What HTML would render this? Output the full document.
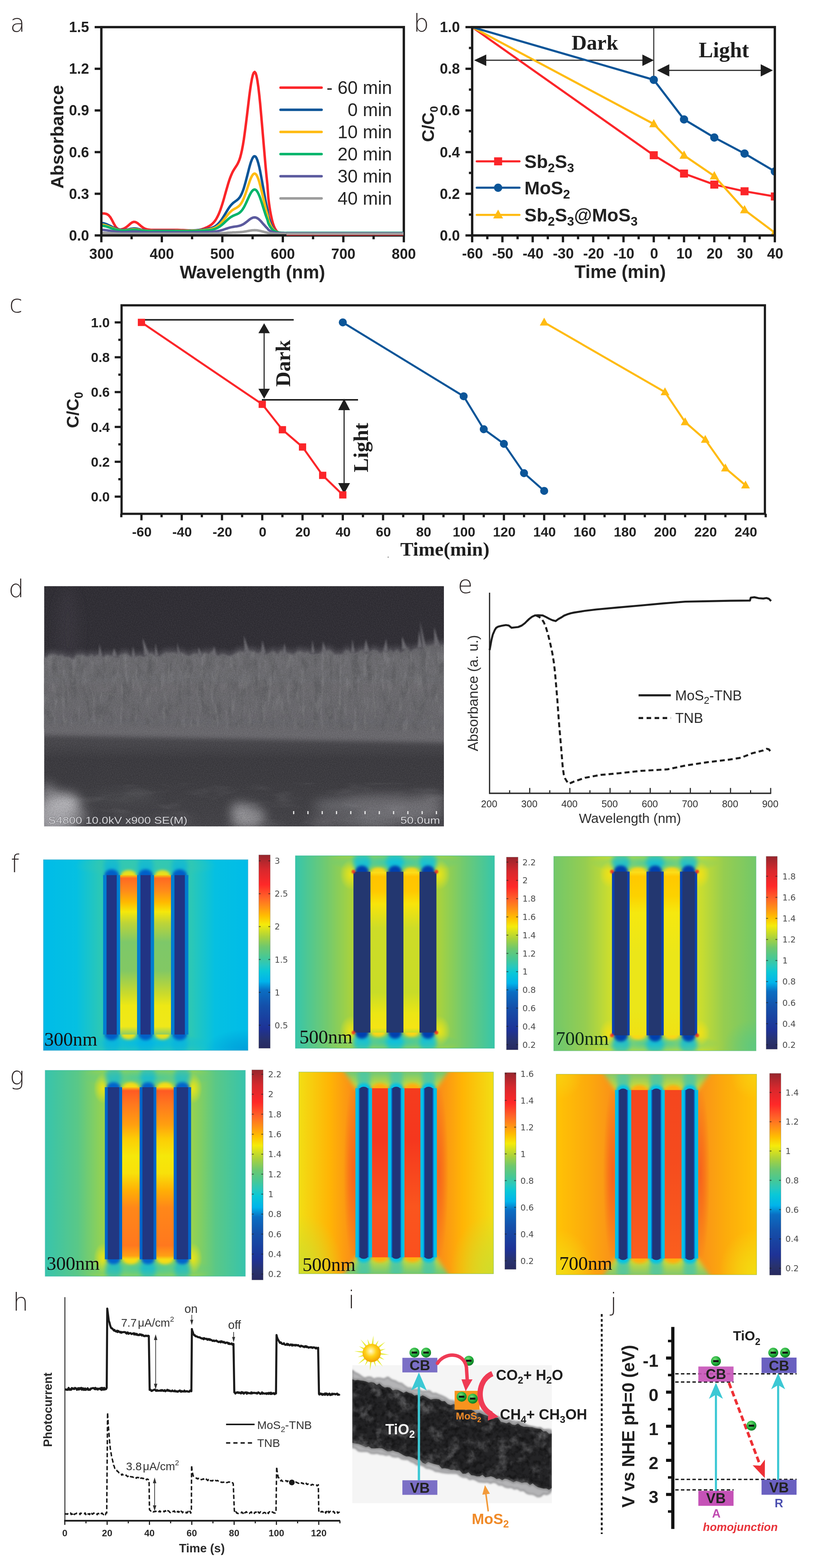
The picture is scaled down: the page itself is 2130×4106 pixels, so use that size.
<!DOCTYPE html><html><head><meta charset="utf-8"><title>Figure</title><style>html,body{margin:0;padding:0;background:#fff;}svg{display:block;}</style></head><body>
<svg width="2130" height="4106" viewBox="0 0 2130 4106">
<defs><clipPath id="clipA"><rect x="266.5" y="71" width="790.5" height="549.5"/></clipPath><clipPath id="clipB"><rect x="1225" y="59" width="805" height="557.5"/></clipPath><clipPath id="semclip"><rect x="115.6" y="1535" width="1047.4" height="629"/></clipPath><linearGradient id="semg" x1="0" y1="0" x2="0" y2="1">
<stop offset="0" stop-color="#302e35"/><stop offset="0.27" stop-color="#312f36"/>
<stop offset="0.62" stop-color="#4c4b50"/><stop offset="0.66" stop-color="#48474c"/>
<stop offset="0.72" stop-color="#3c3b40"/><stop offset="0.80" stop-color="#3d3c41"/>
<stop offset="0.88" stop-color="#403f44"/><stop offset="1" stop-color="#454449"/></linearGradient><linearGradient id="fibg" x1="0" y1="0" x2="0" y2="1">
<stop offset="0" stop-color="#646368"/><stop offset="0.08" stop-color="#727176"/><stop offset="0.4" stop-color="#6c6b70"/><stop offset="0.7" stop-color="#616065"/><stop offset="1" stop-color="#646368"/></linearGradient><filter id="semnoise" x="0" y="0" width="100%" height="100%">
<feTurbulence type="fractalNoise" baseFrequency="0.45" numOctaves="2" seed="4" result="t"/>
<feColorMatrix in="t" type="matrix" values="0 0 0 0 0  0 0 0 0 0  0 0 0 0 0  0 0 0 -1.6 1.05"/></filter><filter id="semnoise2" x="0" y="0" width="100%" height="100%">
<feTurbulence type="fractalNoise" baseFrequency="0.45" numOctaves="2" seed="9" result="t"/>
<feColorMatrix in="t" type="matrix" values="0 0 0 0 1  0 0 0 0 1  0 0 0 0 1  0 0 0 -1.6 1.0"/></filter><filter id="streak" x="0" y="0" width="100%" height="100%">
<feTurbulence type="fractalNoise" baseFrequency="0.05 0.018" numOctaves="3" seed="2" result="t"/>
<feColorMatrix in="t" type="matrix" values="0 0 0 0 0.12  0 0 0 0 0.12  0 0 0 0 0.13  0 0 0 -4.0 2.1"/></filter><filter id="streakw" x="0" y="0" width="100%" height="100%">
<feTurbulence type="fractalNoise" baseFrequency="0.08 0.016" numOctaves="3" seed="17" result="t"/>
<feColorMatrix in="t" type="matrix" values="0 0 0 0 0.75  0 0 0 0 0.75  0 0 0 0 0.76  0 0 0 4.0 -2.1"/></filter><filter id="pits" x="0" y="0" width="100%" height="100%">
<feTurbulence type="fractalNoise" baseFrequency="0.085" numOctaves="3" seed="13" result="t"/>
<feColorMatrix in="t" type="matrix" values="0 0 0 0 0.15  0 0 0 0 0.15  0 0 0 0 0.16  0 0 0 -5 2.65"/></filter><filter id="blotch" x="0" y="0" width="100%" height="100%">
<feTurbulence type="fractalNoise" baseFrequency="0.01 0.035" numOctaves="3" seed="11" result="t"/>
<feColorMatrix in="t" type="matrix" values="0 0 0 0 0.85  0 0 0 0 0.85  0 0 0 0 0.87  0 0 0 2.0 -1.05"/></filter><filter id="blur6" x="-20%" y="-20%" width="140%" height="140%"><feGaussianBlur stdDeviation="6"/></filter><filter id="blur3" x="-20%" y="-20%" width="140%" height="140%"><feGaussianBlur stdDeviation="2.5"/></filter><filter id="blur14" x="-50%" y="-50%" width="200%" height="200%"><feGaussianBlur stdDeviation="14"/></filter><filter id="blur2"><feGaussianBlur stdDeviation="2"/></filter><clipPath id="fibclip"><path d="M110.6 2164 L110.6 1717.6 L116.7 1722.1 L122.2 1720.4 L129.7 1713.6 L138.3 1713.1 L146.3 1713.5 L151.9 1718.3 L162.7 1713.9 L169.3 1720.9 L180.9 1720 L188.7 1725.4 L194 1723.7 L201.1 1713.6 L206.9 1715.7 L217.6 1713.8 L226.7 1720 L234.3 1718.6 L239.7 1711.7 L246.2 1720.3 L254.1 1715 L263.2 1716.8 L270.3 1721.5 L280.2 1713.6 L289.3 1717.4 L300.4 1720 L307.4 1723.4 L313.2 1715.5 L323.5 1711.6 L332 1709.8 L341.6 1719.8 L350.6 1721.2 L357.8 1718.6 L367 1716.8 L375.2 1720.3 L386.8 1715 L396.5 1709 L406.4 1717.1 L418.3 1719.3 L425.3 1713.1 L435 1707.8 L443.2 1709.7 L449 1708.1 L459.4 1708.9 L466.1 1712.4 L477.2 1707.9 L485.4 1714.3 L496.6 1717.9 L507.6 1710.2 L515.5 1711.1 L526.7 1719.3 L532.8 1708.3 L539.4 1709 L547.8 1713.8 L554.6 1705.5 L562.6 1710.5 L571.5 1718.5 L581.4 1712.2 L590.7 1714.3 L596.1 1717.3 L606.5 1716.8 L617.1 1709.9 L624.9 1705.7 L634.3 1705 L639.8 1706.9 L646 1708.6 L651.3 1703.8 L657.4 1705.1 L664.9 1703.9 L676 1712 L682.1 1706.8 L689.5 1708.2 L695.4 1714.9 L707.3 1709.4 L715.7 1703.9 L721.4 1707.4 L728.3 1714.1 L734.4 1702.7 L746.1 1709.6 L752.1 1709.7 L757.3 1709.4 L769.1 1713.9 L779 1705.3 L786.6 1703.8 L797 1708.7 L807.4 1705.7 L814 1712.4 L825.9 1712.7 L836.5 1712.1 L846.7 1703.6 L855.3 1705.3 L860.5 1700.6 L867.5 1703.7 L877.3 1713.3 L885.5 1712.9 L897.4 1712.9 L904.9 1702.5 L911.5 1702.1 L918 1707.9 L929.3 1710.8 L937.6 1708 L948.2 1699.9 L957.8 1711.3 L968.3 1708.8 L976.7 1700.7 L987.2 1702.7 L997.8 1711.4 L1005.6 1703.3 L1017.2 1707.7 L1023.4 1699.2 L1029.4 1710 L1040.1 1699.2 L1050.9 1710.5 L1060.5 1700.3 L1069.3 1696 L1074.4 1707 L1084 1699.4 L1095.5 1696.4 L1106.6 1700.3 L1113.1 1691.4 L1120.1 1690.2 L1129.2 1689.1 L1137.2 1686.2 L1148.5 1687.7 L1156.7 1689.7 L1168.1 1685.8 L1173 1927 L110.6 1907 Z" transform="translate(0 4)"/></clipPath><filter id="mblur5" x="-50%" y="-50%" width="200%" height="200%"><feGaussianBlur stdDeviation="6"/></filter><filter id="mblur3" x="-50%" y="-50%" width="200%" height="200%"><feGaussianBlur stdDeviation="3.5"/></filter><filter id="mblur1" x="-50%" y="-50%" width="200%" height="200%"><feGaussianBlur stdDeviation="1.5"/></filter><clipPath id="mc1"><rect x="113.8" y="2251.2" width="535.8" height="499.4"/></clipPath><linearGradient id="lg2" x1="0" y1="0" x2="1" y2="0"><stop offset="0.0000" stop-color="#00bce8"/><stop offset="0.1605" stop-color="#05c0e2"/><stop offset="0.2831" stop-color="#2dc8b4"/><stop offset="0.7174" stop-color="#2dc8b4"/><stop offset="0.8398" stop-color="#05c0e2"/><stop offset="1.0000" stop-color="#00bce8"/></linearGradient><radialGradient id="rg3"><stop offset="0" stop-color="#37c8af" stop-opacity="0.9"/><stop offset="0.45" stop-color="#37c8af" stop-opacity="0.54"/><stop offset="1" stop-color="#37c8af" stop-opacity="0"/></radialGradient><radialGradient id="rg4"><stop offset="0" stop-color="#00b9e8" stop-opacity="0.9"/><stop offset="0.45" stop-color="#00b9e8" stop-opacity="0.54"/><stop offset="1" stop-color="#00b9e8" stop-opacity="0"/></radialGradient><radialGradient id="rg5"><stop offset="0" stop-color="#008cd2" stop-opacity="0.6"/><stop offset="0.45" stop-color="#008cd2" stop-opacity="0.36"/><stop offset="1" stop-color="#008cd2" stop-opacity="0"/></radialGradient><radialGradient id="rg6"><stop offset="0" stop-color="#008cd2" stop-opacity="0.6"/><stop offset="0.45" stop-color="#008cd2" stop-opacity="0.36"/><stop offset="1" stop-color="#008cd2" stop-opacity="0"/></radialGradient><linearGradient id="lg7" x1="0" y1="2251.2" x2="0" y2="2291.5" gradientUnits="userSpaceOnUse"><stop offset="0.0000" stop-color="#00afe6" stop-opacity="0.44999999999999996"/><stop offset="1.0000" stop-color="#00afe6" stop-opacity="0.75"/></linearGradient><linearGradient id="lg8" x1="0" y1="2709" x2="0" y2="2750.6" gradientUnits="userSpaceOnUse"><stop offset="0.0000" stop-color="#00afe6" stop-opacity="0.75"/><stop offset="1.0000" stop-color="#00afe6" stop-opacity="0.44999999999999996"/></linearGradient><linearGradient id="lg9" x1="0" y1="2251.2" x2="0" y2="2291.5" gradientUnits="userSpaceOnUse"><stop offset="0.0000" stop-color="#00afe6" stop-opacity="0.44999999999999996"/><stop offset="1.0000" stop-color="#00afe6" stop-opacity="0.75"/></linearGradient><linearGradient id="lg10" x1="0" y1="2709" x2="0" y2="2750.6" gradientUnits="userSpaceOnUse"><stop offset="0.0000" stop-color="#00afe6" stop-opacity="0.75"/><stop offset="1.0000" stop-color="#00afe6" stop-opacity="0.44999999999999996"/></linearGradient><linearGradient id="lg11" x1="0" y1="2251.2" x2="0" y2="2291.5" gradientUnits="userSpaceOnUse"><stop offset="0.0000" stop-color="#00afe6" stop-opacity="0.44999999999999996"/><stop offset="1.0000" stop-color="#00afe6" stop-opacity="0.75"/></linearGradient><linearGradient id="lg12" x1="0" y1="2709" x2="0" y2="2750.6" gradientUnits="userSpaceOnUse"><stop offset="0.0000" stop-color="#00afe6" stop-opacity="0.75"/><stop offset="1.0000" stop-color="#00afe6" stop-opacity="0.44999999999999996"/></linearGradient><linearGradient id="lg13" x1="0" y1="0" x2="0" y2="1"><stop offset="0.0000" stop-color="#f5c80a"/><stop offset="0.0200" stop-color="#ff6923"/><stop offset="0.1000" stop-color="#ff8c19"/><stop offset="0.1700" stop-color="#ffb900"/><stop offset="0.2300" stop-color="#f5e80a"/><stop offset="0.3000" stop-color="#bed437"/><stop offset="0.4200" stop-color="#7dc869"/><stop offset="0.6000" stop-color="#82c864"/><stop offset="0.7400" stop-color="#c8da2d"/><stop offset="0.8200" stop-color="#eee814"/><stop offset="0.9500" stop-color="#f0e819"/><stop offset="1.0000" stop-color="#8ccd64"/></linearGradient><linearGradient id="lg14" x1="0" y1="0" x2="0" y2="1"><stop offset="0.0000" stop-color="#f5c80a"/><stop offset="0.0200" stop-color="#ff6923"/><stop offset="0.1000" stop-color="#ff8c19"/><stop offset="0.1700" stop-color="#ffb900"/><stop offset="0.2300" stop-color="#f5e80a"/><stop offset="0.3000" stop-color="#bed437"/><stop offset="0.4200" stop-color="#7dc869"/><stop offset="0.6000" stop-color="#82c864"/><stop offset="0.7400" stop-color="#c8da2d"/><stop offset="0.8200" stop-color="#eee814"/><stop offset="0.9500" stop-color="#f0e819"/><stop offset="1.0000" stop-color="#8ccd64"/></linearGradient><linearGradient id="lg15" x1="0" y1="0" x2="0" y2="1"><stop offset="0.0000" stop-color="#96262d"/><stop offset="0.0740" stop-color="#d7282d"/><stop offset="0.1540" stop-color="#ff2828"/><stop offset="0.2200" stop-color="#ff6428"/><stop offset="0.2750" stop-color="#ff9614"/><stop offset="0.3150" stop-color="#ffbe00"/><stop offset="0.3600" stop-color="#f5eb0a"/><stop offset="0.4230" stop-color="#aad23c"/><stop offset="0.4750" stop-color="#6ec86e"/><stop offset="0.5300" stop-color="#46c896"/><stop offset="0.5700" stop-color="#28c8be"/><stop offset="0.6000" stop-color="#0ac8d7"/><stop offset="0.6550" stop-color="#00b4eb"/><stop offset="0.7000" stop-color="#0a6ec3"/><stop offset="0.7800" stop-color="#1450aa"/><stop offset="0.9000" stop-color="#1e3296"/><stop offset="0.9550" stop-color="#28326e"/><stop offset="1.0000" stop-color="#282a5f"/></linearGradient><clipPath id="mc16"><rect x="774" y="2240.9" width="521.4" height="504.1"/></clipPath><linearGradient id="lg17" x1="0" y1="0" x2="1" y2="0"><stop offset="0.0000" stop-color="#37c6aa"/><stop offset="0.1603" stop-color="#73ca6e"/><stop offset="0.2828" stop-color="#aad23c"/><stop offset="0.7172" stop-color="#aad23c"/><stop offset="0.8397" stop-color="#73ca6e"/><stop offset="1.0000" stop-color="#37c6aa"/></linearGradient><radialGradient id="rg18"><stop offset="0" stop-color="#32c8b4" stop-opacity="0.95"/><stop offset="0.45" stop-color="#32c8b4" stop-opacity="0.57"/><stop offset="1" stop-color="#32c8b4" stop-opacity="0"/></radialGradient><radialGradient id="rg19"><stop offset="0" stop-color="#32c8b4" stop-opacity="0.95"/><stop offset="0.45" stop-color="#32c8b4" stop-opacity="0.57"/><stop offset="1" stop-color="#32c8b4" stop-opacity="0"/></radialGradient><radialGradient id="rg20"><stop offset="0" stop-color="#f0e614" stop-opacity="0.9"/><stop offset="0.45" stop-color="#f0e614" stop-opacity="0.54"/><stop offset="1" stop-color="#f0e614" stop-opacity="0"/></radialGradient><radialGradient id="rg21"><stop offset="0" stop-color="#f0e614" stop-opacity="0.9"/><stop offset="0.45" stop-color="#f0e614" stop-opacity="0.54"/><stop offset="1" stop-color="#f0e614" stop-opacity="0"/></radialGradient><radialGradient id="rg22"><stop offset="0" stop-color="#f0e614" stop-opacity="0.9"/><stop offset="0.45" stop-color="#f0e614" stop-opacity="0.54"/><stop offset="1" stop-color="#f0e614" stop-opacity="0"/></radialGradient><radialGradient id="rg23"><stop offset="0" stop-color="#f0e614" stop-opacity="0.9"/><stop offset="0.45" stop-color="#f0e614" stop-opacity="0.54"/><stop offset="1" stop-color="#f0e614" stop-opacity="0"/></radialGradient><linearGradient id="lg24" x1="0" y1="2240.9" x2="0" y2="2282.8" gradientUnits="userSpaceOnUse"><stop offset="0.0000" stop-color="#00beeb" stop-opacity="0.57"/><stop offset="1.0000" stop-color="#00beeb" stop-opacity="0.95"/></linearGradient><linearGradient id="lg25" x1="0" y1="2704" x2="0" y2="2745" gradientUnits="userSpaceOnUse"><stop offset="0.0000" stop-color="#00beeb" stop-opacity="0.95"/><stop offset="1.0000" stop-color="#00beeb" stop-opacity="0.57"/></linearGradient><linearGradient id="lg26" x1="0" y1="2240.9" x2="0" y2="2282.8" gradientUnits="userSpaceOnUse"><stop offset="0.0000" stop-color="#00beeb" stop-opacity="0.57"/><stop offset="1.0000" stop-color="#00beeb" stop-opacity="0.95"/></linearGradient><linearGradient id="lg27" x1="0" y1="2704" x2="0" y2="2745" gradientUnits="userSpaceOnUse"><stop offset="0.0000" stop-color="#00beeb" stop-opacity="0.95"/><stop offset="1.0000" stop-color="#00beeb" stop-opacity="0.57"/></linearGradient><linearGradient id="lg28" x1="0" y1="2240.9" x2="0" y2="2282.8" gradientUnits="userSpaceOnUse"><stop offset="0.0000" stop-color="#00beeb" stop-opacity="0.57"/><stop offset="1.0000" stop-color="#00beeb" stop-opacity="0.95"/></linearGradient><linearGradient id="lg29" x1="0" y1="2704" x2="0" y2="2745" gradientUnits="userSpaceOnUse"><stop offset="0.0000" stop-color="#00beeb" stop-opacity="0.95"/><stop offset="1.0000" stop-color="#00beeb" stop-opacity="0.57"/></linearGradient><linearGradient id="lg30" x1="0" y1="0" x2="0" y2="1"><stop offset="0.0000" stop-color="#fae11e"/><stop offset="0.0300" stop-color="#ffc300"/><stop offset="0.1200" stop-color="#ffc800"/><stop offset="0.2000" stop-color="#f8e40a"/><stop offset="0.3500" stop-color="#cddc28"/><stop offset="0.7500" stop-color="#c8dc28"/><stop offset="0.8800" stop-color="#ebe614"/><stop offset="0.9700" stop-color="#f5e414"/><stop offset="1.0000" stop-color="#c8dc28"/></linearGradient><linearGradient id="lg31" x1="0" y1="0" x2="0" y2="1"><stop offset="0.0000" stop-color="#fae11e"/><stop offset="0.0300" stop-color="#ffc300"/><stop offset="0.1200" stop-color="#ffc800"/><stop offset="0.2000" stop-color="#f8e40a"/><stop offset="0.3500" stop-color="#cddc28"/><stop offset="0.7500" stop-color="#c8dc28"/><stop offset="0.8800" stop-color="#ebe614"/><stop offset="0.9700" stop-color="#f5e414"/><stop offset="1.0000" stop-color="#c8dc28"/></linearGradient><linearGradient id="lg32" x1="0" y1="0" x2="0" y2="1"><stop offset="0.0000" stop-color="#96262d"/><stop offset="0.0740" stop-color="#d7282d"/><stop offset="0.1540" stop-color="#ff2828"/><stop offset="0.2200" stop-color="#ff6428"/><stop offset="0.2750" stop-color="#ff9614"/><stop offset="0.3150" stop-color="#ffbe00"/><stop offset="0.3600" stop-color="#f5eb0a"/><stop offset="0.4230" stop-color="#aad23c"/><stop offset="0.4750" stop-color="#6ec86e"/><stop offset="0.5300" stop-color="#46c896"/><stop offset="0.5700" stop-color="#28c8be"/><stop offset="0.6000" stop-color="#0ac8d7"/><stop offset="0.6550" stop-color="#00b4eb"/><stop offset="0.7000" stop-color="#0a6ec3"/><stop offset="0.7800" stop-color="#1450aa"/><stop offset="0.9000" stop-color="#1e3296"/><stop offset="0.9550" stop-color="#28326e"/><stop offset="1.0000" stop-color="#282a5f"/></linearGradient><clipPath id="mc33"><rect x="1450.8" y="2242.5" width="529.9" height="509.1"/></clipPath><linearGradient id="lg34" x1="0" y1="0" x2="1" y2="0"><stop offset="0.0000" stop-color="#73c869"/><stop offset="0.1583" stop-color="#96cd50"/><stop offset="0.2792" stop-color="#cdde2d"/><stop offset="0.7177" stop-color="#cdde2d"/><stop offset="0.8400" stop-color="#96cd50"/><stop offset="1.0000" stop-color="#73c869"/></linearGradient><radialGradient id="rg35"><stop offset="0" stop-color="#46c8a0" stop-opacity="0.95"/><stop offset="0.45" stop-color="#46c8a0" stop-opacity="0.57"/><stop offset="1" stop-color="#46c8a0" stop-opacity="0"/></radialGradient><radialGradient id="rg36"><stop offset="0" stop-color="#46c8a0" stop-opacity="0.95"/><stop offset="0.45" stop-color="#46c8a0" stop-opacity="0.57"/><stop offset="1" stop-color="#46c8a0" stop-opacity="0"/></radialGradient><radialGradient id="rg37"><stop offset="0" stop-color="#50c88c" stop-opacity="0.6"/><stop offset="0.45" stop-color="#50c88c" stop-opacity="0.36"/><stop offset="1" stop-color="#50c88c" stop-opacity="0"/></radialGradient><radialGradient id="rg38"><stop offset="0" stop-color="#64c878" stop-opacity="0.5"/><stop offset="0.45" stop-color="#64c878" stop-opacity="0.3"/><stop offset="1" stop-color="#64c878" stop-opacity="0"/></radialGradient><radialGradient id="rg39"><stop offset="0" stop-color="#f5e114" stop-opacity="0.9"/><stop offset="0.45" stop-color="#f5e114" stop-opacity="0.54"/><stop offset="1" stop-color="#f5e114" stop-opacity="0"/></radialGradient><radialGradient id="rg40"><stop offset="0" stop-color="#f5e114" stop-opacity="0.9"/><stop offset="0.45" stop-color="#f5e114" stop-opacity="0.54"/><stop offset="1" stop-color="#f5e114" stop-opacity="0"/></radialGradient><radialGradient id="rg41"><stop offset="0" stop-color="#f5e114" stop-opacity="0.9"/><stop offset="0.45" stop-color="#f5e114" stop-opacity="0.54"/><stop offset="1" stop-color="#f5e114" stop-opacity="0"/></radialGradient><radialGradient id="rg42"><stop offset="0" stop-color="#f5e114" stop-opacity="0.9"/><stop offset="0.45" stop-color="#f5e114" stop-opacity="0.54"/><stop offset="1" stop-color="#f5e114" stop-opacity="0"/></radialGradient><linearGradient id="lg43" x1="0" y1="2242.5" x2="0" y2="2282.4" gradientUnits="userSpaceOnUse"><stop offset="0.0000" stop-color="#00b9e8" stop-opacity="0.54"/><stop offset="1.0000" stop-color="#00b9e8" stop-opacity="0.9"/></linearGradient><linearGradient id="lg44" x1="0" y1="2711.2" x2="0" y2="2751.6" gradientUnits="userSpaceOnUse"><stop offset="0.0000" stop-color="#00b9e8" stop-opacity="0.9"/><stop offset="1.0000" stop-color="#00b9e8" stop-opacity="0.54"/></linearGradient><linearGradient id="lg45" x1="0" y1="2242.5" x2="0" y2="2282.4" gradientUnits="userSpaceOnUse"><stop offset="0.0000" stop-color="#00b9e8" stop-opacity="0.54"/><stop offset="1.0000" stop-color="#00b9e8" stop-opacity="0.9"/></linearGradient><linearGradient id="lg46" x1="0" y1="2711.2" x2="0" y2="2751.6" gradientUnits="userSpaceOnUse"><stop offset="0.0000" stop-color="#00b9e8" stop-opacity="0.9"/><stop offset="1.0000" stop-color="#00b9e8" stop-opacity="0.54"/></linearGradient><linearGradient id="lg47" x1="0" y1="2242.5" x2="0" y2="2282.4" gradientUnits="userSpaceOnUse"><stop offset="0.0000" stop-color="#00b9e8" stop-opacity="0.54"/><stop offset="1.0000" stop-color="#00b9e8" stop-opacity="0.9"/></linearGradient><linearGradient id="lg48" x1="0" y1="2711.2" x2="0" y2="2751.6" gradientUnits="userSpaceOnUse"><stop offset="0.0000" stop-color="#00b9e8" stop-opacity="0.9"/><stop offset="1.0000" stop-color="#00b9e8" stop-opacity="0.54"/></linearGradient><linearGradient id="lg49" x1="0" y1="0" x2="0" y2="1"><stop offset="0.0000" stop-color="#fae11e"/><stop offset="0.0300" stop-color="#ffc800"/><stop offset="0.1500" stop-color="#fcd200"/><stop offset="0.2500" stop-color="#f5e80f"/><stop offset="0.5000" stop-color="#ebe619"/><stop offset="0.8500" stop-color="#ebe619"/><stop offset="1.0000" stop-color="#f0e114"/></linearGradient><linearGradient id="lg50" x1="0" y1="0" x2="0" y2="1"><stop offset="0.0000" stop-color="#fae11e"/><stop offset="0.0300" stop-color="#ffc800"/><stop offset="0.1500" stop-color="#fcd200"/><stop offset="0.2500" stop-color="#f5e80f"/><stop offset="0.5000" stop-color="#ebe619"/><stop offset="0.8500" stop-color="#ebe619"/><stop offset="1.0000" stop-color="#f0e114"/></linearGradient><linearGradient id="lg51" x1="0" y1="0" x2="0" y2="1"><stop offset="0.0000" stop-color="#96262d"/><stop offset="0.0740" stop-color="#d7282d"/><stop offset="0.1540" stop-color="#ff2828"/><stop offset="0.2200" stop-color="#ff6428"/><stop offset="0.2750" stop-color="#ff9614"/><stop offset="0.3150" stop-color="#ffbe00"/><stop offset="0.3600" stop-color="#f5eb0a"/><stop offset="0.4230" stop-color="#aad23c"/><stop offset="0.4750" stop-color="#6ec86e"/><stop offset="0.5300" stop-color="#46c896"/><stop offset="0.5700" stop-color="#28c8be"/><stop offset="0.6000" stop-color="#0ac8d7"/><stop offset="0.6550" stop-color="#00b4eb"/><stop offset="0.7000" stop-color="#0a6ec3"/><stop offset="0.7800" stop-color="#1450aa"/><stop offset="0.9000" stop-color="#1e3296"/><stop offset="0.9550" stop-color="#28326e"/><stop offset="1.0000" stop-color="#282a5f"/></linearGradient><clipPath id="mc52"><rect x="118.3" y="2802.8" width="524.5" height="539.2"/></clipPath><linearGradient id="lg53" x1="0" y1="0" x2="1" y2="0"><stop offset="0.0000" stop-color="#37c4ac"/><stop offset="0.1640" stop-color="#5ac887"/><stop offset="0.2892" stop-color="#96d250"/><stop offset="0.7370" stop-color="#96d250"/><stop offset="0.8509" stop-color="#5ac887"/><stop offset="1.0000" stop-color="#37c4ac"/></linearGradient><radialGradient id="rg54"><stop offset="0" stop-color="#3cc8aa" stop-opacity="0.85"/><stop offset="0.45" stop-color="#3cc8aa" stop-opacity="0.51"/><stop offset="1" stop-color="#3cc8aa" stop-opacity="0"/></radialGradient><radialGradient id="rg55"><stop offset="0" stop-color="#3cc8aa" stop-opacity="0.85"/><stop offset="0.45" stop-color="#3cc8aa" stop-opacity="0.51"/><stop offset="1" stop-color="#3cc8aa" stop-opacity="0"/></radialGradient><radialGradient id="rg56"><stop offset="0" stop-color="#f0e614" stop-opacity="0.9"/><stop offset="0.45" stop-color="#f0e614" stop-opacity="0.54"/><stop offset="1" stop-color="#f0e614" stop-opacity="0"/></radialGradient><radialGradient id="rg57"><stop offset="0" stop-color="#f0e614" stop-opacity="0.9"/><stop offset="0.45" stop-color="#f0e614" stop-opacity="0.54"/><stop offset="1" stop-color="#f0e614" stop-opacity="0"/></radialGradient><radialGradient id="rg58"><stop offset="0" stop-color="#f0e614" stop-opacity="0.9"/><stop offset="0.45" stop-color="#f0e614" stop-opacity="0.54"/><stop offset="1" stop-color="#f0e614" stop-opacity="0"/></radialGradient><radialGradient id="rg59"><stop offset="0" stop-color="#f0e614" stop-opacity="0.9"/><stop offset="0.45" stop-color="#f0e614" stop-opacity="0.54"/><stop offset="1" stop-color="#f0e614" stop-opacity="0"/></radialGradient><linearGradient id="lg60" x1="0" y1="2802.8" x2="0" y2="2847" gradientUnits="userSpaceOnUse"><stop offset="0.0000" stop-color="#00b4e6" stop-opacity="0.44999999999999996"/><stop offset="1.0000" stop-color="#00b4e6" stop-opacity="0.75"/></linearGradient><linearGradient id="lg61" x1="0" y1="3297.6" x2="0" y2="3342" gradientUnits="userSpaceOnUse"><stop offset="0.0000" stop-color="#00b4e6" stop-opacity="0.75"/><stop offset="1.0000" stop-color="#00b4e6" stop-opacity="0.44999999999999996"/></linearGradient><linearGradient id="lg62" x1="0" y1="2802.8" x2="0" y2="2847" gradientUnits="userSpaceOnUse"><stop offset="0.0000" stop-color="#00b4e6" stop-opacity="0.44999999999999996"/><stop offset="1.0000" stop-color="#00b4e6" stop-opacity="0.75"/></linearGradient><linearGradient id="lg63" x1="0" y1="3297.6" x2="0" y2="3342" gradientUnits="userSpaceOnUse"><stop offset="0.0000" stop-color="#00b4e6" stop-opacity="0.75"/><stop offset="1.0000" stop-color="#00b4e6" stop-opacity="0.44999999999999996"/></linearGradient><linearGradient id="lg64" x1="0" y1="2802.8" x2="0" y2="2847" gradientUnits="userSpaceOnUse"><stop offset="0.0000" stop-color="#00b4e6" stop-opacity="0.44999999999999996"/><stop offset="1.0000" stop-color="#00b4e6" stop-opacity="0.75"/></linearGradient><linearGradient id="lg65" x1="0" y1="3297.6" x2="0" y2="3342" gradientUnits="userSpaceOnUse"><stop offset="0.0000" stop-color="#00b4e6" stop-opacity="0.75"/><stop offset="1.0000" stop-color="#00b4e6" stop-opacity="0.44999999999999996"/></linearGradient><linearGradient id="lg66" x1="0" y1="0" x2="0" y2="1"><stop offset="0.0000" stop-color="#fac814"/><stop offset="0.0200" stop-color="#ff5a23"/><stop offset="0.1000" stop-color="#ff781e"/><stop offset="0.2200" stop-color="#ffa00f"/><stop offset="0.3000" stop-color="#fccd05"/><stop offset="0.4000" stop-color="#f5e80a"/><stop offset="0.5000" stop-color="#f8e10a"/><stop offset="0.6000" stop-color="#ffaf05"/><stop offset="0.7000" stop-color="#ff8719"/><stop offset="0.9200" stop-color="#ff781e"/><stop offset="0.9800" stop-color="#ffa014"/><stop offset="1.0000" stop-color="#f5dc14"/></linearGradient><linearGradient id="lg67" x1="0" y1="0" x2="0" y2="1"><stop offset="0.0000" stop-color="#fac814"/><stop offset="0.0200" stop-color="#ff5a23"/><stop offset="0.1000" stop-color="#ff781e"/><stop offset="0.2200" stop-color="#ffa00f"/><stop offset="0.3000" stop-color="#fccd05"/><stop offset="0.4000" stop-color="#f5e80a"/><stop offset="0.5000" stop-color="#f8e10a"/><stop offset="0.6000" stop-color="#ffaf05"/><stop offset="0.7000" stop-color="#ff8719"/><stop offset="0.9200" stop-color="#ff781e"/><stop offset="0.9800" stop-color="#ffa014"/><stop offset="1.0000" stop-color="#f5dc14"/></linearGradient><linearGradient id="lg68" x1="0" y1="0" x2="0" y2="1"><stop offset="0.0000" stop-color="#96262d"/><stop offset="0.0740" stop-color="#d7282d"/><stop offset="0.1540" stop-color="#ff2828"/><stop offset="0.2200" stop-color="#ff6428"/><stop offset="0.2750" stop-color="#ff9614"/><stop offset="0.3150" stop-color="#ffbe00"/><stop offset="0.3600" stop-color="#f5eb0a"/><stop offset="0.4230" stop-color="#aad23c"/><stop offset="0.4750" stop-color="#6ec86e"/><stop offset="0.5300" stop-color="#46c896"/><stop offset="0.5700" stop-color="#28c8be"/><stop offset="0.6000" stop-color="#0ac8d7"/><stop offset="0.6550" stop-color="#00b4eb"/><stop offset="0.7000" stop-color="#0a6ec3"/><stop offset="0.7800" stop-color="#1450aa"/><stop offset="0.9000" stop-color="#1e3296"/><stop offset="0.9550" stop-color="#28326e"/><stop offset="1.0000" stop-color="#282a5f"/></linearGradient><clipPath id="mc69"><rect x="783" y="2807.2" width="509.8" height="528.2"/></clipPath><linearGradient id="lg70" x1="0" y1="0" x2="1" y2="0"><stop offset="0.0000" stop-color="#f2de14"/><stop offset="0.1599" stop-color="#ffb405"/><stop offset="0.2820" stop-color="#fa8c19"/><stop offset="0.7178" stop-color="#fa8c19"/><stop offset="0.8400" stop-color="#ffb405"/><stop offset="1.0000" stop-color="#f2de14"/></linearGradient><radialGradient id="rg71"><stop offset="0" stop-color="#cddc2d" stop-opacity="0.9"/><stop offset="0.45" stop-color="#cddc2d" stop-opacity="0.54"/><stop offset="1" stop-color="#cddc2d" stop-opacity="0"/></radialGradient><radialGradient id="rg72"><stop offset="0" stop-color="#cddc2d" stop-opacity="0.9"/><stop offset="0.45" stop-color="#cddc2d" stop-opacity="0.54"/><stop offset="1" stop-color="#cddc2d" stop-opacity="0"/></radialGradient><radialGradient id="rg73"><stop offset="0" stop-color="#f53c1e" stop-opacity="0.5"/><stop offset="0.45" stop-color="#f53c1e" stop-opacity="0.3"/><stop offset="1" stop-color="#f53c1e" stop-opacity="0"/></radialGradient><radialGradient id="rg74"><stop offset="0" stop-color="#f53c1e" stop-opacity="0.5"/><stop offset="0.45" stop-color="#f53c1e" stop-opacity="0.3"/><stop offset="1" stop-color="#f53c1e" stop-opacity="0"/></radialGradient><linearGradient id="lg75" x1="0" y1="2807.2" x2="0" y2="2849.7" gradientUnits="userSpaceOnUse"><stop offset="0.0000" stop-color="#6ec878"/><stop offset="1.0000" stop-color="#d7de2d"/></linearGradient><linearGradient id="lg76" x1="0" y1="3335.4" x2="0" y2="3292.4" gradientUnits="userSpaceOnUse"><stop offset="0.0000" stop-color="#6ec878"/><stop offset="1.0000" stop-color="#d7de2d"/></linearGradient><linearGradient id="lg77" x1="0" y1="2807.2" x2="0" y2="2849.7" gradientUnits="userSpaceOnUse"><stop offset="0.0000" stop-color="#28c3c8" stop-opacity="0.48"/><stop offset="1.0000" stop-color="#28c3c8" stop-opacity="0.8"/></linearGradient><linearGradient id="lg78" x1="0" y1="3292.4" x2="0" y2="3335.4" gradientUnits="userSpaceOnUse"><stop offset="0.0000" stop-color="#28c3c8" stop-opacity="0.8"/><stop offset="1.0000" stop-color="#28c3c8" stop-opacity="0.48"/></linearGradient><linearGradient id="lg79" x1="0" y1="2807.2" x2="0" y2="2849.7" gradientUnits="userSpaceOnUse"><stop offset="0.0000" stop-color="#28c3c8" stop-opacity="0.48"/><stop offset="1.0000" stop-color="#28c3c8" stop-opacity="0.8"/></linearGradient><linearGradient id="lg80" x1="0" y1="3292.4" x2="0" y2="3335.4" gradientUnits="userSpaceOnUse"><stop offset="0.0000" stop-color="#28c3c8" stop-opacity="0.8"/><stop offset="1.0000" stop-color="#28c3c8" stop-opacity="0.48"/></linearGradient><linearGradient id="lg81" x1="0" y1="2807.2" x2="0" y2="2849.7" gradientUnits="userSpaceOnUse"><stop offset="0.0000" stop-color="#28c3c8" stop-opacity="0.48"/><stop offset="1.0000" stop-color="#28c3c8" stop-opacity="0.8"/></linearGradient><linearGradient id="lg82" x1="0" y1="3292.4" x2="0" y2="3335.4" gradientUnits="userSpaceOnUse"><stop offset="0.0000" stop-color="#28c3c8" stop-opacity="0.8"/><stop offset="1.0000" stop-color="#28c3c8" stop-opacity="0.48"/></linearGradient><linearGradient id="lg83" x1="0" y1="0" x2="0" y2="1"><stop offset="0.0000" stop-color="#f53c1e"/><stop offset="0.3000" stop-color="#f5371e"/><stop offset="0.7000" stop-color="#fa551e"/><stop offset="1.0000" stop-color="#fa501e"/></linearGradient><linearGradient id="lg84" x1="0" y1="0" x2="0" y2="1"><stop offset="0.0000" stop-color="#f53c1e"/><stop offset="0.3000" stop-color="#f5371e"/><stop offset="0.7000" stop-color="#fa551e"/><stop offset="1.0000" stop-color="#fa501e"/></linearGradient><linearGradient id="lg85" x1="0" y1="0" x2="0" y2="1"><stop offset="0.0000" stop-color="#96262d"/><stop offset="0.0740" stop-color="#d7282d"/><stop offset="0.1540" stop-color="#ff2828"/><stop offset="0.2200" stop-color="#ff6428"/><stop offset="0.2750" stop-color="#ff9614"/><stop offset="0.3150" stop-color="#ffbe00"/><stop offset="0.3600" stop-color="#f5eb0a"/><stop offset="0.4230" stop-color="#aad23c"/><stop offset="0.4750" stop-color="#6ec86e"/><stop offset="0.5300" stop-color="#46c896"/><stop offset="0.5700" stop-color="#28c8be"/><stop offset="0.6000" stop-color="#0ac8d7"/><stop offset="0.6550" stop-color="#00b4eb"/><stop offset="0.7000" stop-color="#0a6ec3"/><stop offset="0.7800" stop-color="#1450aa"/><stop offset="0.9000" stop-color="#1e3296"/><stop offset="0.9550" stop-color="#28326e"/><stop offset="1.0000" stop-color="#282a5f"/></linearGradient><clipPath id="mc86"><rect x="1457.2" y="2813" width="525.1" height="525"/></clipPath><linearGradient id="lg87" x1="0" y1="0" x2="1" y2="0"><stop offset="0.0000" stop-color="#ffc305"/><stop offset="0.1614" stop-color="#fcaa0c"/><stop offset="0.2847" stop-color="#fa9119"/><stop offset="0.7172" stop-color="#fa9119"/><stop offset="0.8396" stop-color="#fcaa0c"/><stop offset="1.0000" stop-color="#ffc305"/></linearGradient><radialGradient id="rg88"><stop offset="0" stop-color="#f0e114" stop-opacity="0.8"/><stop offset="0.45" stop-color="#f0e114" stop-opacity="0.48"/><stop offset="1" stop-color="#f0e114" stop-opacity="0"/></radialGradient><radialGradient id="rg89"><stop offset="0" stop-color="#f0e114" stop-opacity="0.8"/><stop offset="0.45" stop-color="#f0e114" stop-opacity="0.48"/><stop offset="1" stop-color="#f0e114" stop-opacity="0"/></radialGradient><radialGradient id="rg90"><stop offset="0" stop-color="#f5d714" stop-opacity="0.6"/><stop offset="0.45" stop-color="#f5d714" stop-opacity="0.36"/><stop offset="1" stop-color="#f5d714" stop-opacity="0"/></radialGradient><radialGradient id="rg91"><stop offset="0" stop-color="#f5d714" stop-opacity="0.6"/><stop offset="0.45" stop-color="#f5d714" stop-opacity="0.36"/><stop offset="1" stop-color="#f5d714" stop-opacity="0"/></radialGradient><radialGradient id="rg92"><stop offset="0" stop-color="#f53c1e" stop-opacity="0.55"/><stop offset="0.45" stop-color="#f53c1e" stop-opacity="0.33"/><stop offset="1" stop-color="#f53c1e" stop-opacity="0"/></radialGradient><radialGradient id="rg93"><stop offset="0" stop-color="#f53c1e" stop-opacity="0.55"/><stop offset="0.45" stop-color="#f53c1e" stop-opacity="0.33"/><stop offset="1" stop-color="#f53c1e" stop-opacity="0"/></radialGradient><linearGradient id="lg94" x1="0" y1="2813" x2="0" y2="2854.4" gradientUnits="userSpaceOnUse"><stop offset="0.0000" stop-color="#82c86e"/><stop offset="1.0000" stop-color="#dcde28"/></linearGradient><linearGradient id="lg95" x1="0" y1="3338" x2="0" y2="3295.5" gradientUnits="userSpaceOnUse"><stop offset="0.0000" stop-color="#82c86e"/><stop offset="1.0000" stop-color="#dcde28"/></linearGradient><linearGradient id="lg96" x1="0" y1="2813" x2="0" y2="2854.4" gradientUnits="userSpaceOnUse"><stop offset="0.0000" stop-color="#28c3c8" stop-opacity="0.48"/><stop offset="1.0000" stop-color="#28c3c8" stop-opacity="0.8"/></linearGradient><linearGradient id="lg97" x1="0" y1="3295.5" x2="0" y2="3338" gradientUnits="userSpaceOnUse"><stop offset="0.0000" stop-color="#28c3c8" stop-opacity="0.8"/><stop offset="1.0000" stop-color="#28c3c8" stop-opacity="0.48"/></linearGradient><linearGradient id="lg98" x1="0" y1="2813" x2="0" y2="2854.4" gradientUnits="userSpaceOnUse"><stop offset="0.0000" stop-color="#28c3c8" stop-opacity="0.48"/><stop offset="1.0000" stop-color="#28c3c8" stop-opacity="0.8"/></linearGradient><linearGradient id="lg99" x1="0" y1="3295.5" x2="0" y2="3338" gradientUnits="userSpaceOnUse"><stop offset="0.0000" stop-color="#28c3c8" stop-opacity="0.8"/><stop offset="1.0000" stop-color="#28c3c8" stop-opacity="0.48"/></linearGradient><linearGradient id="lg100" x1="0" y1="2813" x2="0" y2="2854.4" gradientUnits="userSpaceOnUse"><stop offset="0.0000" stop-color="#28c3c8" stop-opacity="0.48"/><stop offset="1.0000" stop-color="#28c3c8" stop-opacity="0.8"/></linearGradient><linearGradient id="lg101" x1="0" y1="3295.5" x2="0" y2="3338" gradientUnits="userSpaceOnUse"><stop offset="0.0000" stop-color="#28c3c8" stop-opacity="0.8"/><stop offset="1.0000" stop-color="#28c3c8" stop-opacity="0.48"/></linearGradient><linearGradient id="lg102" x1="0" y1="0" x2="0" y2="1"><stop offset="0.0000" stop-color="#f5461e"/><stop offset="0.4000" stop-color="#f54b1e"/><stop offset="1.0000" stop-color="#fa5f1e"/></linearGradient><linearGradient id="lg103" x1="0" y1="0" x2="0" y2="1"><stop offset="0.0000" stop-color="#f5461e"/><stop offset="0.4000" stop-color="#f54b1e"/><stop offset="1.0000" stop-color="#fa5f1e"/></linearGradient><linearGradient id="lg104" x1="0" y1="0" x2="0" y2="1"><stop offset="0.0000" stop-color="#96262d"/><stop offset="0.0740" stop-color="#d7282d"/><stop offset="0.1540" stop-color="#ff2828"/><stop offset="0.2200" stop-color="#ff6428"/><stop offset="0.2750" stop-color="#ff9614"/><stop offset="0.3150" stop-color="#ffbe00"/><stop offset="0.3600" stop-color="#f5eb0a"/><stop offset="0.4230" stop-color="#aad23c"/><stop offset="0.4750" stop-color="#6ec86e"/><stop offset="0.5300" stop-color="#46c896"/><stop offset="0.5700" stop-color="#28c8be"/><stop offset="0.6000" stop-color="#0ac8d7"/><stop offset="0.6550" stop-color="#00b4eb"/><stop offset="0.7000" stop-color="#0a6ec3"/><stop offset="0.7800" stop-color="#1450aa"/><stop offset="0.9000" stop-color="#1e3296"/><stop offset="0.9550" stop-color="#28326e"/><stop offset="1.0000" stop-color="#282a5f"/></linearGradient><radialGradient id="egrad" cx="0.4" cy="0.35" r="0.7"><stop offset="0" stop-color="#7be07b"/><stop offset="0.6" stop-color="#1fae3a"/><stop offset="1" stop-color="#0b6e1e"/></radialGradient><radialGradient id="sung" cx="0.45" cy="0.4" r="0.6"><stop offset="0" stop-color="#fffbd0"/><stop offset="0.5" stop-color="#ffd21a"/><stop offset="1" stop-color="#f0a000"/></radialGradient><filter id="temtex" x="0" y="0" width="100%" height="100%">
<feTurbulence type="fractalNoise" baseFrequency="0.03" numOctaves="4" seed="21" result="t"/>
<feColorMatrix in="t" type="matrix" values="0 0 0 0 0.35  0 0 0 0 0.35  0 0 0 0 0.36  0 0 0 2.6 -1.25"/></filter><filter id="temtex2" x="0" y="0" width="100%" height="100%">
<feTurbulence type="fractalNoise" baseFrequency="0.08" numOctaves="3" seed="5" result="t"/>
<feColorMatrix in="t" type="matrix" values="0 0 0 0 0  0 0 0 0 0  0 0 0 0 0  0 0 0 2.2 -0.9"/></filter><filter id="rimblur"><feGaussianBlur stdDeviation="2.5"/></filter><clipPath id="temclip"><rect x="922.9" y="3575" width="522.7" height="361.3"/></clipPath><clipPath id="wireclip"><path d="M923 3612.2 L930.1 3614.4 L937.2 3613.4 L944.4 3615 L951.5 3615.8 L958.6 3617.4 L965.8 3620.4 L972.9 3619.2 L980 3621 L987 3626.6 L994 3623 L1001 3629.7 L1008 3633.4 L1015 3632.4 L1022 3634 L1029 3641.1 L1036 3638.9 L1043.1 3640.1 L1050.2 3643.6 L1057.3 3647.3 L1064.4 3644 L1071.6 3647.4 L1078.7 3649 L1085.8 3654.6 L1092.9 3653 L1100 3657.8 L1107.2 3654.1 L1114.4 3657.2 L1121.6 3661.5 L1128.8 3665.1 L1135.9 3663.4 L1143.1 3663.3 L1150.3 3664.2 L1157.5 3669.2 L1165.3 3669.2 L1173.1 3676.7 L1180.9 3679.6 L1188.8 3677 L1196.6 3680.4 L1204.4 3687.2 L1212.2 3688.5 L1220 3692.5 L1227.1 3691 L1234.1 3691.6 L1241.2 3695.1 L1248.3 3701.4 L1255.4 3699.5 L1262.4 3702.4 L1269.5 3705.2 L1276.6 3707.5 L1283.6 3709.7 L1290.7 3716 L1297.8 3712.2 L1304.9 3713.2 L1311.9 3723 L1319 3724.7 L1326.6 3727.3 L1334.2 3724.5 L1341.9 3730.3 L1349.5 3731.8 L1357.1 3727.8 L1364.8 3733.6 L1372.4 3736 L1380 3736.3 L1387.3 3737.3 L1394.6 3737.5 L1401.9 3740.1 L1409.2 3741.3 L1416.4 3742.1 L1423.7 3748.4 L1431 3748.1 L1438.3 3754.4 L1445.6 3754 L1445.6 3895.9 L1438.5 3901.1 L1431.3 3897.8 L1424.2 3898 L1417.1 3896.2 L1409.9 3894.6 L1402.8 3890.4 L1395.7 3884.2 L1388.5 3888.5 L1381.4 3882.2 L1374.3 3881.6 L1367.1 3882.9 L1360 3880.2 L1352.6 3878.1 L1345.2 3881.1 L1337.9 3877.4 L1330.5 3874 L1323.1 3872.1 L1315.7 3875.8 L1308.3 3871.5 L1300.9 3872.8 L1293.6 3868.2 L1286.2 3865.8 L1278.8 3867.3 L1271.5 3868.4 L1264.1 3862.1 L1256.8 3866 L1249.4 3865.9 L1242 3863.8 L1234.7 3862.8 L1227.3 3855.2 L1220 3859 L1212.2 3859 L1204.4 3850.6 L1196.6 3850.5 L1188.8 3848.6 L1180.9 3848.8 L1173.1 3846.1 L1165.3 3844.7 L1157.5 3845.2 L1150.3 3836.8 L1143.1 3834.9 L1135.9 3833.3 L1128.8 3831 L1121.6 3828.3 L1114.4 3833.3 L1107.2 3830.1 L1100 3821.7 L1092.9 3822.5 L1085.8 3818.5 L1078.7 3816 L1071.6 3813.8 L1064.4 3813.7 L1057.3 3810.7 L1050.2 3806.4 L1043.1 3802.5 L1036 3801.1 L1029 3798.2 L1022 3800.3 L1015 3800.3 L1008 3796.3 L1001 3792.6 L994 3792.1 L987 3792.3 L980 3792.8 L972.9 3792.5 L965.8 3787.5 L958.6 3789.2 L951.5 3786 L944.4 3782.7 L937.2 3780.5 L930.1 3779.7 L923 3778 Z"/></clipPath></defs>
<rect width="2130" height="4106" fill="#fff"/>
<text x="26.8" y="83" font-family="'DejaVu Sans', sans-serif" font-size="63.5" font-weight="200" fill="#2d2626">a</text>
<g clip-path="url(#clipA)">
<path d="M265.5 559 L270.3 559.1 L275 559.3 L279.8 560.5 L284.5 563.5 L289.3 569.2 L294 577.4 L298.8 586.7 L303.5 594.6 L308.3 599.2 L313.1 600.9 L317.8 600.7 L322.6 599.4 L327.3 597.2 L332.1 593.9 L336.8 589.9 L341.6 585.7 L346.3 582.4 L351.1 580.9 L355.8 581.7 L360.6 584.5 L365.4 588.4 L370.1 592.6 L374.9 596.2 L379.6 598.8 L384.4 600.4 L389.1 601.3 L393.9 601.7 L398.6 601.9 L403.4 601.9 L408.1 601.9 L412.9 602 L417.7 602 L422.4 602 L427.2 602 L431.9 602 L436.7 602 L441.4 602 L446.2 602 L450.9 602 L455.7 602 L460.5 602 L465.2 602.1 L470 602.2 L474.7 602.4 L479.5 602.5 L484.2 602.8 L489 603.1 L493.7 603.3 L498.5 603.6 L503.2 603.7 L508 603.7 L512.8 603.5 L517.5 602.9 L522.3 602 L524.6 601.5 L527 600.8 L529.4 600.1 L531.8 599.4 L534.2 598.5 L536.5 597.6 L538.9 596.6 L541.3 595.6 L543.7 594.4 L546 593.2 L548.4 591.8 L550.8 590.3 L553.2 588.6 L555.6 586.7 L557.9 584.5 L560.3 581.9 L562.7 579 L565.1 575.7 L567.4 571.8 L569.8 567.4 L572.2 562.5 L574.6 556.9 L577 550.7 L579.3 544 L581.7 536.7 L584.1 529 L586.5 520.8 L588.8 512.5 L591.2 504 L593.6 495.6 L596 487.3 L598.3 479.4 L600.7 472 L603.1 465.2 L605.5 459.1 L607.9 453.7 L610.2 448.9 L612.6 444.8 L615 441 L617.4 437.4 L619.7 433.8 L622.1 429.8 L624.5 425.1 L626.9 419.3 L629.3 412.1 L631.6 403.3 L634 392.7 L636.4 380 L638.8 365.5 L641.1 349 L643.5 331 L645.9 311.8 L648.3 292 L650.7 272 L653 252.7 L655.4 234.7 L657.8 218.8 L660.2 205.7 L662.5 196 L664.9 190.1 L667.3 188.5 L669.7 191.3 L672.1 199 L674.4 211.2 L676.8 227.7 L679.2 248 L681.6 271.4 L683.9 297.1 L686.3 324.5 L688.7 352.8 L691.1 381.1 L693.5 409 L695.8 435.7 L698.2 460.8 L700.6 484.1 L703 518.2 L705.3 536.1 L707.7 551.5 L710.1 564.5 L712.5 575.3 L714.8 584.1 L717.2 591.2 L719.6 596.8 L722 601.2 L724.4 604.6 L726.7 607.1 L729.1 609 L731.5 610.4 L733.9 611.4 L736.2 612.1 L738.6 612.6 L741 612.9 L743.4 613.2 L745.8 613.3 L748.1 613.4 L750.5 613.5 L752.9 613.5 L755.3 613.6 L757.6 613.6 L762.4 613.6 L767.2 613.6 L771.9 613.6 L776.7 613.6 L781.4 613.6 L786.2 613.6 L790.9 613.6 L795.7 613.6 L800.4 613.6 L805.2 613.6 L809.9 613.6 L814.7 613.6 L819.5 613.6 L824.2 613.6 L829 613.6 L833.7 613.6 L838.5 613.6 L843.2 613.6 L848 613.6 L852.7 613.6 L857.5 613.6 L862.3 613.6 L867 613.6 L871.8 613.6 L876.5 613.6 L881.3 613.6 L886 613.6 L890.8 613.6 L895.5 613.6 L900.3 613.6 L905 613.6 L909.8 613.6 L914.6 613.6 L919.3 613.6 L924.1 613.6 L928.8 613.6 L933.6 613.6 L938.3 613.6 L943.1 613.6 L947.8 613.6 L952.6 613.6 L957.4 613.6 L962.1 613.6 L966.9 613.6 L971.6 613.6 L976.4 613.6 L981.1 613.6 L985.9 613.6 L990.6 613.6 L995.4 613.6 L1000.1 613.6 L1004.9 613.6 L1009.7 613.6 L1014.4 613.6 L1019.2 613.6 L1023.9 613.6 L1028.7 613.6 L1033.4 613.6 L1038.2 613.6 L1042.9 613.6 L1047.7 613.6 L1052.5 613.6 L1057.2 613.6" fill="none" stroke="#fb2529" stroke-width="6.5" stroke-linejoin="round"/>
<path d="M265.5 584.1 L270.3 584.5 L275 585.7 L279.8 587.4 L284.5 589.6 L289.3 592 L294 594.4 L298.8 596.6 L303.5 598.6 L308.3 600.1 L313.1 601.3 L317.8 602 L322.6 602.3 L327.3 602.1 L332.1 601.5 L336.8 600.6 L341.6 599.5 L346.3 598.7 L351.1 598.3 L355.8 598.5 L360.6 599.3 L365.4 600.4 L370.1 601.6 L374.9 602.5 L379.6 603.3 L384.4 603.7 L389.1 603.9 L393.9 604.1 L398.6 604.1 L403.4 604.1 L408.1 604.1 L412.9 604.1 L417.7 604.1 L422.4 604.1 L427.2 604.1 L431.9 604.1 L436.7 604.1 L441.4 604.1 L446.2 604.1 L450.9 604.1 L455.7 604.1 L460.5 604.1 L465.2 604.1 L470 604.1 L474.7 604 L479.5 604 L484.2 603.9 L489 603.8 L493.7 603.7 L498.5 603.6 L503.2 603.4 L508 603.2 L512.8 602.9 L517.5 602.6 L522.3 602.2 L524.6 602 L527 601.7 L529.4 601.5 L531.8 601.2 L534.2 601 L536.5 600.7 L538.9 600.3 L541.3 600 L543.7 599.6 L546 599.1 L548.4 598.6 L550.8 598 L553.2 597.3 L555.6 596.5 L557.9 595.6 L560.3 594.5 L562.7 593.2 L565.1 591.7 L567.4 589.9 L569.8 587.9 L572.2 585.6 L574.6 583 L577 580.1 L579.3 576.9 L581.7 573.5 L584.1 569.8 L586.5 566 L588.8 562.1 L591.2 558.1 L593.6 554.1 L596 550.2 L598.3 546.5 L600.7 543 L603.1 539.8 L605.5 536.9 L607.9 534.3 L610.2 532.1 L612.6 530.1 L615 528.4 L617.4 526.7 L619.7 525 L622.1 523.1 L624.5 520.9 L626.9 518.1 L629.3 514.8 L631.6 510.6 L634 505.6 L636.4 499.6 L638.8 492.7 L641.1 484.9 L643.5 476.4 L645.9 467.3 L648.3 457.9 L650.7 448.5 L653 439.3 L655.4 430.8 L657.8 423.3 L660.2 417.1 L662.5 412.5 L664.9 409.7 L667.3 409 L669.7 410.3 L672.1 414 L674.4 419.8 L676.8 427.6 L679.2 437.2 L681.6 448.3 L683.9 460.5 L686.3 473.5 L688.7 486.9 L691.1 500.4 L693.5 513.6 L695.8 526.3 L698.2 538.2 L700.6 549.2 L703 565.4 L705.3 573.9 L707.7 581.2 L710.1 587.4 L712.5 592.5 L714.8 596.7 L717.2 600.1 L719.6 602.7 L722 604.8 L724.4 606.4 L726.7 607.6 L729.1 608.5 L731.5 609.2 L733.9 609.6 L736.2 610 L738.6 610.2 L741 610.4 L743.4 610.5 L745.8 610.6 L748.1 610.6 L750.5 610.6 L752.9 610.6 L755.3 610.7 L757.6 610.7 L762.4 610.7 L767.2 610.7 L771.9 610.7 L776.7 610.7 L781.4 610.7 L786.2 610.7 L790.9 610.7 L795.7 610.7 L800.4 610.7 L805.2 610.7 L809.9 610.7 L814.7 610.7 L819.5 610.7 L824.2 610.7 L829 610.7 L833.7 610.7 L838.5 610.7 L843.2 610.7 L848 610.7 L852.7 610.7 L857.5 610.7 L862.3 610.7 L867 610.7 L871.8 610.7 L876.5 610.7 L881.3 610.7 L886 610.7 L890.8 610.7 L895.5 610.7 L900.3 610.7 L905 610.7 L909.8 610.7 L914.6 610.7 L919.3 610.7 L924.1 610.7 L928.8 610.7 L933.6 610.7 L938.3 610.7 L943.1 610.7 L947.8 610.7 L952.6 610.7 L957.4 610.7 L962.1 610.7 L966.9 610.7 L971.6 610.7 L976.4 610.7 L981.1 610.7 L985.9 610.7 L990.6 610.7 L995.4 610.7 L1000.1 610.7 L1004.9 610.7 L1009.7 610.7 L1014.4 610.7 L1019.2 610.7 L1023.9 610.7 L1028.7 610.7 L1033.4 610.7 L1038.2 610.7 L1042.9 610.7 L1047.7 610.7 L1052.5 610.7 L1057.2 610.7" fill="none" stroke="#0b5598" stroke-width="6.5" stroke-linejoin="round"/>
<path d="M265.5 588.5 L270.3 588.8 L275 589.8 L279.8 591.2 L284.5 593 L289.3 594.9 L294 596.9 L298.8 598.7 L303.5 600.3 L308.3 601.6 L313.1 602.5 L317.8 603.2 L322.6 603.4 L327.3 603.3 L332.1 602.9 L336.8 602.2 L341.6 601.4 L346.3 600.8 L351.1 600.5 L355.8 600.7 L360.6 601.2 L365.4 602.1 L370.1 602.9 L374.9 603.7 L379.6 604.2 L384.4 604.5 L389.1 604.7 L393.9 604.8 L398.6 604.8 L403.4 604.9 L408.1 604.9 L412.9 604.9 L417.7 604.9 L422.4 604.9 L427.2 604.9 L431.9 604.9 L436.7 604.9 L441.4 604.9 L446.2 604.9 L450.9 604.9 L455.7 604.9 L460.5 604.8 L465.2 604.8 L470 604.8 L474.7 604.8 L479.5 604.8 L484.2 604.7 L489 604.6 L493.7 604.5 L498.5 604.4 L503.2 604.3 L508 604.1 L512.8 603.9 L517.5 603.7 L522.3 603.4 L524.6 603.2 L527 603 L529.4 602.9 L531.8 602.7 L534.2 602.4 L536.5 602.2 L538.9 602 L541.3 601.7 L543.7 601.4 L546 601 L548.4 600.7 L550.8 600.2 L553.2 599.7 L555.6 599.1 L557.9 598.3 L560.3 597.5 L562.7 596.5 L565.1 595.3 L567.4 594 L569.8 592.4 L572.2 590.6 L574.6 588.6 L577 586.4 L579.3 584 L581.7 581.3 L584.1 578.5 L586.5 575.6 L588.8 572.5 L591.2 569.4 L593.6 566.4 L596 563.4 L598.3 560.5 L600.7 557.8 L603.1 555.3 L605.5 553.1 L607.9 551.1 L610.2 549.4 L612.6 547.9 L615 546.6 L617.4 545.3 L619.7 544 L622.1 542.5 L624.5 540.8 L626.9 538.7 L629.3 536.1 L631.6 532.9 L634 529 L636.4 524.4 L638.8 519.1 L641.1 513.1 L643.5 506.5 L645.9 499.5 L648.3 492.2 L650.7 485 L653 477.9 L655.4 471.3 L657.8 465.5 L660.2 460.7 L662.5 457.2 L664.9 455.1 L667.3 454.5 L669.7 455.5 L672.1 458.4 L674.4 462.9 L676.8 468.9 L679.2 476.3 L681.6 484.9 L683.9 494.3 L686.3 504.4 L688.7 514.7 L691.1 525.1 L693.5 535.3 L695.8 545.1 L698.2 554.3 L700.6 562.8 L703 575.3 L705.3 581.9 L707.7 587.5 L710.1 592.3 L712.5 596.3 L714.8 599.5 L717.2 602.1 L719.6 604.2 L722 605.8 L724.4 607 L726.7 607.9 L729.1 608.6 L731.5 609.1 L733.9 609.5 L736.2 609.8 L738.6 610 L741 610.1 L743.4 610.2 L745.8 610.2 L748.1 610.3 L750.5 610.3 L752.9 610.3 L755.3 610.3 L757.6 610.3 L762.4 610.3 L767.2 610.3 L771.9 610.3 L776.7 610.3 L781.4 610.3 L786.2 610.3 L790.9 610.3 L795.7 610.3 L800.4 610.3 L805.2 610.3 L809.9 610.3 L814.7 610.3 L819.5 610.3 L824.2 610.3 L829 610.3 L833.7 610.3 L838.5 610.3 L843.2 610.3 L848 610.3 L852.7 610.3 L857.5 610.3 L862.3 610.3 L867 610.3 L871.8 610.3 L876.5 610.3 L881.3 610.3 L886 610.3 L890.8 610.3 L895.5 610.3 L900.3 610.3 L905 610.3 L909.8 610.3 L914.6 610.3 L919.3 610.3 L924.1 610.3 L928.8 610.3 L933.6 610.3 L938.3 610.3 L943.1 610.3 L947.8 610.3 L952.6 610.3 L957.4 610.3 L962.1 610.3 L966.9 610.3 L971.6 610.3 L976.4 610.3 L981.1 610.3 L985.9 610.3 L990.6 610.3 L995.4 610.3 L1000.1 610.3 L1004.9 610.3 L1009.7 610.3 L1014.4 610.3 L1019.2 610.3 L1023.9 610.3 L1028.7 610.3 L1033.4 610.3 L1038.2 610.3 L1042.9 610.3 L1047.7 610.3 L1052.5 610.3 L1057.2 610.3" fill="none" stroke="#ffbb12" stroke-width="6.5" stroke-linejoin="round"/>
<path d="M265.5 591 L270.3 591.3 L275 592.2 L279.8 593.4 L284.5 595 L289.3 596.8 L294 598.5 L298.8 600.1 L303.5 601.5 L308.3 602.7 L313.1 603.5 L317.8 604.1 L322.6 604.3 L327.3 604.3 L332.1 603.9 L336.8 603.3 L341.6 602.7 L346.3 602.2 L351.1 601.9 L355.8 602.1 L360.6 602.6 L365.4 603.3 L370.1 604 L374.9 604.6 L379.6 605 L384.4 605.3 L389.1 605.5 L393.9 605.5 L398.6 605.6 L403.4 605.6 L408.1 605.6 L412.9 605.6 L417.7 605.6 L422.4 605.6 L427.2 605.6 L431.9 605.6 L436.7 605.6 L441.4 605.6 L446.2 605.6 L450.9 605.6 L455.7 605.6 L460.5 605.6 L465.2 605.6 L470 605.6 L474.7 605.5 L479.5 605.5 L484.2 605.5 L489 605.4 L493.7 605.4 L498.5 605.3 L503.2 605.2 L508 605.1 L512.8 604.9 L517.5 604.7 L522.3 604.5 L524.6 604.4 L527 604.3 L529.4 604.2 L531.8 604 L534.2 603.9 L536.5 603.7 L538.9 603.5 L541.3 603.3 L543.7 603.1 L546 602.9 L548.4 602.6 L550.8 602.3 L553.2 601.9 L555.6 601.4 L557.9 600.9 L560.3 600.3 L562.7 599.6 L565.1 598.7 L567.4 597.7 L569.8 596.6 L572.2 595.3 L574.6 593.9 L577 592.2 L579.3 590.5 L581.7 588.5 L584.1 586.5 L586.5 584.3 L588.8 582.1 L591.2 579.9 L593.6 577.7 L596 575.5 L598.3 573.4 L600.7 571.4 L603.1 569.6 L605.5 568 L607.9 566.6 L610.2 565.3 L612.6 564.2 L615 563.2 L617.4 562.3 L619.7 561.4 L622.1 560.3 L624.5 559.1 L626.9 557.5 L629.3 555.6 L631.6 553.3 L634 550.5 L636.4 547.1 L638.8 543.3 L641.1 538.9 L643.5 534.1 L645.9 529 L648.3 523.7 L650.7 518.4 L653 513.3 L655.4 508.5 L657.8 504.2 L660.2 500.7 L662.5 498.2 L664.9 496.6 L667.3 496.2 L669.7 497 L672.1 499 L674.4 502.3 L676.8 506.7 L679.2 512.2 L681.6 518.4 L683.9 525.3 L686.3 532.6 L688.7 540.2 L691.1 547.8 L693.5 555.2 L695.8 562.4 L698.2 569.1 L700.6 575.3 L703 584.4 L705.3 589.2 L707.7 593.3 L710.1 596.8 L712.5 599.7 L714.8 602 L717.2 604 L719.6 605.5 L722 606.6 L724.4 607.5 L726.7 608.2 L729.1 608.7 L731.5 609.1 L733.9 609.4 L736.2 609.6 L738.6 609.7 L741 609.8 L743.4 609.8 L745.8 609.9 L748.1 609.9 L750.5 609.9 L752.9 609.9 L755.3 609.9 L757.6 609.9 L762.4 610 L767.2 610 L771.9 610 L776.7 610 L781.4 610 L786.2 610 L790.9 610 L795.7 610 L800.4 610 L805.2 610 L809.9 610 L814.7 610 L819.5 610 L824.2 610 L829 610 L833.7 610 L838.5 610 L843.2 610 L848 610 L852.7 610 L857.5 610 L862.3 610 L867 610 L871.8 610 L876.5 610 L881.3 610 L886 610 L890.8 610 L895.5 610 L900.3 610 L905 610 L909.8 610 L914.6 610 L919.3 610 L924.1 610 L928.8 610 L933.6 610 L938.3 610 L943.1 610 L947.8 610 L952.6 610 L957.4 610 L962.1 610 L966.9 610 L971.6 610 L976.4 610 L981.1 610 L985.9 610 L990.6 610 L995.4 610 L1000.1 610 L1004.9 610 L1009.7 610 L1014.4 610 L1019.2 610 L1023.9 610 L1028.7 610 L1033.4 610 L1038.2 610 L1042.9 610 L1047.7 610 L1052.5 610 L1057.2 610" fill="none" stroke="#00b46a" stroke-width="6.5" stroke-linejoin="round"/>
<path d="M265.5 602 L270.3 602.1 L275 602.5 L279.8 603 L284.5 603.7 L289.3 604.5 L294 605.3 L298.8 606 L303.5 606.7 L308.3 607.2 L313.1 607.6 L317.8 607.8 L322.6 607.9 L327.3 607.9 L332.1 607.7 L336.8 607.4 L341.6 607.1 L346.3 606.8 L351.1 606.7 L355.8 606.7 L360.6 607 L365.4 607.3 L370.1 607.7 L374.9 608 L379.6 608.2 L384.4 608.4 L389.1 608.4 L393.9 608.5 L398.6 608.5 L403.4 608.5 L408.1 608.5 L412.9 608.5 L417.7 608.5 L422.4 608.5 L427.2 608.5 L431.9 608.5 L436.7 608.5 L441.4 608.5 L446.2 608.5 L450.9 608.5 L455.7 608.5 L460.5 608.5 L465.2 608.5 L470 608.5 L474.7 608.5 L479.5 608.5 L484.2 608.5 L489 608.4 L493.7 608.4 L498.5 608.4 L503.2 608.4 L508 608.3 L512.8 608.3 L517.5 608.2 L522.3 608.1 L524.6 608.1 L527 608.1 L529.4 608 L531.8 608 L534.2 607.9 L536.5 607.9 L538.9 607.8 L541.3 607.7 L543.7 607.7 L546 607.6 L548.4 607.5 L550.8 607.4 L553.2 607.3 L555.6 607.1 L557.9 606.9 L560.3 606.7 L562.7 606.4 L565.1 606.1 L567.4 605.8 L569.8 605.4 L572.2 604.9 L574.6 604.4 L577 603.8 L579.3 603.2 L581.7 602.5 L584.1 601.8 L586.5 601 L588.8 600.2 L591.2 599.4 L593.6 598.6 L596 597.8 L598.3 597 L600.7 596.3 L603.1 595.7 L605.5 595.1 L607.9 594.6 L610.2 594.2 L612.6 593.8 L615 593.4 L617.4 593.1 L619.7 592.8 L622.1 592.4 L624.5 591.9 L626.9 591.4 L629.3 590.7 L631.6 589.9 L634 588.8 L636.4 587.6 L638.8 586.2 L641.1 584.7 L643.5 582.9 L645.9 581.1 L648.3 579.2 L650.7 577.2 L653 575.4 L655.4 573.7 L657.8 572.1 L660.2 570.9 L662.5 569.9 L664.9 569.4 L667.3 569.2 L669.7 569.5 L672.1 570.3 L674.4 571.5 L676.8 573.1 L679.2 575.1 L681.6 577.3 L683.9 579.8 L686.3 582.5 L688.7 585.3 L691.1 588 L693.5 590.7 L695.8 593.3 L698.2 595.8 L700.6 598 L703 601.4 L705.3 603.1 L707.7 604.6 L710.1 605.9 L712.5 606.9 L714.8 607.8 L717.2 608.5 L719.6 609 L722 609.5 L724.4 609.8 L726.7 610 L729.1 610.2 L731.5 610.4 L733.9 610.5 L736.2 610.5 L738.6 610.6 L741 610.6 L743.4 610.6 L745.8 610.7 L748.1 610.7 L750.5 610.7 L752.9 610.7 L755.3 610.7 L757.6 610.7 L762.4 610.7 L767.2 610.7 L771.9 610.7 L776.7 610.7 L781.4 610.7 L786.2 610.7 L790.9 610.7 L795.7 610.7 L800.4 610.7 L805.2 610.7 L809.9 610.7 L814.7 610.7 L819.5 610.7 L824.2 610.7 L829 610.7 L833.7 610.7 L838.5 610.7 L843.2 610.7 L848 610.7 L852.7 610.7 L857.5 610.7 L862.3 610.7 L867 610.7 L871.8 610.7 L876.5 610.7 L881.3 610.7 L886 610.7 L890.8 610.7 L895.5 610.7 L900.3 610.7 L905 610.7 L909.8 610.7 L914.6 610.7 L919.3 610.7 L924.1 610.7 L928.8 610.7 L933.6 610.7 L938.3 610.7 L943.1 610.7 L947.8 610.7 L952.6 610.7 L957.4 610.7 L962.1 610.7 L966.9 610.7 L971.6 610.7 L976.4 610.7 L981.1 610.7 L985.9 610.7 L990.6 610.7 L995.4 610.7 L1000.1 610.7 L1004.9 610.7 L1009.7 610.7 L1014.4 610.7 L1019.2 610.7 L1023.9 610.7 L1028.7 610.7 L1033.4 610.7 L1038.2 610.7 L1042.9 610.7 L1047.7 610.7 L1052.5 610.7 L1057.2 610.7" fill="none" stroke="#5b5a9e" stroke-width="6.5" stroke-linejoin="round"/>
<path d="M265.5 610 L270.3 610 L275 610.1 L279.8 610.3 L284.5 610.6 L289.3 610.8 L294 611.1 L298.8 611.3 L303.5 611.5 L308.3 611.7 L313.1 611.8 L317.8 611.9 L322.6 612 L327.3 612.1 L332.1 612.1 L336.8 612.1 L341.6 612.1 L346.3 612.1 L351.1 612.1 L355.8 612.1 L360.6 612.1 L365.4 612.1 L370.1 612.1 L374.9 612.1 L379.6 612.1 L384.4 612.1 L389.1 612.1 L393.9 612.1 L398.6 612.1 L403.4 612.1 L408.1 612.1 L412.9 612.1 L417.7 612.1 L422.4 612.1 L427.2 612.1 L431.9 612.1 L436.7 612.1 L441.4 612.1 L446.2 612.1 L450.9 612.1 L455.7 612.1 L460.5 612.1 L465.2 612.1 L470 612.1 L474.7 612.1 L479.5 612.1 L484.2 612.1 L489 612.1 L493.7 612.1 L498.5 612.1 L503.2 612.1 L508 612.1 L512.8 612.1 L517.5 612.1 L522.3 612 L524.6 612 L527 612 L529.4 612 L531.8 612 L534.2 612 L536.5 611.9 L538.9 611.9 L541.3 611.9 L543.7 611.9 L546 611.9 L548.4 611.8 L550.8 611.8 L553.2 611.8 L555.6 611.7 L557.9 611.7 L560.3 611.6 L562.7 611.6 L565.1 611.5 L567.4 611.4 L569.8 611.3 L572.2 611.2 L574.6 611.1 L577 610.9 L579.3 610.8 L581.7 610.6 L584.1 610.4 L586.5 610.3 L588.8 610.1 L591.2 609.9 L593.6 609.7 L596 609.5 L598.3 609.3 L600.7 609.2 L603.1 609 L605.5 608.9 L607.9 608.8 L610.2 608.6 L612.6 608.6 L615 608.5 L617.4 608.4 L619.7 608.3 L622.1 608.2 L624.5 608.1 L626.9 608 L629.3 607.8 L631.6 607.6 L634 607.4 L636.4 607.1 L638.8 606.8 L641.1 606.4 L643.5 606 L645.9 605.6 L648.3 605.1 L650.7 604.7 L653 604.3 L655.4 603.9 L657.8 603.5 L660.2 603.2 L662.5 603 L664.9 602.9 L667.3 602.8 L669.7 602.9 L672.1 603.1 L674.4 603.3 L676.8 603.7 L679.2 604.1 L681.6 604.6 L683.9 605.2 L686.3 605.8 L688.7 606.4 L691.1 607 L693.5 607.7 L695.8 608.2 L698.2 608.8 L700.6 609.3 L703 610.1 L705.3 610.4 L707.7 610.8 L710.1 611.1 L712.5 611.3 L714.8 611.5 L717.2 611.7 L719.6 611.8 L722 611.9 L724.4 611.9 L726.7 612 L729.1 612 L731.5 612.1 L733.9 612.1 L736.2 612.1 L738.6 612.1 L741 612.1 L743.4 612.1 L745.8 612.1 L748.1 612.1 L750.5 612.1 L752.9 612.1 L755.3 612.1 L757.6 612.1 L762.4 612.1 L767.2 612.1 L771.9 612.1 L776.7 612.1 L781.4 612.1 L786.2 612.1 L790.9 612.1 L795.7 612.1 L800.4 612.1 L805.2 612.1 L809.9 612.1 L814.7 612.1 L819.5 612.1 L824.2 612.1 L829 612.1 L833.7 612.1 L838.5 612.1 L843.2 612.1 L848 612.1 L852.7 612.1 L857.5 612.1 L862.3 612.1 L867 612.1 L871.8 612.1 L876.5 612.1 L881.3 612.1 L886 612.1 L890.8 612.1 L895.5 612.1 L900.3 612.1 L905 612.1 L909.8 612.1 L914.6 612.1 L919.3 612.1 L924.1 612.1 L928.8 612.1 L933.6 612.1 L938.3 612.1 L943.1 612.1 L947.8 612.1 L952.6 612.1 L957.4 612.1 L962.1 612.1 L966.9 612.1 L971.6 612.1 L976.4 612.1 L981.1 612.1 L985.9 612.1 L990.6 612.1 L995.4 612.1 L1000.1 612.1 L1004.9 612.1 L1009.7 612.1 L1014.4 612.1 L1019.2 612.1 L1023.9 612.1 L1028.7 612.1 L1033.4 612.1 L1038.2 612.1 L1042.9 612.1 L1047.7 612.1 L1052.5 612.1 L1057.2 612.1" fill="none" stroke="#9d9d9d" stroke-width="6.5" stroke-linejoin="round"/>
</g>
<rect x="265.5" y="71" width="792.5" height="545.5" fill="none" stroke="#1c1c1c" stroke-width="6.2"/>
<g clip-path="url(#clipA)">
<path d="M750.5 613.5 L752.9 613.5 L755.3 613.6 L757.6 613.6 L762.4 613.6 L767.2 613.6 L771.9 613.6 L776.7 613.6 L781.4 613.6 L786.2 613.6 L790.9 613.6 L795.7 613.6 L800.4 613.6 L805.2 613.6 L809.9 613.6 L814.7 613.6 L819.5 613.6 L824.2 613.6 L829 613.6 L833.7 613.6 L838.5 613.6 L843.2 613.6 L848 613.6 L852.7 613.6 L857.5 613.6 L862.3 613.6 L867 613.6 L871.8 613.6 L876.5 613.6 L881.3 613.6 L886 613.6 L890.8 613.6 L895.5 613.6 L900.3 613.6 L905 613.6 L909.8 613.6 L914.6 613.6 L919.3 613.6 L924.1 613.6 L928.8 613.6 L933.6 613.6 L938.3 613.6 L943.1 613.6 L947.8 613.6 L952.6 613.6 L957.4 613.6 L962.1 613.6 L966.9 613.6 L971.6 613.6 L976.4 613.6 L981.1 613.6 L985.9 613.6 L990.6 613.6 L995.4 613.6 L1000.1 613.6 L1004.9 613.6 L1009.7 613.6 L1014.4 613.6 L1019.2 613.6 L1023.9 613.6 L1028.7 613.6 L1033.4 613.6 L1038.2 613.6 L1042.9 613.6 L1047.7 613.6 L1052.5 613.6 L1057.2 613.6" fill="none" stroke="#fb2529" stroke-width="6.5" stroke-linejoin="round"/>
<path d="M750.5 610.6 L752.9 610.6 L755.3 610.7 L757.6 610.7 L762.4 610.7 L767.2 610.7 L771.9 610.7 L776.7 610.7 L781.4 610.7 L786.2 610.7 L790.9 610.7 L795.7 610.7 L800.4 610.7 L805.2 610.7 L809.9 610.7 L814.7 610.7 L819.5 610.7 L824.2 610.7 L829 610.7 L833.7 610.7 L838.5 610.7 L843.2 610.7 L848 610.7 L852.7 610.7 L857.5 610.7 L862.3 610.7 L867 610.7 L871.8 610.7 L876.5 610.7 L881.3 610.7 L886 610.7 L890.8 610.7 L895.5 610.7 L900.3 610.7 L905 610.7 L909.8 610.7 L914.6 610.7 L919.3 610.7 L924.1 610.7 L928.8 610.7 L933.6 610.7 L938.3 610.7 L943.1 610.7 L947.8 610.7 L952.6 610.7 L957.4 610.7 L962.1 610.7 L966.9 610.7 L971.6 610.7 L976.4 610.7 L981.1 610.7 L985.9 610.7 L990.6 610.7 L995.4 610.7 L1000.1 610.7 L1004.9 610.7 L1009.7 610.7 L1014.4 610.7 L1019.2 610.7 L1023.9 610.7 L1028.7 610.7 L1033.4 610.7 L1038.2 610.7 L1042.9 610.7 L1047.7 610.7 L1052.5 610.7 L1057.2 610.7" fill="none" stroke="#0b5598" stroke-width="6.5" stroke-linejoin="round"/>
<path d="M750.5 610.3 L752.9 610.3 L755.3 610.3 L757.6 610.3 L762.4 610.3 L767.2 610.3 L771.9 610.3 L776.7 610.3 L781.4 610.3 L786.2 610.3 L790.9 610.3 L795.7 610.3 L800.4 610.3 L805.2 610.3 L809.9 610.3 L814.7 610.3 L819.5 610.3 L824.2 610.3 L829 610.3 L833.7 610.3 L838.5 610.3 L843.2 610.3 L848 610.3 L852.7 610.3 L857.5 610.3 L862.3 610.3 L867 610.3 L871.8 610.3 L876.5 610.3 L881.3 610.3 L886 610.3 L890.8 610.3 L895.5 610.3 L900.3 610.3 L905 610.3 L909.8 610.3 L914.6 610.3 L919.3 610.3 L924.1 610.3 L928.8 610.3 L933.6 610.3 L938.3 610.3 L943.1 610.3 L947.8 610.3 L952.6 610.3 L957.4 610.3 L962.1 610.3 L966.9 610.3 L971.6 610.3 L976.4 610.3 L981.1 610.3 L985.9 610.3 L990.6 610.3 L995.4 610.3 L1000.1 610.3 L1004.9 610.3 L1009.7 610.3 L1014.4 610.3 L1019.2 610.3 L1023.9 610.3 L1028.7 610.3 L1033.4 610.3 L1038.2 610.3 L1042.9 610.3 L1047.7 610.3 L1052.5 610.3 L1057.2 610.3" fill="none" stroke="#ffbb12" stroke-width="6.5" stroke-linejoin="round"/>
<path d="M750.5 609.9 L752.9 609.9 L755.3 609.9 L757.6 609.9 L762.4 610 L767.2 610 L771.9 610 L776.7 610 L781.4 610 L786.2 610 L790.9 610 L795.7 610 L800.4 610 L805.2 610 L809.9 610 L814.7 610 L819.5 610 L824.2 610 L829 610 L833.7 610 L838.5 610 L843.2 610 L848 610 L852.7 610 L857.5 610 L862.3 610 L867 610 L871.8 610 L876.5 610 L881.3 610 L886 610 L890.8 610 L895.5 610 L900.3 610 L905 610 L909.8 610 L914.6 610 L919.3 610 L924.1 610 L928.8 610 L933.6 610 L938.3 610 L943.1 610 L947.8 610 L952.6 610 L957.4 610 L962.1 610 L966.9 610 L971.6 610 L976.4 610 L981.1 610 L985.9 610 L990.6 610 L995.4 610 L1000.1 610 L1004.9 610 L1009.7 610 L1014.4 610 L1019.2 610 L1023.9 610 L1028.7 610 L1033.4 610 L1038.2 610 L1042.9 610 L1047.7 610 L1052.5 610 L1057.2 610" fill="none" stroke="#00b46a" stroke-width="6.5" stroke-linejoin="round"/>
<path d="M750.5 610.7 L752.9 610.7 L755.3 610.7 L757.6 610.7 L762.4 610.7 L767.2 610.7 L771.9 610.7 L776.7 610.7 L781.4 610.7 L786.2 610.7 L790.9 610.7 L795.7 610.7 L800.4 610.7 L805.2 610.7 L809.9 610.7 L814.7 610.7 L819.5 610.7 L824.2 610.7 L829 610.7 L833.7 610.7 L838.5 610.7 L843.2 610.7 L848 610.7 L852.7 610.7 L857.5 610.7 L862.3 610.7 L867 610.7 L871.8 610.7 L876.5 610.7 L881.3 610.7 L886 610.7 L890.8 610.7 L895.5 610.7 L900.3 610.7 L905 610.7 L909.8 610.7 L914.6 610.7 L919.3 610.7 L924.1 610.7 L928.8 610.7 L933.6 610.7 L938.3 610.7 L943.1 610.7 L947.8 610.7 L952.6 610.7 L957.4 610.7 L962.1 610.7 L966.9 610.7 L971.6 610.7 L976.4 610.7 L981.1 610.7 L985.9 610.7 L990.6 610.7 L995.4 610.7 L1000.1 610.7 L1004.9 610.7 L1009.7 610.7 L1014.4 610.7 L1019.2 610.7 L1023.9 610.7 L1028.7 610.7 L1033.4 610.7 L1038.2 610.7 L1042.9 610.7 L1047.7 610.7 L1052.5 610.7 L1057.2 610.7" fill="none" stroke="#5b5a9e" stroke-width="6.5" stroke-linejoin="round"/>
<path d="M750.5 612.1 L752.9 612.1 L755.3 612.1 L757.6 612.1 L762.4 612.1 L767.2 612.1 L771.9 612.1 L776.7 612.1 L781.4 612.1 L786.2 612.1 L790.9 612.1 L795.7 612.1 L800.4 612.1 L805.2 612.1 L809.9 612.1 L814.7 612.1 L819.5 612.1 L824.2 612.1 L829 612.1 L833.7 612.1 L838.5 612.1 L843.2 612.1 L848 612.1 L852.7 612.1 L857.5 612.1 L862.3 612.1 L867 612.1 L871.8 612.1 L876.5 612.1 L881.3 612.1 L886 612.1 L890.8 612.1 L895.5 612.1 L900.3 612.1 L905 612.1 L909.8 612.1 L914.6 612.1 L919.3 612.1 L924.1 612.1 L928.8 612.1 L933.6 612.1 L938.3 612.1 L943.1 612.1 L947.8 612.1 L952.6 612.1 L957.4 612.1 L962.1 612.1 L966.9 612.1 L971.6 612.1 L976.4 612.1 L981.1 612.1 L985.9 612.1 L990.6 612.1 L995.4 612.1 L1000.1 612.1 L1004.9 612.1 L1009.7 612.1 L1014.4 612.1 L1019.2 612.1 L1023.9 612.1 L1028.7 612.1 L1033.4 612.1 L1038.2 612.1 L1042.9 612.1 L1047.7 612.1 L1052.5 612.1 L1057.2 612.1" fill="none" stroke="#9d9d9d" stroke-width="6.5" stroke-linejoin="round"/>
</g>
<line x1="248" y1="616.5" x2="265.5" y2="616.5" stroke="#1c1c1c" stroke-width="6"/>
<text x="233.5" y="629.7" font-family="'Liberation Sans', Arial, sans-serif" font-size="38" font-weight="bold" text-anchor="end" fill="#222">0.0</text>
<line x1="248" y1="507.4" x2="265.5" y2="507.4" stroke="#1c1c1c" stroke-width="6"/>
<text x="233.5" y="520.6" font-family="'Liberation Sans', Arial, sans-serif" font-size="38" font-weight="bold" text-anchor="end" fill="#222">0.3</text>
<line x1="248" y1="398.3" x2="265.5" y2="398.3" stroke="#1c1c1c" stroke-width="6"/>
<text x="233.5" y="411.5" font-family="'Liberation Sans', Arial, sans-serif" font-size="38" font-weight="bold" text-anchor="end" fill="#222">0.6</text>
<line x1="248" y1="289.2" x2="265.5" y2="289.2" stroke="#1c1c1c" stroke-width="6"/>
<text x="233.5" y="302.4" font-family="'Liberation Sans', Arial, sans-serif" font-size="38" font-weight="bold" text-anchor="end" fill="#222">0.9</text>
<line x1="248" y1="180.1" x2="265.5" y2="180.1" stroke="#1c1c1c" stroke-width="6"/>
<text x="233.5" y="193.3" font-family="'Liberation Sans', Arial, sans-serif" font-size="38" font-weight="bold" text-anchor="end" fill="#222">1.2</text>
<line x1="248" y1="71" x2="265.5" y2="71" stroke="#1c1c1c" stroke-width="6"/>
<text x="233.5" y="84.2" font-family="'Liberation Sans', Arial, sans-serif" font-size="38" font-weight="bold" text-anchor="end" fill="#222">1.5</text>
<line x1="265.5" y1="616.5" x2="265.5" y2="634.5" stroke="#1c1c1c" stroke-width="6"/>
<text x="265.5" y="677.5" font-family="'Liberation Sans', Arial, sans-serif" font-size="38" font-weight="bold" text-anchor="middle" fill="#222">300</text>
<line x1="344.8" y1="616.5" x2="344.8" y2="626.5" stroke="#1c1c1c" stroke-width="6"/>
<line x1="424" y1="616.5" x2="424" y2="634.5" stroke="#1c1c1c" stroke-width="6"/>
<text x="424" y="677.5" font-family="'Liberation Sans', Arial, sans-serif" font-size="38" font-weight="bold" text-anchor="middle" fill="#222">400</text>
<line x1="503.2" y1="616.5" x2="503.2" y2="626.5" stroke="#1c1c1c" stroke-width="6"/>
<line x1="582.5" y1="616.5" x2="582.5" y2="634.5" stroke="#1c1c1c" stroke-width="6"/>
<text x="582.5" y="677.5" font-family="'Liberation Sans', Arial, sans-serif" font-size="38" font-weight="bold" text-anchor="middle" fill="#222">500</text>
<line x1="661.8" y1="616.5" x2="661.8" y2="626.5" stroke="#1c1c1c" stroke-width="6"/>
<line x1="741" y1="616.5" x2="741" y2="634.5" stroke="#1c1c1c" stroke-width="6"/>
<text x="741" y="677.5" font-family="'Liberation Sans', Arial, sans-serif" font-size="38" font-weight="bold" text-anchor="middle" fill="#222">600</text>
<line x1="820.2" y1="616.5" x2="820.2" y2="626.5" stroke="#1c1c1c" stroke-width="6"/>
<line x1="899.5" y1="616.5" x2="899.5" y2="634.5" stroke="#1c1c1c" stroke-width="6"/>
<text x="899.5" y="677.5" font-family="'Liberation Sans', Arial, sans-serif" font-size="38" font-weight="bold" text-anchor="middle" fill="#222">700</text>
<line x1="978.8" y1="616.5" x2="978.8" y2="626.5" stroke="#1c1c1c" stroke-width="6"/>
<line x1="1058" y1="616.5" x2="1058" y2="634.5" stroke="#1c1c1c" stroke-width="6"/>
<text x="1058" y="677.5" font-family="'Liberation Sans', Arial, sans-serif" font-size="38" font-weight="bold" text-anchor="middle" fill="#222">800</text>
<text x="661.5" y="728.8" font-family="'Liberation Sans', Arial, sans-serif" font-size="47.5" font-weight="bold" text-anchor="middle" fill="#222">Wavelength (nm)</text>
<text x="166.5" y="358.3" font-family="'Liberation Sans', Arial, sans-serif" font-size="47" font-weight="bold" text-anchor="middle" fill="#222" transform="rotate(-90 166.5 358.3)">Absorbance</text>
<line x1="735" y1="229.5" x2="842.5" y2="229.5" stroke="#fb2529" stroke-width="6.5" stroke-linecap="round"/>
<text x="1027" y="246" font-family="'Liberation Sans', Arial, sans-serif" font-size="47.5" text-anchor="end" fill="#262626">- 60 min</text>
<line x1="735" y1="287.5" x2="842.5" y2="287.5" stroke="#0b5598" stroke-width="6.5" stroke-linecap="round"/>
<text x="1027" y="304" font-family="'Liberation Sans', Arial, sans-serif" font-size="47.5" text-anchor="end" fill="#262626">0 min</text>
<line x1="735" y1="345.5" x2="842.5" y2="345.5" stroke="#ffbb12" stroke-width="6.5" stroke-linecap="round"/>
<text x="1027" y="362" font-family="'Liberation Sans', Arial, sans-serif" font-size="47.5" text-anchor="end" fill="#262626">10 min</text>
<line x1="735" y1="403.5" x2="842.5" y2="403.5" stroke="#00b46a" stroke-width="6.5" stroke-linecap="round"/>
<text x="1027" y="420" font-family="'Liberation Sans', Arial, sans-serif" font-size="47.5" text-anchor="end" fill="#262626">20 min</text>
<line x1="735" y1="461.5" x2="842.5" y2="461.5" stroke="#5b5a9e" stroke-width="6.5" stroke-linecap="round"/>
<text x="1027" y="478" font-family="'Liberation Sans', Arial, sans-serif" font-size="47.5" text-anchor="end" fill="#262626">30 min</text>
<line x1="735" y1="519.5" x2="842.5" y2="519.5" stroke="#9d9d9d" stroke-width="6.5" stroke-linecap="round"/>
<text x="1027" y="536" font-family="'Liberation Sans', Arial, sans-serif" font-size="47.5" text-anchor="end" fill="#262626">40 min</text>
<text x="1083.5" y="82.5" font-family="'DejaVu Sans', sans-serif" font-size="63.5" font-weight="200" fill="#2d2626">b</text>
<line x1="1712.8" y1="71" x2="1712.8" y2="208" stroke="#333" stroke-width="2.8"/>
<line x1="1262" y1="157.8" x2="1690" y2="157.8" stroke="#2a2a2a" stroke-width="3"/>
<path d="M1242 157.8 L1274 142.8 L1274 172.8 Z" fill="#1e1e1e"/>
<path d="M1713 157.8 L1683 172.8 L1683 142.8 Z" fill="#1e1e1e"/>
<line x1="1745" y1="184.3" x2="2000" y2="184.3" stroke="#2a2a2a" stroke-width="3"/>
<path d="M1721.5 184.3 L1753.5 168.3 L1753.5 200.3 Z" fill="#1e1e1e"/>
<path d="M2025 184.3 L1993 200.3 L1993 168.3 Z" fill="#1e1e1e"/>
<text x="1558.5" y="130.2" font-family="'Liberation Serif', 'Times New Roman', serif" font-size="55" font-weight="bold" text-anchor="middle" fill="#1e1e1e">Dark</text>
<text x="1896.5" y="149.7" font-family="'Liberation Serif', 'Times New Roman', serif" font-size="56.5" font-weight="bold" text-anchor="middle" fill="#1e1e1e">Light</text>
<g clip-path="url(#clipB)">
<path d="M1237 71 L1712.8 406.5 L1792.1 454.5 L1871.4 483.4 L1950.7 500.9 L2030 514.5" fill="none" stroke="#fb2529" stroke-width="5.5" stroke-linejoin="round"/>
<path d="M1237 71 L1712.8 324.7 L1792.1 407 L1871.4 461 L1950.7 549.9 L2030 609.4" fill="none" stroke="#ffbb12" stroke-width="5.5" stroke-linejoin="round"/>
<path d="M1237 71 L1712.8 209 L1792.1 312.7 L1871.4 360.1 L1950.7 402.1 L2030 449" fill="none" stroke="#0b5598" stroke-width="5.5" stroke-linejoin="round"/>
<rect x="1702.3" y="396" width="21" height="21" fill="#fb2529"/>
<rect x="1781.6" y="444" width="21" height="21" fill="#fb2529"/>
<rect x="1860.9" y="472.9" width="21" height="21" fill="#fb2529"/>
<rect x="1940.2" y="490.4" width="21" height="21" fill="#fb2529"/>
<rect x="2019.5" y="504" width="21" height="21" fill="#fb2529"/>
<circle cx="1712.8" cy="209" r="10.8" fill="#0b5598"/>
<circle cx="1792.1" cy="312.7" r="10.8" fill="#0b5598"/>
<circle cx="1871.4" cy="360.1" r="10.8" fill="#0b5598"/>
<circle cx="1950.7" cy="402.1" r="10.8" fill="#0b5598"/>
<circle cx="2030" cy="449" r="10.8" fill="#0b5598"/>
<path d="M1712.8 311.7 L1724.8 333.3 L1700.8 333.3 Z" fill="#ffbb12"/>
<path d="M1792.1 394.1 L1804.1 415.7 L1780.1 415.7 Z" fill="#ffbb12"/>
<path d="M1871.4 448.1 L1883.4 469.7 L1859.4 469.7 Z" fill="#ffbb12"/>
<path d="M1950.7 537 L1962.7 558.6 L1938.7 558.6 Z" fill="#ffbb12"/>
<path d="M2030 596.4 L2042 618 L2018 618 Z" fill="#ffbb12"/>
</g>
<rect x="1237" y="71" width="793" height="545.5" fill="none" stroke="#1c1c1c" stroke-width="6.2"/>
<line x1="1219.5" y1="616.5" x2="1237" y2="616.5" stroke="#1c1c1c" stroke-width="6"/>
<text x="1205" y="629.7" font-family="'Liberation Sans', Arial, sans-serif" font-size="38" font-weight="bold" text-anchor="end" fill="#222">0.0</text>
<line x1="1228.5" y1="562" x2="1237" y2="562" stroke="#1c1c1c" stroke-width="6"/>
<line x1="1219.5" y1="507.4" x2="1237" y2="507.4" stroke="#1c1c1c" stroke-width="6"/>
<text x="1205" y="520.6" font-family="'Liberation Sans', Arial, sans-serif" font-size="38" font-weight="bold" text-anchor="end" fill="#222">0.2</text>
<line x1="1228.5" y1="452.8" x2="1237" y2="452.8" stroke="#1c1c1c" stroke-width="6"/>
<line x1="1219.5" y1="398.3" x2="1237" y2="398.3" stroke="#1c1c1c" stroke-width="6"/>
<text x="1205" y="411.5" font-family="'Liberation Sans', Arial, sans-serif" font-size="38" font-weight="bold" text-anchor="end" fill="#222">0.4</text>
<line x1="1228.5" y1="343.8" x2="1237" y2="343.8" stroke="#1c1c1c" stroke-width="6"/>
<line x1="1219.5" y1="289.2" x2="1237" y2="289.2" stroke="#1c1c1c" stroke-width="6"/>
<text x="1205" y="302.4" font-family="'Liberation Sans', Arial, sans-serif" font-size="38" font-weight="bold" text-anchor="end" fill="#222">0.6</text>
<line x1="1228.5" y1="234.6" x2="1237" y2="234.6" stroke="#1c1c1c" stroke-width="6"/>
<line x1="1219.5" y1="180.1" x2="1237" y2="180.1" stroke="#1c1c1c" stroke-width="6"/>
<text x="1205" y="193.3" font-family="'Liberation Sans', Arial, sans-serif" font-size="38" font-weight="bold" text-anchor="end" fill="#222">0.8</text>
<line x1="1228.5" y1="125.6" x2="1237" y2="125.6" stroke="#1c1c1c" stroke-width="6"/>
<line x1="1219.5" y1="71" x2="1237" y2="71" stroke="#1c1c1c" stroke-width="6"/>
<text x="1205" y="84.2" font-family="'Liberation Sans', Arial, sans-serif" font-size="38" font-weight="bold" text-anchor="end" fill="#222">1.0</text>
<line x1="1237" y1="616.5" x2="1237" y2="634.5" stroke="#1c1c1c" stroke-width="6"/>
<text x="1238" y="677" font-family="'Liberation Sans', Arial, sans-serif" font-size="38" font-weight="bold" text-anchor="middle" fill="#222">-60</text>
<line x1="1276.7" y1="616.5" x2="1276.7" y2="626.5" stroke="#1c1c1c" stroke-width="6"/>
<line x1="1316.3" y1="616.5" x2="1316.3" y2="634.5" stroke="#1c1c1c" stroke-width="6"/>
<text x="1317.3" y="677" font-family="'Liberation Sans', Arial, sans-serif" font-size="38" font-weight="bold" text-anchor="middle" fill="#222">-50</text>
<line x1="1356" y1="616.5" x2="1356" y2="626.5" stroke="#1c1c1c" stroke-width="6"/>
<line x1="1395.6" y1="616.5" x2="1395.6" y2="634.5" stroke="#1c1c1c" stroke-width="6"/>
<text x="1396.6" y="677" font-family="'Liberation Sans', Arial, sans-serif" font-size="38" font-weight="bold" text-anchor="middle" fill="#222">-40</text>
<line x1="1435.2" y1="616.5" x2="1435.2" y2="626.5" stroke="#1c1c1c" stroke-width="6"/>
<line x1="1474.9" y1="616.5" x2="1474.9" y2="634.5" stroke="#1c1c1c" stroke-width="6"/>
<text x="1475.9" y="677" font-family="'Liberation Sans', Arial, sans-serif" font-size="38" font-weight="bold" text-anchor="middle" fill="#222">-30</text>
<line x1="1514.5" y1="616.5" x2="1514.5" y2="626.5" stroke="#1c1c1c" stroke-width="6"/>
<line x1="1554.2" y1="616.5" x2="1554.2" y2="634.5" stroke="#1c1c1c" stroke-width="6"/>
<text x="1555.2" y="677" font-family="'Liberation Sans', Arial, sans-serif" font-size="38" font-weight="bold" text-anchor="middle" fill="#222">-20</text>
<line x1="1593.8" y1="616.5" x2="1593.8" y2="626.5" stroke="#1c1c1c" stroke-width="6"/>
<line x1="1633.5" y1="616.5" x2="1633.5" y2="634.5" stroke="#1c1c1c" stroke-width="6"/>
<text x="1634.5" y="677" font-family="'Liberation Sans', Arial, sans-serif" font-size="38" font-weight="bold" text-anchor="middle" fill="#222">-10</text>
<line x1="1673.2" y1="616.5" x2="1673.2" y2="626.5" stroke="#1c1c1c" stroke-width="6"/>
<line x1="1712.8" y1="616.5" x2="1712.8" y2="634.5" stroke="#1c1c1c" stroke-width="6"/>
<text x="1713.8" y="677" font-family="'Liberation Sans', Arial, sans-serif" font-size="38" font-weight="bold" text-anchor="middle" fill="#222">0</text>
<line x1="1752.5" y1="616.5" x2="1752.5" y2="626.5" stroke="#1c1c1c" stroke-width="6"/>
<line x1="1792.1" y1="616.5" x2="1792.1" y2="634.5" stroke="#1c1c1c" stroke-width="6"/>
<text x="1793.1" y="677" font-family="'Liberation Sans', Arial, sans-serif" font-size="38" font-weight="bold" text-anchor="middle" fill="#222">10</text>
<line x1="1831.8" y1="616.5" x2="1831.8" y2="626.5" stroke="#1c1c1c" stroke-width="6"/>
<line x1="1871.4" y1="616.5" x2="1871.4" y2="634.5" stroke="#1c1c1c" stroke-width="6"/>
<text x="1872.4" y="677" font-family="'Liberation Sans', Arial, sans-serif" font-size="38" font-weight="bold" text-anchor="middle" fill="#222">20</text>
<line x1="1911" y1="616.5" x2="1911" y2="626.5" stroke="#1c1c1c" stroke-width="6"/>
<line x1="1950.7" y1="616.5" x2="1950.7" y2="634.5" stroke="#1c1c1c" stroke-width="6"/>
<text x="1951.7" y="677" font-family="'Liberation Sans', Arial, sans-serif" font-size="38" font-weight="bold" text-anchor="middle" fill="#222">30</text>
<line x1="1990.3" y1="616.5" x2="1990.3" y2="626.5" stroke="#1c1c1c" stroke-width="6"/>
<line x1="2030" y1="616.5" x2="2030" y2="634.5" stroke="#1c1c1c" stroke-width="6"/>
<text x="2031" y="677" font-family="'Liberation Sans', Arial, sans-serif" font-size="38" font-weight="bold" text-anchor="middle" fill="#222">40</text>
<text x="1625" y="728" font-family="'Liberation Sans', Arial, sans-serif" font-size="47.5" font-weight="bold" text-anchor="middle" fill="#222">Time (min)</text>
<text transform="translate(1137 371.7) rotate(-90)" font-family="'Liberation Sans', Arial, sans-serif" font-size="45" font-weight="bold" fill="#222">C/C<tspan font-size="30" dy="10">0</tspan></text>
<line x1="1249" y1="422.5" x2="1361" y2="422.5" stroke="#fb2529" stroke-width="5.5" stroke-linecap="round"/>
<rect x="1294.5" y="412" width="21" height="21" fill="#fb2529"/>
<text x="1374" y="439.5" font-family="'Liberation Sans', Arial, sans-serif" font-size="48" font-weight="bold" fill="#222">Sb<tspan font-size="33" dy="11">2</tspan><tspan dy="-11">S</tspan><tspan font-size="33" dy="11">3</tspan></text>
<line x1="1249" y1="491.6" x2="1361" y2="491.6" stroke="#0b5598" stroke-width="5.5" stroke-linecap="round"/>
<circle cx="1305" cy="491.6" r="10.8" fill="#0b5598"/>
<text x="1374" y="508.6" font-family="'Liberation Sans', Arial, sans-serif" font-size="48" font-weight="bold" fill="#222">MoS<tspan font-size="33" dy="11">2</tspan></text>
<line x1="1249" y1="562.7" x2="1361" y2="562.7" stroke="#ffbb12" stroke-width="5.5" stroke-linecap="round"/>
<path d="M1305 548.7 L1318 572.1 L1292 572.1 Z" fill="#ffbb12"/>
<text x="1374" y="579.7" font-family="'Liberation Sans', Arial, sans-serif" font-size="48" font-weight="bold" fill="#222">Sb<tspan font-size="33" dy="11">2</tspan><tspan dy="-11">S</tspan><tspan font-size="33" dy="11">3</tspan><tspan dy="-11">@MoS</tspan><tspan font-size="33" dy="11">3</tspan></text>
<text x="24.3" y="817.5" font-family="'DejaVu Sans', sans-serif" font-size="63.5" font-weight="200" fill="#2d2626">c</text>
<line x1="369" y1="837.5" x2="769.5" y2="837.5" stroke="#1e1e1e" stroke-width="4.2"/>
<line x1="686" y1="1047" x2="938" y2="1047" stroke="#1e1e1e" stroke-width="4.2"/>
<line x1="692" y1="866" x2="692" y2="1024" stroke="#2a2a2a" stroke-width="3"/>
<path d="M692 846.5 L707 872.5 L677 872.5 Z" fill="#1e1e1e"/>
<path d="M692 1044 L677 1018 L707 1018 Z" fill="#1e1e1e"/>
<line x1="901.5" y1="1068" x2="901.5" y2="1270" stroke="#2a2a2a" stroke-width="3"/>
<path d="M901.5 1044 L917 1074 L886 1074 Z" fill="#1e1e1e"/>
<path d="M901.5 1293 L886 1265 L917 1265 Z" fill="#1e1e1e"/>
<text x="759.5" y="951.5" font-family="'Liberation Serif', 'Times New Roman', serif" font-size="55" font-weight="bold" text-anchor="middle" fill="#1e1e1e" transform="rotate(-90 759.5 951.5)">Dark</text>
<text x="964" y="1172" font-family="'Liberation Serif', 'Times New Roman', serif" font-size="55.5" font-weight="bold" text-anchor="middle" fill="#1e1e1e" transform="rotate(-90 964 1172)">Light</text>
<path d="M370.6 844.2 L687.1 1058.7 L739.9 1125.3 L792.6 1170.5 L845.4 1244.8 L898.1 1295.9" fill="none" stroke="#fb2529" stroke-width="5.2" stroke-linejoin="round"/>
<path d="M898.1 844.2 L1214.7 1037.7 L1267.4 1123.9 L1320.2 1162.2 L1372.9 1238.9 L1425.7 1285.4" fill="none" stroke="#0b5598" stroke-width="5.2" stroke-linejoin="round"/>
<path d="M1425.7 844.2 L1742.2 1026.7 L1795 1105.2 L1847.7 1151.3 L1900.5 1226.1 L1953.2 1270.8" fill="none" stroke="#ffbb12" stroke-width="5.2" stroke-linejoin="round"/>
<rect x="361.1" y="834.7" width="19" height="19" fill="#fb2529"/>
<rect x="677.6" y="1049.2" width="19" height="19" fill="#fb2529"/>
<rect x="730.4" y="1115.8" width="19" height="19" fill="#fb2529"/>
<rect x="783.1" y="1161" width="19" height="19" fill="#fb2529"/>
<rect x="835.9" y="1235.3" width="19" height="19" fill="#fb2529"/>
<rect x="888.6" y="1286.4" width="19" height="19" fill="#fb2529"/>
<circle cx="898.1" cy="844.2" r="10.5" fill="#0b5598"/>
<circle cx="1214.7" cy="1037.7" r="10.5" fill="#0b5598"/>
<circle cx="1267.4" cy="1123.9" r="10.5" fill="#0b5598"/>
<circle cx="1320.2" cy="1162.2" r="10.5" fill="#0b5598"/>
<circle cx="1372.9" cy="1238.9" r="10.5" fill="#0b5598"/>
<circle cx="1425.7" cy="1285.4" r="10.5" fill="#0b5598"/>
<path d="M1425.7 831.8 L1437.2 852.5 L1414.2 852.5 Z" fill="#ffbb12"/>
<path d="M1742.2 1014.3 L1753.7 1035 L1730.7 1035 Z" fill="#ffbb12"/>
<path d="M1795 1092.8 L1806.5 1113.5 L1783.5 1113.5 Z" fill="#ffbb12"/>
<path d="M1847.7 1138.9 L1859.2 1159.6 L1836.2 1159.6 Z" fill="#ffbb12"/>
<path d="M1900.5 1213.7 L1912 1234.4 L1889 1234.4 Z" fill="#ffbb12"/>
<path d="M1953.2 1258.4 L1964.7 1279.1 L1941.7 1279.1 Z" fill="#ffbb12"/>
<rect x="318.5" y="799.5" width="1685.5" height="546" fill="none" stroke="#1c1c1c" stroke-width="5.8"/>
<line x1="300.5" y1="1300.5" x2="318.5" y2="1300.5" stroke="#1c1c1c" stroke-width="5.8"/>
<text x="287.5" y="1313" font-family="'Liberation Sans', Arial, sans-serif" font-size="35.5" font-weight="bold" text-anchor="end" fill="#222">0.0</text>
<line x1="310" y1="1254.9" x2="318.5" y2="1254.9" stroke="#1c1c1c" stroke-width="5.8"/>
<line x1="300.5" y1="1209.2" x2="318.5" y2="1209.2" stroke="#1c1c1c" stroke-width="5.8"/>
<text x="287.5" y="1221.7" font-family="'Liberation Sans', Arial, sans-serif" font-size="35.5" font-weight="bold" text-anchor="end" fill="#222">0.2</text>
<line x1="310" y1="1163.6" x2="318.5" y2="1163.6" stroke="#1c1c1c" stroke-width="5.8"/>
<line x1="300.5" y1="1118" x2="318.5" y2="1118" stroke="#1c1c1c" stroke-width="5.8"/>
<text x="287.5" y="1130.5" font-family="'Liberation Sans', Arial, sans-serif" font-size="35.5" font-weight="bold" text-anchor="end" fill="#222">0.4</text>
<line x1="310" y1="1072.3" x2="318.5" y2="1072.3" stroke="#1c1c1c" stroke-width="5.8"/>
<line x1="300.5" y1="1026.7" x2="318.5" y2="1026.7" stroke="#1c1c1c" stroke-width="5.8"/>
<text x="287.5" y="1039.2" font-family="'Liberation Sans', Arial, sans-serif" font-size="35.5" font-weight="bold" text-anchor="end" fill="#222">0.6</text>
<line x1="310" y1="981.1" x2="318.5" y2="981.1" stroke="#1c1c1c" stroke-width="5.8"/>
<line x1="300.5" y1="935.5" x2="318.5" y2="935.5" stroke="#1c1c1c" stroke-width="5.8"/>
<text x="287.5" y="948" font-family="'Liberation Sans', Arial, sans-serif" font-size="35.5" font-weight="bold" text-anchor="end" fill="#222">0.8</text>
<line x1="310" y1="889.8" x2="318.5" y2="889.8" stroke="#1c1c1c" stroke-width="5.8"/>
<line x1="300.5" y1="844.2" x2="318.5" y2="844.2" stroke="#1c1c1c" stroke-width="5.8"/>
<text x="287.5" y="856.7" font-family="'Liberation Sans', Arial, sans-serif" font-size="35.5" font-weight="bold" text-anchor="end" fill="#222">1.0</text>
<line x1="317.8" y1="1345.5" x2="317.8" y2="1354.5" stroke="#1c1c1c" stroke-width="5.8"/>
<line x1="370.6" y1="1345.5" x2="370.6" y2="1362.5" stroke="#1c1c1c" stroke-width="5.8"/>
<text x="371.6" y="1405" font-family="'Liberation Sans', Arial, sans-serif" font-size="35.5" font-weight="bold" text-anchor="middle" fill="#222">-60</text>
<line x1="423.3" y1="1345.5" x2="423.3" y2="1354.5" stroke="#1c1c1c" stroke-width="5.8"/>
<line x1="476.1" y1="1345.5" x2="476.1" y2="1362.5" stroke="#1c1c1c" stroke-width="5.8"/>
<text x="477.1" y="1405" font-family="'Liberation Sans', Arial, sans-serif" font-size="35.5" font-weight="bold" text-anchor="middle" fill="#222">-40</text>
<line x1="528.8" y1="1345.5" x2="528.8" y2="1354.5" stroke="#1c1c1c" stroke-width="5.8"/>
<line x1="581.6" y1="1345.5" x2="581.6" y2="1362.5" stroke="#1c1c1c" stroke-width="5.8"/>
<text x="582.6" y="1405" font-family="'Liberation Sans', Arial, sans-serif" font-size="35.5" font-weight="bold" text-anchor="middle" fill="#222">-20</text>
<line x1="634.3" y1="1345.5" x2="634.3" y2="1354.5" stroke="#1c1c1c" stroke-width="5.8"/>
<line x1="687.1" y1="1345.5" x2="687.1" y2="1362.5" stroke="#1c1c1c" stroke-width="5.8"/>
<text x="688.1" y="1405" font-family="'Liberation Sans', Arial, sans-serif" font-size="35.5" font-weight="bold" text-anchor="middle" fill="#222">0</text>
<line x1="739.9" y1="1345.5" x2="739.9" y2="1354.5" stroke="#1c1c1c" stroke-width="5.8"/>
<line x1="792.6" y1="1345.5" x2="792.6" y2="1362.5" stroke="#1c1c1c" stroke-width="5.8"/>
<text x="793.6" y="1405" font-family="'Liberation Sans', Arial, sans-serif" font-size="35.5" font-weight="bold" text-anchor="middle" fill="#222">20</text>
<line x1="845.4" y1="1345.5" x2="845.4" y2="1354.5" stroke="#1c1c1c" stroke-width="5.8"/>
<line x1="898.1" y1="1345.5" x2="898.1" y2="1362.5" stroke="#1c1c1c" stroke-width="5.8"/>
<text x="899.1" y="1405" font-family="'Liberation Sans', Arial, sans-serif" font-size="35.5" font-weight="bold" text-anchor="middle" fill="#222">40</text>
<line x1="950.9" y1="1345.5" x2="950.9" y2="1354.5" stroke="#1c1c1c" stroke-width="5.8"/>
<line x1="1003.6" y1="1345.5" x2="1003.6" y2="1362.5" stroke="#1c1c1c" stroke-width="5.8"/>
<text x="1004.6" y="1405" font-family="'Liberation Sans', Arial, sans-serif" font-size="35.5" font-weight="bold" text-anchor="middle" fill="#222">60</text>
<line x1="1056.4" y1="1345.5" x2="1056.4" y2="1354.5" stroke="#1c1c1c" stroke-width="5.8"/>
<line x1="1109.1" y1="1345.5" x2="1109.1" y2="1362.5" stroke="#1c1c1c" stroke-width="5.8"/>
<text x="1110.1" y="1405" font-family="'Liberation Sans', Arial, sans-serif" font-size="35.5" font-weight="bold" text-anchor="middle" fill="#222">80</text>
<line x1="1161.9" y1="1345.5" x2="1161.9" y2="1354.5" stroke="#1c1c1c" stroke-width="5.8"/>
<line x1="1214.7" y1="1345.5" x2="1214.7" y2="1362.5" stroke="#1c1c1c" stroke-width="5.8"/>
<text x="1215.7" y="1405" font-family="'Liberation Sans', Arial, sans-serif" font-size="35.5" font-weight="bold" text-anchor="middle" fill="#222">100</text>
<line x1="1267.4" y1="1345.5" x2="1267.4" y2="1354.5" stroke="#1c1c1c" stroke-width="5.8"/>
<line x1="1320.2" y1="1345.5" x2="1320.2" y2="1362.5" stroke="#1c1c1c" stroke-width="5.8"/>
<text x="1321.2" y="1405" font-family="'Liberation Sans', Arial, sans-serif" font-size="35.5" font-weight="bold" text-anchor="middle" fill="#222">120</text>
<line x1="1372.9" y1="1345.5" x2="1372.9" y2="1354.5" stroke="#1c1c1c" stroke-width="5.8"/>
<line x1="1425.7" y1="1345.5" x2="1425.7" y2="1362.5" stroke="#1c1c1c" stroke-width="5.8"/>
<text x="1426.7" y="1405" font-family="'Liberation Sans', Arial, sans-serif" font-size="35.5" font-weight="bold" text-anchor="middle" fill="#222">140</text>
<line x1="1478.4" y1="1345.5" x2="1478.4" y2="1354.5" stroke="#1c1c1c" stroke-width="5.8"/>
<line x1="1531.2" y1="1345.5" x2="1531.2" y2="1362.5" stroke="#1c1c1c" stroke-width="5.8"/>
<text x="1532.2" y="1405" font-family="'Liberation Sans', Arial, sans-serif" font-size="35.5" font-weight="bold" text-anchor="middle" fill="#222">160</text>
<line x1="1583.9" y1="1345.5" x2="1583.9" y2="1354.5" stroke="#1c1c1c" stroke-width="5.8"/>
<line x1="1636.7" y1="1345.5" x2="1636.7" y2="1362.5" stroke="#1c1c1c" stroke-width="5.8"/>
<text x="1637.7" y="1405" font-family="'Liberation Sans', Arial, sans-serif" font-size="35.5" font-weight="bold" text-anchor="middle" fill="#222">180</text>
<line x1="1689.4" y1="1345.5" x2="1689.4" y2="1354.5" stroke="#1c1c1c" stroke-width="5.8"/>
<line x1="1742.2" y1="1345.5" x2="1742.2" y2="1362.5" stroke="#1c1c1c" stroke-width="5.8"/>
<text x="1743.2" y="1405" font-family="'Liberation Sans', Arial, sans-serif" font-size="35.5" font-weight="bold" text-anchor="middle" fill="#222">200</text>
<line x1="1795" y1="1345.5" x2="1795" y2="1354.5" stroke="#1c1c1c" stroke-width="5.8"/>
<line x1="1847.7" y1="1345.5" x2="1847.7" y2="1362.5" stroke="#1c1c1c" stroke-width="5.8"/>
<text x="1848.7" y="1405" font-family="'Liberation Sans', Arial, sans-serif" font-size="35.5" font-weight="bold" text-anchor="middle" fill="#222">220</text>
<line x1="1900.5" y1="1345.5" x2="1900.5" y2="1354.5" stroke="#1c1c1c" stroke-width="5.8"/>
<line x1="1953.2" y1="1345.5" x2="1953.2" y2="1362.5" stroke="#1c1c1c" stroke-width="5.8"/>
<text x="1954.2" y="1405" font-family="'Liberation Sans', Arial, sans-serif" font-size="35.5" font-weight="bold" text-anchor="middle" fill="#222">240</text>
<line x1="2006" y1="1345.5" x2="2006" y2="1354.5" stroke="#1c1c1c" stroke-width="5.8"/>
<text x="1165.5" y="1455.4" font-family="'Liberation Serif', 'Times New Roman', serif" font-size="51.5" font-weight="bold" text-anchor="middle" fill="#1e1e1e">Time(min)</text>
<text transform="translate(206 1121) rotate(-90)" font-family="'Liberation Sans', Arial, sans-serif" font-size="45" font-weight="bold" fill="#222">C/C<tspan font-size="31" dy="11">0</tspan></text>
<circle cx="1017" cy="1459" r="1.8" fill="#999"/>
<text x="22.6" y="1563.5" font-family="'DejaVu Sans', sans-serif" font-size="63.5" font-weight="200" fill="#2d2626">d</text>
<g clip-path="url(#semclip)">
<rect x="115.6" y="1535" width="1047.4" height="629" fill="url(#semg)"/>
<ellipse cx="178" cy="1650" rx="28" ry="110" fill="#38363d" filter="url(#blur14)"/>
<g filter="url(#blur14)">
<ellipse cx="135" cy="2130" rx="40" ry="55" fill="#a3a2a7"/>
<ellipse cx="165" cy="2105" rx="45" ry="28" fill="#b8b7bc"/>
<ellipse cx="150" cy="2150" rx="55" ry="25" fill="#a9a8ad"/>
<ellipse cx="205" cy="2135" rx="25" ry="15" fill="#86858a"/>
<ellipse cx="125" cy="2075" rx="18" ry="25" fill="#807f84"/>
<ellipse cx="650" cy="2140" rx="45" ry="30" fill="#8f8e93"/>
<ellipse cx="630" cy="2118" rx="25" ry="14" fill="#9a999e"/>
<ellipse cx="900" cy="2110" rx="80" ry="18" fill="#6b6a6f"/>
<ellipse cx="1000" cy="2095" rx="110" ry="14" fill="#6e6d72"/>
<ellipse cx="1050" cy="2130" rx="110" ry="22" fill="#76757a"/>
<ellipse cx="950" cy="2150" rx="90" ry="14" fill="#707075"/>
<ellipse cx="1120" cy="2100" rx="45" ry="20" fill="#6f6e73"/>
<ellipse cx="860" cy="2150" rx="50" ry="12" fill="#6a696e"/>
<ellipse cx="450" cy="2150" rx="60" ry="10" fill="#56555a"/>
<ellipse cx="330" cy="2090" rx="90" ry="12" fill="#4c4b50"/>
</g>
<rect x="115.6" y="2050" width="1047.4" height="115" fill="#fff" filter="url(#blotch)" opacity="0.12"/>
<path d="M110.6 2164 L110.6 1717.6 L116.7 1722.1 L122.2 1720.4 L129.7 1713.6 L138.3 1713.1 L146.3 1713.5 L151.9 1718.3 L162.7 1713.9 L169.3 1720.9 L180.9 1720 L188.7 1725.4 L194 1723.7 L201.1 1713.6 L206.9 1715.7 L217.6 1713.8 L226.7 1720 L234.3 1718.6 L239.7 1711.7 L246.2 1720.3 L254.1 1715 L263.2 1716.8 L270.3 1721.5 L280.2 1713.6 L289.3 1717.4 L300.4 1720 L307.4 1723.4 L313.2 1715.5 L323.5 1711.6 L332 1709.8 L341.6 1719.8 L350.6 1721.2 L357.8 1718.6 L367 1716.8 L375.2 1720.3 L386.8 1715 L396.5 1709 L406.4 1717.1 L418.3 1719.3 L425.3 1713.1 L435 1707.8 L443.2 1709.7 L449 1708.1 L459.4 1708.9 L466.1 1712.4 L477.2 1707.9 L485.4 1714.3 L496.6 1717.9 L507.6 1710.2 L515.5 1711.1 L526.7 1719.3 L532.8 1708.3 L539.4 1709 L547.8 1713.8 L554.6 1705.5 L562.6 1710.5 L571.5 1718.5 L581.4 1712.2 L590.7 1714.3 L596.1 1717.3 L606.5 1716.8 L617.1 1709.9 L624.9 1705.7 L634.3 1705 L639.8 1706.9 L646 1708.6 L651.3 1703.8 L657.4 1705.1 L664.9 1703.9 L676 1712 L682.1 1706.8 L689.5 1708.2 L695.4 1714.9 L707.3 1709.4 L715.7 1703.9 L721.4 1707.4 L728.3 1714.1 L734.4 1702.7 L746.1 1709.6 L752.1 1709.7 L757.3 1709.4 L769.1 1713.9 L779 1705.3 L786.6 1703.8 L797 1708.7 L807.4 1705.7 L814 1712.4 L825.9 1712.7 L836.5 1712.1 L846.7 1703.6 L855.3 1705.3 L860.5 1700.6 L867.5 1703.7 L877.3 1713.3 L885.5 1712.9 L897.4 1712.9 L904.9 1702.5 L911.5 1702.1 L918 1707.9 L929.3 1710.8 L937.6 1708 L948.2 1699.9 L957.8 1711.3 L968.3 1708.8 L976.7 1700.7 L987.2 1702.7 L997.8 1711.4 L1005.6 1703.3 L1017.2 1707.7 L1023.4 1699.2 L1029.4 1710 L1040.1 1699.2 L1050.9 1710.5 L1060.5 1700.3 L1069.3 1696 L1074.4 1707 L1084 1699.4 L1095.5 1696.4 L1106.6 1700.3 L1113.1 1691.4 L1120.1 1690.2 L1129.2 1689.1 L1137.2 1686.2 L1148.5 1687.7 L1156.7 1689.7 L1168.1 1685.8 L1173 1927 L110.6 1907 Z" fill="#4f4e54" filter="url(#blur6)" transform="translate(0 -10)"/>
<path d="M110.6 2164 L110.6 1717.6 L116.7 1722.1 L122.2 1720.4 L129.7 1713.6 L138.3 1713.1 L146.3 1713.5 L151.9 1718.3 L162.7 1713.9 L169.3 1720.9 L180.9 1720 L188.7 1725.4 L194 1723.7 L201.1 1713.6 L206.9 1715.7 L217.6 1713.8 L226.7 1720 L234.3 1718.6 L239.7 1711.7 L246.2 1720.3 L254.1 1715 L263.2 1716.8 L270.3 1721.5 L280.2 1713.6 L289.3 1717.4 L300.4 1720 L307.4 1723.4 L313.2 1715.5 L323.5 1711.6 L332 1709.8 L341.6 1719.8 L350.6 1721.2 L357.8 1718.6 L367 1716.8 L375.2 1720.3 L386.8 1715 L396.5 1709 L406.4 1717.1 L418.3 1719.3 L425.3 1713.1 L435 1707.8 L443.2 1709.7 L449 1708.1 L459.4 1708.9 L466.1 1712.4 L477.2 1707.9 L485.4 1714.3 L496.6 1717.9 L507.6 1710.2 L515.5 1711.1 L526.7 1719.3 L532.8 1708.3 L539.4 1709 L547.8 1713.8 L554.6 1705.5 L562.6 1710.5 L571.5 1718.5 L581.4 1712.2 L590.7 1714.3 L596.1 1717.3 L606.5 1716.8 L617.1 1709.9 L624.9 1705.7 L634.3 1705 L639.8 1706.9 L646 1708.6 L651.3 1703.8 L657.4 1705.1 L664.9 1703.9 L676 1712 L682.1 1706.8 L689.5 1708.2 L695.4 1714.9 L707.3 1709.4 L715.7 1703.9 L721.4 1707.4 L728.3 1714.1 L734.4 1702.7 L746.1 1709.6 L752.1 1709.7 L757.3 1709.4 L769.1 1713.9 L779 1705.3 L786.6 1703.8 L797 1708.7 L807.4 1705.7 L814 1712.4 L825.9 1712.7 L836.5 1712.1 L846.7 1703.6 L855.3 1705.3 L860.5 1700.6 L867.5 1703.7 L877.3 1713.3 L885.5 1712.9 L897.4 1712.9 L904.9 1702.5 L911.5 1702.1 L918 1707.9 L929.3 1710.8 L937.6 1708 L948.2 1699.9 L957.8 1711.3 L968.3 1708.8 L976.7 1700.7 L987.2 1702.7 L997.8 1711.4 L1005.6 1703.3 L1017.2 1707.7 L1023.4 1699.2 L1029.4 1710 L1040.1 1699.2 L1050.9 1710.5 L1060.5 1700.3 L1069.3 1696 L1074.4 1707 L1084 1699.4 L1095.5 1696.4 L1106.6 1700.3 L1113.1 1691.4 L1120.1 1690.2 L1129.2 1689.1 L1137.2 1686.2 L1148.5 1687.7 L1156.7 1689.7 L1168.1 1685.8 L1173 1927 L110.6 1907 Z" fill="url(#fibg)" filter="url(#blur3)"/>
<g clip-path="url(#fibclip)">
<rect x="115.6" y="1660" width="1047.4" height="280" fill="#000" filter="url(#streak)" opacity="0.9"/>
<rect x="115.6" y="1660" width="1047.4" height="280" fill="#000" filter="url(#pits)" opacity="0.9"/>
<rect x="115.6" y="1660" width="1047.4" height="280" fill="#fff" filter="url(#streakw)" opacity="0.1"/>
</g>
<path d="M258 1722 L260.8 1686 L268 1722 Z" fill="#6e6d73" filter="url(#blur2)"/>
<path d="M293 1720 L298.9 1696 L307 1720 Z" fill="#6e6d73" filter="url(#blur2)"/>
<path d="M345 1722 L348.4 1691 L355 1722 Z" fill="#6e6d73" filter="url(#blur2)"/>
<path d="M378 1716 L373.3 1670 L392 1716 Z" fill="#6e6d73" filter="url(#blur2)"/>
<path d="M405.5 1718 L407.1 1684 L414.5 1718 Z" fill="#6e6d73" filter="url(#blur2)"/>
<path d="M466 1718 L463.5 1682 L474 1718 Z" fill="#6e6d73" filter="url(#blur2)"/>
<path d="M519 1718 L519.6 1694 L531 1718 Z" fill="#6e6d73" filter="url(#blur2)"/>
<path d="M553 1718 L561.2 1692 L567 1718 Z" fill="#6e6d73" filter="url(#blur2)"/>
<path d="M641 1712 L638.7 1664 L655 1712 Z" fill="#6e6d73" filter="url(#blur2)"/>
<path d="M684 1712 L687.4 1676 L696 1712 Z" fill="#6e6d73" filter="url(#blur2)"/>
<path d="M740 1714 L745.7 1683 L750 1714 Z" fill="#6e6d73" filter="url(#blur2)"/>
<path d="M815.5 1710 L818.6 1676 L824.5 1710 Z" fill="#6e6d73" filter="url(#blur2)"/>
<path d="M844 1710 L846 1678 L856 1710 Z" fill="#6e6d73" filter="url(#blur2)"/>
<path d="M920.5 1709 L923 1673 L929.5 1709 Z" fill="#6e6d73" filter="url(#blur2)"/>
<path d="M952 1708 L958.6 1674 L968 1708 Z" fill="#6e6d73" filter="url(#blur2)"/>
<path d="M1004 1706 L1011.5 1672 L1016 1706 Z" fill="#6e6d73" filter="url(#blur2)"/>
<path d="M1053 1700 L1052.9 1666 L1067 1700 Z" fill="#6e6d73" filter="url(#blur2)"/>
<path d="M1094 1696 L1098.1 1650 L1106 1696 Z" fill="#6e6d73" filter="url(#blur2)"/>
<path d="M1107.5 1696 L1099.8 1625 L1116.5 1696 Z" fill="#6e6d73" filter="url(#blur2)"/>
<path d="M1138 1692 L1137.1 1641 L1152 1692 Z" fill="#6e6d73" filter="url(#blur2)"/>
<path d="M95.6 1895 L1183 1915 L1183 1945 L95.6 1925 Z" fill="#6d6c71" filter="url(#blur6)"/>
<rect x="115.6" y="1535" width="1047.4" height="629" fill="#000" filter="url(#semnoise)" opacity="0.22"/>
<rect x="115.6" y="1535" width="1047.4" height="629" fill="#fff" filter="url(#semnoise2)" opacity="0.10"/>
<rect x="767.8" y="2124" width="3.2" height="8" fill="#e8e8e8"/>
<rect x="805.2" y="2124" width="3.2" height="8" fill="#e8e8e8"/>
<rect x="842.6" y="2124" width="3.2" height="8" fill="#e8e8e8"/>
<rect x="880" y="2124" width="3.2" height="8" fill="#e8e8e8"/>
<rect x="917.4" y="2124" width="3.2" height="8" fill="#e8e8e8"/>
<rect x="954.8" y="2124" width="3.2" height="8" fill="#e8e8e8"/>
<rect x="992.2" y="2124" width="3.2" height="8" fill="#e8e8e8"/>
<rect x="1029.6" y="2124" width="3.2" height="8" fill="#e8e8e8"/>
<rect x="1067" y="2124" width="3.2" height="8" fill="#e8e8e8"/>
<rect x="1104.4" y="2124" width="3.2" height="8" fill="#e8e8e8"/>
<rect x="1141.8" y="2124" width="3.2" height="8" fill="#e8e8e8"/>
<text x="126" y="2157" font-family="'Liberation Sans', Arial, sans-serif" font-size="26" fill="#d8d8dc" stroke="#2a2a2e" stroke-width="0.8" paint-order="stroke" textLength="365" lengthAdjust="spacingAndGlyphs">S4800 10.0kV x900 SE(M)</text>
<text x="1049" y="2156.5" font-family="'Liberation Sans', Arial, sans-serif" font-size="26" fill="#dcdce0" stroke="#2a2a2e" stroke-width="0.8" paint-order="stroke" textLength="104" lengthAdjust="spacingAndGlyphs">50.0um</text>
</g>
<text x="1199.2" y="1553" font-family="'DejaVu Sans', sans-serif" font-size="63.5" font-weight="200" fill="#2d2626">e</text>
<line x1="1282.6" y1="1552" x2="1282.6" y2="2078.9" stroke="#2c2c2c" stroke-width="3.3"/>
<line x1="1281.1" y1="2077.4" x2="2020.5" y2="2077.4" stroke="#2c2c2c" stroke-width="3.8"/>
<text x="1281.6" y="2114" font-family="'Liberation Sans', Arial, sans-serif" font-size="25.5" text-anchor="middle" fill="#2e2e2e">200</text>
<line x1="1335.2" y1="2077.4" x2="1335.2" y2="2069.4" stroke="#2c2c2c" stroke-width="3"/>
<line x1="1387.8" y1="2077.4" x2="1387.8" y2="2063.4" stroke="#2c2c2c" stroke-width="3"/>
<text x="1386.8" y="2114" font-family="'Liberation Sans', Arial, sans-serif" font-size="25.5" text-anchor="middle" fill="#2e2e2e">300</text>
<line x1="1440.4" y1="2077.4" x2="1440.4" y2="2069.4" stroke="#2c2c2c" stroke-width="3"/>
<line x1="1493" y1="2077.4" x2="1493" y2="2063.4" stroke="#2c2c2c" stroke-width="3"/>
<text x="1492" y="2114" font-family="'Liberation Sans', Arial, sans-serif" font-size="25.5" text-anchor="middle" fill="#2e2e2e">400</text>
<line x1="1545.6" y1="2077.4" x2="1545.6" y2="2069.4" stroke="#2c2c2c" stroke-width="3"/>
<line x1="1598.3" y1="2077.4" x2="1598.3" y2="2063.4" stroke="#2c2c2c" stroke-width="3"/>
<text x="1597.3" y="2114" font-family="'Liberation Sans', Arial, sans-serif" font-size="25.5" text-anchor="middle" fill="#2e2e2e">500</text>
<line x1="1650.9" y1="2077.4" x2="1650.9" y2="2069.4" stroke="#2c2c2c" stroke-width="3"/>
<line x1="1703.5" y1="2077.4" x2="1703.5" y2="2063.4" stroke="#2c2c2c" stroke-width="3"/>
<text x="1702.5" y="2114" font-family="'Liberation Sans', Arial, sans-serif" font-size="25.5" text-anchor="middle" fill="#2e2e2e">600</text>
<line x1="1756.1" y1="2077.4" x2="1756.1" y2="2069.4" stroke="#2c2c2c" stroke-width="3"/>
<line x1="1808.7" y1="2077.4" x2="1808.7" y2="2063.4" stroke="#2c2c2c" stroke-width="3"/>
<text x="1807.7" y="2114" font-family="'Liberation Sans', Arial, sans-serif" font-size="25.5" text-anchor="middle" fill="#2e2e2e">700</text>
<line x1="1861.3" y1="2077.4" x2="1861.3" y2="2069.4" stroke="#2c2c2c" stroke-width="3"/>
<line x1="1913.9" y1="2077.4" x2="1913.9" y2="2063.4" stroke="#2c2c2c" stroke-width="3"/>
<text x="1912.9" y="2114" font-family="'Liberation Sans', Arial, sans-serif" font-size="25.5" text-anchor="middle" fill="#2e2e2e">800</text>
<line x1="1966.5" y1="2077.4" x2="1966.5" y2="2069.4" stroke="#2c2c2c" stroke-width="3"/>
<line x1="2019.1" y1="2077.4" x2="2019.1" y2="2063.4" stroke="#2c2c2c" stroke-width="3"/>
<text x="2018.1" y="2114" font-family="'Liberation Sans', Arial, sans-serif" font-size="25.5" text-anchor="middle" fill="#2e2e2e">900</text>
<text x="1650.5" y="2155" font-family="'Liberation Sans', Arial, sans-serif" font-size="35.3" text-anchor="middle" fill="#2e2e2e">Wavelength (nm)</text>
<text x="1252.3" y="1815" font-family="'Liberation Sans', Arial, sans-serif" font-size="37" text-anchor="middle" fill="#2e2e2e" transform="rotate(-90 1252.3 1815)">Absorbance (a. u.)</text>
<path d="M1282.8 1702.2 L1285 1690 L1287.5 1676 L1291 1662 L1296.3 1649.7 L1300 1644 L1305 1641 L1315 1638.5 L1325.5 1636.8 L1333 1638 L1340 1643.8 L1348 1643 L1357.6 1642 L1367 1638 L1375 1632 L1381 1626 L1386.8 1620.5 L1394 1615 L1401.4 1611.7 L1410 1611 L1421.8 1611.7 L1430 1615.5 L1439.3 1620.5 L1447 1624 L1455.7 1626.3 L1463 1621 L1471.4 1616.4 L1478 1612 L1486 1608.8 L1495 1606 L1503.5 1604.1 L1532.7 1599.5 L1562 1596 L1620.3 1590.7 L1678.7 1585.5 L1737 1580.2 L1795.5 1575.5 L1853.8 1574.4 L1912.2 1573.2 L1964.8 1572.6 L1967 1565 L1976.4 1563.9 L1988 1566.5 L1999.8 1567.4 L2008 1566 L2014.4 1568 L2020.2 1573.8" fill="none" stroke="#1e1e1e" stroke-width="5.2" stroke-linejoin="round"/>
<path d="M1404.3 1611.7 L1412 1615 L1418.9 1620.5 L1425 1630 L1430.6 1643.8 L1436 1662 L1442.2 1687.6 L1447 1710 L1451 1734.3 L1454 1760 L1456.8 1792.7 L1460 1830 L1462.7 1868.6 L1465.5 1905 L1468.5 1938.7 L1471.5 1975 L1474.3 2008.7 L1477 2028 L1480.2 2038 L1485 2046 L1490.7 2052.5 L1496 2050 L1503.5 2046.7 L1532.7 2036.8 L1573.6 2029.2 L1620.3 2025 L1678.7 2018.7 L1748.7 2014.6 L1795.5 2004.7 L1853.8 1995.9 L1912.2 1988.9 L1941.4 1984.2 L1970.6 1972.6 L1999.8 1965 L2008.6 1960.9 L2014 1962 L2019 1968" fill="none" stroke="#1e1e1e" stroke-width="5.2" stroke-linejoin="round" stroke-dasharray="13 8"/>
<line x1="1673" y1="1820.8" x2="1757.5" y2="1820.8" stroke="#1e1e1e" stroke-width="5.5"/>
<line x1="1673" y1="1880.3" x2="1757.5" y2="1880.3" stroke="#1e1e1e" stroke-width="5.5" stroke-dasharray="12 9"/>
<text x="1769" y="1833.8" font-family="'Liberation Sans', Arial, sans-serif" font-size="36.5" fill="#2a2a2a">MoS<tspan font-size="26" dy="9">2</tspan><tspan dy="-9">-TNB</tspan></text>
<text x="1769" y="1892.5" font-family="'Liberation Sans', Arial, sans-serif" font-size="36.5" fill="#2a2a2a">TNB</text>
<text x="28.2" y="2284" font-family="'DejaVu Sans', sans-serif" font-size="63.5" font-weight="200" fill="#2d2626">f</text>
<g clip-path="url(#mc1)">
<rect x="113.8" y="2251.2" width="535.8" height="499.4" fill="url(#lg2)"/>
<ellipse cx="382" cy="2268" rx="190" ry="30" fill="url(#rg3)"/>
<ellipse cx="382" cy="2732" rx="170" ry="28" fill="url(#rg4)"/>
<ellipse cx="120" cy="2750" rx="110" ry="55" fill="url(#rg5)"/>
<ellipse cx="645" cy="2750" rx="110" ry="55" fill="url(#rg6)"/>
<rect x="272.4" y="2241.2" width="40.1" height="50.3" fill="url(#lg7)" filter="url(#mblur5)" rx="20"/>
<rect x="272.4" y="2709" width="40.1" height="51.6" fill="url(#lg8)" filter="url(#mblur5)" rx="20"/>
<rect x="361.3" y="2241.2" width="40.1" height="50.3" fill="url(#lg9)" filter="url(#mblur5)" rx="20"/>
<rect x="361.3" y="2709" width="40.1" height="51.6" fill="url(#lg10)" filter="url(#mblur5)" rx="20"/>
<rect x="450.3" y="2241.2" width="41" height="50.3" fill="url(#lg11)" filter="url(#mblur5)" rx="20.5"/>
<rect x="450.3" y="2709" width="41" height="51.6" fill="url(#lg12)" filter="url(#mblur5)" rx="20.5"/>
<ellipse cx="336.9" cy="2291.5" rx="20" ry="13" fill="#e8e01c" filter="url(#mblur3)"/>
<ellipse cx="336.9" cy="2709" rx="20" ry="13" fill="#e8e01c" filter="url(#mblur3)"/>
<ellipse cx="425.8" cy="2291.5" rx="20" ry="13" fill="#e8e01c" filter="url(#mblur3)"/>
<ellipse cx="425.8" cy="2709" rx="20" ry="13" fill="#e8e01c" filter="url(#mblur3)"/>
<ellipse cx="292.4" cy="2291.5" rx="18.7" ry="15" fill="#005fc8" filter="url(#mblur3)"/>
<ellipse cx="292.4" cy="2709" rx="18.7" ry="15" fill="#005fc8" filter="url(#mblur3)"/>
<ellipse cx="381.4" cy="2291.5" rx="18.7" ry="15" fill="#005fc8" filter="url(#mblur3)"/>
<ellipse cx="381.4" cy="2709" rx="18.7" ry="15" fill="#005fc8" filter="url(#mblur3)"/>
<ellipse cx="470.8" cy="2291.5" rx="19.1" ry="15" fill="#005fc8" filter="url(#mblur3)"/>
<ellipse cx="470.8" cy="2709" rx="19.1" ry="15" fill="#005fc8" filter="url(#mblur3)"/>
<rect x="314.7" y="2291.5" width="44.4" height="417.5" fill="url(#lg13)"/>
<rect x="403.6" y="2291.5" width="44.4" height="417.5" fill="url(#lg14)"/>
<rect x="270.2" y="2291.5" width="44.5" height="417.5" fill="#007dd0"/>
<rect x="279.1" y="2291.5" width="26.7" height="417.5" fill="#213484"/>
<rect x="359.1" y="2291.5" width="44.5" height="417.5" fill="#007dd0"/>
<rect x="368" y="2291.5" width="26.7" height="417.5" fill="#213484"/>
<rect x="448" y="2291.5" width="45.5" height="417.5" fill="#007dd0"/>
<rect x="457.1" y="2291.5" width="27.3" height="417.5" fill="#213484"/>
</g>
<rect x="113.8" y="2251.2" width="535.8" height="499.4" fill="none" stroke="#1a9ac0" stroke-width="1.5" opacity="0.6"/>
<text x="116" y="2737.5" font-family="'Liberation Serif', 'Times New Roman', serif" font-size="50" fill="#111">300nm</text>
<rect x="678" y="2238.7" width="30" height="506.3" fill="url(#lg15)"/>
<rect x="678" y="2238.7" width="30" height="506.3" fill="none" stroke="#666" stroke-width="1" opacity="0.5"/>
<line x1="678" y1="2254.2" x2="683" y2="2254.2" stroke="#222" stroke-width="2.5" opacity="0.6"/>
<line x1="703" y1="2254.2" x2="708" y2="2254.2" stroke="#222" stroke-width="2.5" opacity="0.6"/>
<text x="719.6" y="2262.2" font-family="'DejaVu Sans', sans-serif" font-size="22" fill="#4a4a4a">3</text>
<line x1="678" y1="2340.3" x2="683" y2="2340.3" stroke="#222" stroke-width="2.5" opacity="0.6"/>
<line x1="703" y1="2340.3" x2="708" y2="2340.3" stroke="#222" stroke-width="2.5" opacity="0.6"/>
<text x="719.6" y="2348.3" font-family="'DejaVu Sans', sans-serif" font-size="22" fill="#4a4a4a">2.5</text>
<line x1="678" y1="2426.4" x2="683" y2="2426.4" stroke="#222" stroke-width="2.5" opacity="0.6"/>
<line x1="703" y1="2426.4" x2="708" y2="2426.4" stroke="#222" stroke-width="2.5" opacity="0.6"/>
<text x="719.6" y="2434.4" font-family="'DejaVu Sans', sans-serif" font-size="22" fill="#4a4a4a">2</text>
<line x1="678" y1="2512.5" x2="683" y2="2512.5" stroke="#222" stroke-width="2.5" opacity="0.6"/>
<line x1="703" y1="2512.5" x2="708" y2="2512.5" stroke="#222" stroke-width="2.5" opacity="0.6"/>
<text x="719.6" y="2520.5" font-family="'DejaVu Sans', sans-serif" font-size="22" fill="#4a4a4a">1.5</text>
<line x1="678" y1="2598.6" x2="683" y2="2598.6" stroke="#222" stroke-width="2.5" opacity="0.6"/>
<line x1="703" y1="2598.6" x2="708" y2="2598.6" stroke="#222" stroke-width="2.5" opacity="0.6"/>
<text x="719.6" y="2606.6" font-family="'DejaVu Sans', sans-serif" font-size="22" fill="#4a4a4a">1</text>
<line x1="678" y1="2684.7" x2="683" y2="2684.7" stroke="#222" stroke-width="2.5" opacity="0.6"/>
<line x1="703" y1="2684.7" x2="708" y2="2684.7" stroke="#222" stroke-width="2.5" opacity="0.6"/>
<text x="719.6" y="2692.7" font-family="'DejaVu Sans', sans-serif" font-size="22" fill="#4a4a4a">0.5</text>
<g clip-path="url(#mc16)">
<rect x="774" y="2240.9" width="521.4" height="504.1" fill="url(#lg17)"/>
<ellipse cx="1035" cy="2258" rx="170" ry="28" fill="url(#rg18)"/>
<ellipse cx="1035" cy="2728" rx="170" ry="28" fill="url(#rg19)"/>
<ellipse cx="920" cy="2290" rx="30" ry="40" fill="url(#rg20)"/>
<ellipse cx="1150" cy="2290" rx="30" ry="40" fill="url(#rg21)"/>
<ellipse cx="920" cy="2700" rx="30" ry="40" fill="url(#rg22)"/>
<ellipse cx="1150" cy="2700" rx="30" ry="40" fill="url(#rg23)"/>
<rect x="926" y="2230.9" width="44.5" height="51.9" fill="url(#lg24)" filter="url(#mblur5)" rx="22.2"/>
<rect x="926" y="2704" width="44.5" height="51" fill="url(#lg25)" filter="url(#mblur5)" rx="22.2"/>
<rect x="1012.5" y="2230.9" width="44.5" height="51.9" fill="url(#lg26)" filter="url(#mblur5)" rx="22.2"/>
<rect x="1012.5" y="2704" width="44.5" height="51" fill="url(#lg27)" filter="url(#mblur5)" rx="22.2"/>
<rect x="1099" y="2230.9" width="44.4" height="51.9" fill="url(#lg28)" filter="url(#mblur5)" rx="22.2"/>
<rect x="1099" y="2704" width="44.4" height="51" fill="url(#lg29)" filter="url(#mblur5)" rx="22.2"/>
<ellipse cx="991.5" cy="2282.8" rx="18.9" ry="11" fill="#fad714" filter="url(#mblur3)"/>
<ellipse cx="991.5" cy="2704" rx="18.9" ry="11" fill="#fad714" filter="url(#mblur3)"/>
<ellipse cx="1078" cy="2282.8" rx="18.9" ry="11" fill="#fad714" filter="url(#mblur3)"/>
<ellipse cx="1078" cy="2704" rx="18.9" ry="11" fill="#fad714" filter="url(#mblur3)"/>
<ellipse cx="948.2" cy="2282.8" rx="17.8" ry="16" fill="#0041af" filter="url(#mblur3)"/>
<ellipse cx="948.2" cy="2704" rx="17.8" ry="16" fill="#0041af" filter="url(#mblur3)"/>
<ellipse cx="1034.8" cy="2282.8" rx="17.8" ry="16" fill="#0041af" filter="url(#mblur3)"/>
<ellipse cx="1034.8" cy="2704" rx="17.8" ry="16" fill="#0041af" filter="url(#mblur3)"/>
<ellipse cx="1121.2" cy="2282.8" rx="17.8" ry="16" fill="#0041af" filter="url(#mblur3)"/>
<ellipse cx="1121.2" cy="2704" rx="17.8" ry="16" fill="#0041af" filter="url(#mblur3)"/>
<rect x="970.5" y="2282.8" width="42" height="421.2" fill="url(#lg30)"/>
<rect x="1057" y="2282.8" width="42" height="421.2" fill="url(#lg31)"/>
<rect x="926" y="2282.8" width="44.5" height="421.2" fill="#233770"/>
<rect x="1012.5" y="2282.8" width="44.5" height="421.2" fill="#233770"/>
<rect x="1099" y="2282.8" width="44.4" height="421.2" fill="#233770"/>
<circle cx="926" cy="2282.8" r="5" fill="#f03020" opacity="0.85" filter="url(#mblur1)"/>
<circle cx="926" cy="2704" r="5" fill="#f03020" opacity="0.85" filter="url(#mblur1)"/>
<circle cx="1143.4" cy="2282.8" r="5" fill="#f03020" opacity="0.85" filter="url(#mblur1)"/>
<circle cx="1143.4" cy="2704" r="5" fill="#f03020" opacity="0.85" filter="url(#mblur1)"/>
</g>
<rect x="774" y="2240.9" width="521.4" height="504.1" fill="none" stroke="#20b090" stroke-width="1.5" opacity="0.6"/>
<text x="784.5" y="2731.8" font-family="'Liberation Serif', 'Times New Roman', serif" font-size="50" fill="#111">500nm</text>
<rect x="1326.8" y="2244.5" width="30.4" height="504.5" fill="url(#lg32)"/>
<rect x="1326.8" y="2244.5" width="30.4" height="504.5" fill="none" stroke="#666" stroke-width="1" opacity="0.5"/>
<line x1="1326.8" y1="2257.6" x2="1331.8" y2="2257.6" stroke="#222" stroke-width="2.5" opacity="0.6"/>
<line x1="1352.2" y1="2257.6" x2="1357.2" y2="2257.6" stroke="#222" stroke-width="2.5" opacity="0.6"/>
<text x="1368.7" y="2265.6" font-family="'DejaVu Sans', sans-serif" font-size="22" fill="#4a4a4a">2.2</text>
<line x1="1326.8" y1="2305.4" x2="1331.8" y2="2305.4" stroke="#222" stroke-width="2.5" opacity="0.6"/>
<line x1="1352.2" y1="2305.4" x2="1357.2" y2="2305.4" stroke="#222" stroke-width="2.5" opacity="0.6"/>
<text x="1368.7" y="2313.4" font-family="'DejaVu Sans', sans-serif" font-size="22" fill="#4a4a4a">2</text>
<line x1="1326.8" y1="2353.2" x2="1331.8" y2="2353.2" stroke="#222" stroke-width="2.5" opacity="0.6"/>
<line x1="1352.2" y1="2353.2" x2="1357.2" y2="2353.2" stroke="#222" stroke-width="2.5" opacity="0.6"/>
<text x="1368.7" y="2361.2" font-family="'DejaVu Sans', sans-serif" font-size="22" fill="#4a4a4a">1.8</text>
<line x1="1326.8" y1="2401" x2="1331.8" y2="2401" stroke="#222" stroke-width="2.5" opacity="0.6"/>
<line x1="1352.2" y1="2401" x2="1357.2" y2="2401" stroke="#222" stroke-width="2.5" opacity="0.6"/>
<text x="1368.7" y="2409" font-family="'DejaVu Sans', sans-serif" font-size="22" fill="#4a4a4a">1.6</text>
<line x1="1326.8" y1="2448.8" x2="1331.8" y2="2448.8" stroke="#222" stroke-width="2.5" opacity="0.6"/>
<line x1="1352.2" y1="2448.8" x2="1357.2" y2="2448.8" stroke="#222" stroke-width="2.5" opacity="0.6"/>
<text x="1368.7" y="2456.8" font-family="'DejaVu Sans', sans-serif" font-size="22" fill="#4a4a4a">1.4</text>
<line x1="1326.8" y1="2496.6" x2="1331.8" y2="2496.6" stroke="#222" stroke-width="2.5" opacity="0.6"/>
<line x1="1352.2" y1="2496.6" x2="1357.2" y2="2496.6" stroke="#222" stroke-width="2.5" opacity="0.6"/>
<text x="1368.7" y="2504.6" font-family="'DejaVu Sans', sans-serif" font-size="22" fill="#4a4a4a">1.2</text>
<line x1="1326.8" y1="2544.4" x2="1331.8" y2="2544.4" stroke="#222" stroke-width="2.5" opacity="0.6"/>
<line x1="1352.2" y1="2544.4" x2="1357.2" y2="2544.4" stroke="#222" stroke-width="2.5" opacity="0.6"/>
<text x="1368.7" y="2552.4" font-family="'DejaVu Sans', sans-serif" font-size="22" fill="#4a4a4a">1</text>
<line x1="1326.8" y1="2592.1" x2="1331.8" y2="2592.1" stroke="#222" stroke-width="2.5" opacity="0.6"/>
<line x1="1352.2" y1="2592.1" x2="1357.2" y2="2592.1" stroke="#222" stroke-width="2.5" opacity="0.6"/>
<text x="1368.7" y="2600.1" font-family="'DejaVu Sans', sans-serif" font-size="22" fill="#4a4a4a">0.8</text>
<line x1="1326.8" y1="2639.9" x2="1331.8" y2="2639.9" stroke="#222" stroke-width="2.5" opacity="0.6"/>
<line x1="1352.2" y1="2639.9" x2="1357.2" y2="2639.9" stroke="#222" stroke-width="2.5" opacity="0.6"/>
<text x="1368.7" y="2647.9" font-family="'DejaVu Sans', sans-serif" font-size="22" fill="#4a4a4a">0.6</text>
<line x1="1326.8" y1="2687.7" x2="1331.8" y2="2687.7" stroke="#222" stroke-width="2.5" opacity="0.6"/>
<line x1="1352.2" y1="2687.7" x2="1357.2" y2="2687.7" stroke="#222" stroke-width="2.5" opacity="0.6"/>
<text x="1368.7" y="2695.7" font-family="'DejaVu Sans', sans-serif" font-size="22" fill="#4a4a4a">0.4</text>
<line x1="1326.8" y1="2735.5" x2="1331.8" y2="2735.5" stroke="#222" stroke-width="2.5" opacity="0.6"/>
<line x1="1352.2" y1="2735.5" x2="1357.2" y2="2735.5" stroke="#222" stroke-width="2.5" opacity="0.6"/>
<text x="1368.7" y="2743.5" font-family="'DejaVu Sans', sans-serif" font-size="22" fill="#4a4a4a">0.2</text>
<g clip-path="url(#mc33)">
<rect x="1450.8" y="2242.5" width="529.9" height="509.1" fill="url(#lg34)"/>
<ellipse cx="1715" cy="2260" rx="170" ry="28" fill="url(#rg35)"/>
<ellipse cx="1715" cy="2733" rx="170" ry="28" fill="url(#rg36)"/>
<ellipse cx="1975" cy="2740" rx="80" ry="70" fill="url(#rg37)"/>
<ellipse cx="1455" cy="2745" rx="60" ry="60" fill="url(#rg38)"/>
<ellipse cx="1598" cy="2290" rx="28" ry="35" fill="url(#rg39)"/>
<ellipse cx="1832" cy="2290" rx="28" ry="35" fill="url(#rg40)"/>
<ellipse cx="1598" cy="2705" rx="28" ry="35" fill="url(#rg41)"/>
<ellipse cx="1832" cy="2705" rx="28" ry="35" fill="url(#rg42)"/>
<rect x="1603.3" y="2232.5" width="46.3" height="49.9" fill="url(#lg43)" filter="url(#mblur5)" rx="23.1"/>
<rect x="1603.3" y="2711.2" width="46.3" height="50.4" fill="url(#lg44)" filter="url(#mblur5)" rx="23.1"/>
<rect x="1693.7" y="2232.5" width="45.2" height="49.9" fill="url(#lg45)" filter="url(#mblur5)" rx="22.6"/>
<rect x="1693.7" y="2711.2" width="45.2" height="50.4" fill="url(#lg46)" filter="url(#mblur5)" rx="22.6"/>
<rect x="1781.4" y="2232.5" width="45.1" height="49.9" fill="url(#lg47)" filter="url(#mblur5)" rx="22.5"/>
<rect x="1781.4" y="2711.2" width="45.1" height="50.4" fill="url(#lg48)" filter="url(#mblur5)" rx="22.5"/>
<ellipse cx="1671.7" cy="2282.4" rx="19.8" ry="11" fill="#fad714" filter="url(#mblur3)"/>
<ellipse cx="1671.7" cy="2711.2" rx="19.8" ry="11" fill="#fad714" filter="url(#mblur3)"/>
<ellipse cx="1760.2" cy="2282.4" rx="19.1" ry="11" fill="#fad714" filter="url(#mblur3)"/>
<ellipse cx="1760.2" cy="2711.2" rx="19.1" ry="11" fill="#fad714" filter="url(#mblur3)"/>
<ellipse cx="1626.4" cy="2282.4" rx="18.5" ry="16" fill="#0041af" filter="url(#mblur3)"/>
<ellipse cx="1626.4" cy="2711.2" rx="18.5" ry="16" fill="#0041af" filter="url(#mblur3)"/>
<ellipse cx="1716.3" cy="2282.4" rx="18.1" ry="16" fill="#0041af" filter="url(#mblur3)"/>
<ellipse cx="1716.3" cy="2711.2" rx="18.1" ry="16" fill="#0041af" filter="url(#mblur3)"/>
<ellipse cx="1804" cy="2282.4" rx="18" ry="16" fill="#0041af" filter="url(#mblur3)"/>
<ellipse cx="1804" cy="2711.2" rx="18" ry="16" fill="#0041af" filter="url(#mblur3)"/>
<rect x="1649.6" y="2282.4" width="44.1" height="428.8" fill="url(#lg49)"/>
<rect x="1738.9" y="2282.4" width="42.5" height="428.8" fill="url(#lg50)"/>
<rect x="1603.3" y="2282.4" width="46.3" height="428.8" fill="#0a41af"/>
<rect x="1609.8" y="2282.4" width="33.3" height="428.8" fill="#233770"/>
<rect x="1693.7" y="2282.4" width="45.2" height="428.8" fill="#0a41af"/>
<rect x="1700" y="2282.4" width="32.5" height="428.8" fill="#233770"/>
<rect x="1781.4" y="2282.4" width="45.1" height="428.8" fill="#0a41af"/>
<rect x="1787.7" y="2282.4" width="32.5" height="428.8" fill="#233770"/>
<circle cx="1603.3" cy="2282.4" r="5" fill="#f03020" opacity="0.85" filter="url(#mblur1)"/>
<circle cx="1603.3" cy="2711.2" r="5" fill="#f03020" opacity="0.85" filter="url(#mblur1)"/>
<circle cx="1826.5" cy="2282.4" r="5" fill="#f03020" opacity="0.85" filter="url(#mblur1)"/>
<circle cx="1826.5" cy="2711.2" r="5" fill="#f03020" opacity="0.85" filter="url(#mblur1)"/>
</g>
<rect x="1450.8" y="2242.5" width="529.9" height="509.1" fill="none" stroke="#40b070" stroke-width="1.5" opacity="0.6"/>
<text x="1456" y="2735.7" font-family="'Liberation Serif', 'Times New Roman', serif" font-size="50" fill="#0c2a18">700nm</text>
<rect x="2007.2" y="2242.5" width="29.3" height="504.9" fill="url(#lg51)"/>
<rect x="2007.2" y="2242.5" width="29.3" height="504.9" fill="none" stroke="#666" stroke-width="1" opacity="0.5"/>
<line x1="2007.2" y1="2294.6" x2="2012.2" y2="2294.6" stroke="#222" stroke-width="2.5" opacity="0.6"/>
<line x1="2031.5" y1="2294.6" x2="2036.5" y2="2294.6" stroke="#222" stroke-width="2.5" opacity="0.6"/>
<text x="2049.7" y="2302.6" font-family="'DejaVu Sans', sans-serif" font-size="22" fill="#4a4a4a">1.8</text>
<line x1="2007.2" y1="2349.8" x2="2012.2" y2="2349.8" stroke="#222" stroke-width="2.5" opacity="0.6"/>
<line x1="2031.5" y1="2349.8" x2="2036.5" y2="2349.8" stroke="#222" stroke-width="2.5" opacity="0.6"/>
<text x="2049.7" y="2357.8" font-family="'DejaVu Sans', sans-serif" font-size="22" fill="#4a4a4a">1.6</text>
<line x1="2007.2" y1="2404.9" x2="2012.2" y2="2404.9" stroke="#222" stroke-width="2.5" opacity="0.6"/>
<line x1="2031.5" y1="2404.9" x2="2036.5" y2="2404.9" stroke="#222" stroke-width="2.5" opacity="0.6"/>
<text x="2049.7" y="2412.9" font-family="'DejaVu Sans', sans-serif" font-size="22" fill="#4a4a4a">1.4</text>
<line x1="2007.2" y1="2460.1" x2="2012.2" y2="2460.1" stroke="#222" stroke-width="2.5" opacity="0.6"/>
<line x1="2031.5" y1="2460.1" x2="2036.5" y2="2460.1" stroke="#222" stroke-width="2.5" opacity="0.6"/>
<text x="2049.7" y="2468.1" font-family="'DejaVu Sans', sans-serif" font-size="22" fill="#4a4a4a">1.2</text>
<line x1="2007.2" y1="2515.2" x2="2012.2" y2="2515.2" stroke="#222" stroke-width="2.5" opacity="0.6"/>
<line x1="2031.5" y1="2515.2" x2="2036.5" y2="2515.2" stroke="#222" stroke-width="2.5" opacity="0.6"/>
<text x="2049.7" y="2523.2" font-family="'DejaVu Sans', sans-serif" font-size="22" fill="#4a4a4a">1</text>
<line x1="2007.2" y1="2570.4" x2="2012.2" y2="2570.4" stroke="#222" stroke-width="2.5" opacity="0.6"/>
<line x1="2031.5" y1="2570.4" x2="2036.5" y2="2570.4" stroke="#222" stroke-width="2.5" opacity="0.6"/>
<text x="2049.7" y="2578.4" font-family="'DejaVu Sans', sans-serif" font-size="22" fill="#4a4a4a">0.8</text>
<line x1="2007.2" y1="2625.5" x2="2012.2" y2="2625.5" stroke="#222" stroke-width="2.5" opacity="0.6"/>
<line x1="2031.5" y1="2625.5" x2="2036.5" y2="2625.5" stroke="#222" stroke-width="2.5" opacity="0.6"/>
<text x="2049.7" y="2633.5" font-family="'DejaVu Sans', sans-serif" font-size="22" fill="#4a4a4a">0.6</text>
<line x1="2007.2" y1="2680.7" x2="2012.2" y2="2680.7" stroke="#222" stroke-width="2.5" opacity="0.6"/>
<line x1="2031.5" y1="2680.7" x2="2036.5" y2="2680.7" stroke="#222" stroke-width="2.5" opacity="0.6"/>
<text x="2049.7" y="2688.7" font-family="'DejaVu Sans', sans-serif" font-size="22" fill="#4a4a4a">0.4</text>
<line x1="2007.2" y1="2735.8" x2="2012.2" y2="2735.8" stroke="#222" stroke-width="2.5" opacity="0.6"/>
<line x1="2031.5" y1="2735.8" x2="2036.5" y2="2735.8" stroke="#222" stroke-width="2.5" opacity="0.6"/>
<text x="2049.7" y="2743.8" font-family="'DejaVu Sans', sans-serif" font-size="22" fill="#4a4a4a">0.2</text>
<text x="25.5" y="2839.5" font-family="'DejaVu Sans', sans-serif" font-size="63.5" font-weight="200" fill="#2d2626">g</text>
<g clip-path="url(#mc52)">
<rect x="118.3" y="2802.8" width="524.5" height="539.2" fill="url(#lg53)"/>
<ellipse cx="387" cy="2822" rx="170" ry="28" fill="url(#rg54)"/>
<ellipse cx="387" cy="3322" rx="170" ry="28" fill="url(#rg55)"/>
<ellipse cx="270" cy="2850" rx="25" ry="40" fill="url(#rg56)"/>
<ellipse cx="505" cy="2850" rx="25" ry="40" fill="url(#rg57)"/>
<ellipse cx="270" cy="3295" rx="25" ry="40" fill="url(#rg58)"/>
<ellipse cx="505" cy="3295" rx="25" ry="40" fill="url(#rg59)"/>
<rect x="277" y="2792.8" width="40.8" height="54.2" fill="url(#lg60)" filter="url(#mblur5)" rx="20.4"/>
<rect x="277" y="3297.6" width="40.8" height="54.4" fill="url(#lg61)" filter="url(#mblur5)" rx="20.4"/>
<rect x="368" y="2792.8" width="39.4" height="54.2" fill="url(#lg62)" filter="url(#mblur5)" rx="19.7"/>
<rect x="368" y="3297.6" width="39.4" height="54.4" fill="url(#lg63)" filter="url(#mblur5)" rx="19.7"/>
<rect x="457.3" y="2792.8" width="41" height="54.2" fill="url(#lg64)" filter="url(#mblur5)" rx="20.5"/>
<rect x="457.3" y="3297.6" width="41" height="54.4" fill="url(#lg65)" filter="url(#mblur5)" rx="20.5"/>
<ellipse cx="342.9" cy="2847" rx="20.6" ry="13" fill="#f5dc14" filter="url(#mblur3)"/>
<ellipse cx="342.9" cy="3297.6" rx="20.6" ry="13" fill="#f5dc14" filter="url(#mblur3)"/>
<ellipse cx="432.3" cy="2847" rx="20.4" ry="13" fill="#f5dc14" filter="url(#mblur3)"/>
<ellipse cx="432.3" cy="3297.6" rx="20.4" ry="13" fill="#f5dc14" filter="url(#mblur3)"/>
<ellipse cx="297.4" cy="2847" rx="18.1" ry="13" fill="#0064cd" filter="url(#mblur3)"/>
<ellipse cx="297.4" cy="3297.6" rx="18.1" ry="13" fill="#0064cd" filter="url(#mblur3)"/>
<ellipse cx="387.7" cy="2847" rx="17.5" ry="13" fill="#0064cd" filter="url(#mblur3)"/>
<ellipse cx="387.7" cy="3297.6" rx="17.5" ry="13" fill="#0064cd" filter="url(#mblur3)"/>
<ellipse cx="477.8" cy="2847" rx="18.2" ry="13" fill="#0064cd" filter="url(#mblur3)"/>
<ellipse cx="477.8" cy="3297.6" rx="18.2" ry="13" fill="#0064cd" filter="url(#mblur3)"/>
<rect x="320" y="2847" width="45.8" height="450.6" fill="url(#lg66)"/>
<rect x="409.6" y="2847" width="45.4" height="450.6" fill="url(#lg67)"/>
<rect x="274.7" y="2847" width="45.3" height="450.6" fill="#0064c8"/>
<rect x="282.4" y="2847" width="29.9" height="450.6" fill="#213782"/>
<rect x="365.8" y="2847" width="43.8" height="450.6" fill="#0064c8"/>
<rect x="373.2" y="2847" width="28.9" height="450.6" fill="#213782"/>
<rect x="455" y="2847" width="45.6" height="450.6" fill="#0064c8"/>
<rect x="462.8" y="2847" width="30.1" height="450.6" fill="#213782"/>
</g>
<rect x="118.3" y="2802.8" width="524.5" height="539.2" fill="none" stroke="#30b0a0" stroke-width="1.5" opacity="0.6"/>
<text x="122.3" y="3325" font-family="'Liberation Serif', 'Times New Roman', serif" font-size="50" fill="#111">300nm</text>
<rect x="659.8" y="2801.6" width="29.6" height="550.1" fill="url(#lg68)"/>
<rect x="659.8" y="2801.6" width="29.6" height="550.1" fill="none" stroke="#666" stroke-width="1" opacity="0.5"/>
<line x1="659.8" y1="2813.1" x2="664.8" y2="2813.1" stroke="#222" stroke-width="2.5" opacity="0.6"/>
<line x1="684.4" y1="2813.1" x2="689.4" y2="2813.1" stroke="#222" stroke-width="2.5" opacity="0.6"/>
<text x="702.5" y="2821.1" font-family="'DejaVu Sans', sans-serif" font-size="22" fill="#4a4a4a">2.2</text>
<line x1="659.8" y1="2865.4" x2="664.8" y2="2865.4" stroke="#222" stroke-width="2.5" opacity="0.6"/>
<line x1="684.4" y1="2865.4" x2="689.4" y2="2865.4" stroke="#222" stroke-width="2.5" opacity="0.6"/>
<text x="702.5" y="2873.4" font-family="'DejaVu Sans', sans-serif" font-size="22" fill="#4a4a4a">2</text>
<line x1="659.8" y1="2917.7" x2="664.8" y2="2917.7" stroke="#222" stroke-width="2.5" opacity="0.6"/>
<line x1="684.4" y1="2917.7" x2="689.4" y2="2917.7" stroke="#222" stroke-width="2.5" opacity="0.6"/>
<text x="702.5" y="2925.7" font-family="'DejaVu Sans', sans-serif" font-size="22" fill="#4a4a4a">1.8</text>
<line x1="659.8" y1="2970.1" x2="664.8" y2="2970.1" stroke="#222" stroke-width="2.5" opacity="0.6"/>
<line x1="684.4" y1="2970.1" x2="689.4" y2="2970.1" stroke="#222" stroke-width="2.5" opacity="0.6"/>
<text x="702.5" y="2978.1" font-family="'DejaVu Sans', sans-serif" font-size="22" fill="#4a4a4a">1.6</text>
<line x1="659.8" y1="3022.4" x2="664.8" y2="3022.4" stroke="#222" stroke-width="2.5" opacity="0.6"/>
<line x1="684.4" y1="3022.4" x2="689.4" y2="3022.4" stroke="#222" stroke-width="2.5" opacity="0.6"/>
<text x="702.5" y="3030.4" font-family="'DejaVu Sans', sans-serif" font-size="22" fill="#4a4a4a">1.4</text>
<line x1="659.8" y1="3074.7" x2="664.8" y2="3074.7" stroke="#222" stroke-width="2.5" opacity="0.6"/>
<line x1="684.4" y1="3074.7" x2="689.4" y2="3074.7" stroke="#222" stroke-width="2.5" opacity="0.6"/>
<text x="702.5" y="3082.7" font-family="'DejaVu Sans', sans-serif" font-size="22" fill="#4a4a4a">1.2</text>
<line x1="659.8" y1="3127" x2="664.8" y2="3127" stroke="#222" stroke-width="2.5" opacity="0.6"/>
<line x1="684.4" y1="3127" x2="689.4" y2="3127" stroke="#222" stroke-width="2.5" opacity="0.6"/>
<text x="702.5" y="3135" font-family="'DejaVu Sans', sans-serif" font-size="22" fill="#4a4a4a">1</text>
<line x1="659.8" y1="3179.3" x2="664.8" y2="3179.3" stroke="#222" stroke-width="2.5" opacity="0.6"/>
<line x1="684.4" y1="3179.3" x2="689.4" y2="3179.3" stroke="#222" stroke-width="2.5" opacity="0.6"/>
<text x="702.5" y="3187.3" font-family="'DejaVu Sans', sans-serif" font-size="22" fill="#4a4a4a">0.8</text>
<line x1="659.8" y1="3231.6" x2="664.8" y2="3231.6" stroke="#222" stroke-width="2.5" opacity="0.6"/>
<line x1="684.4" y1="3231.6" x2="689.4" y2="3231.6" stroke="#222" stroke-width="2.5" opacity="0.6"/>
<text x="702.5" y="3239.6" font-family="'DejaVu Sans', sans-serif" font-size="22" fill="#4a4a4a">0.6</text>
<line x1="659.8" y1="3284" x2="664.8" y2="3284" stroke="#222" stroke-width="2.5" opacity="0.6"/>
<line x1="684.4" y1="3284" x2="689.4" y2="3284" stroke="#222" stroke-width="2.5" opacity="0.6"/>
<text x="702.5" y="3292" font-family="'DejaVu Sans', sans-serif" font-size="22" fill="#4a4a4a">0.4</text>
<line x1="659.8" y1="3336.3" x2="664.8" y2="3336.3" stroke="#222" stroke-width="2.5" opacity="0.6"/>
<line x1="684.4" y1="3336.3" x2="689.4" y2="3336.3" stroke="#222" stroke-width="2.5" opacity="0.6"/>
<text x="702.5" y="3344.3" font-family="'DejaVu Sans', sans-serif" font-size="22" fill="#4a4a4a">0.2</text>
<g clip-path="url(#mc69)">
<rect x="783" y="2807.2" width="509.8" height="528.2" fill="url(#lg70)"/>
<ellipse cx="790" cy="3330" rx="110" ry="150" fill="url(#rg71)"/>
<ellipse cx="1290" cy="3330" rx="110" ry="150" fill="url(#rg72)"/>
<ellipse cx="925" cy="3070" rx="25" ry="230" fill="url(#rg73)"/>
<ellipse cx="1150" cy="3070" rx="25" ry="230" fill="url(#rg74)"/>
<path d="M931.2 2849.7 L1144.5 2849.7 L1179.5 2797.2 L896.2 2797.2 Z" fill="url(#lg75)" filter="url(#mblur5)"/>
<path d="M931.2 3292.4 L1144.5 3292.4 L1179.5 3345.4 L896.2 3345.4 Z" fill="url(#lg76)" filter="url(#mblur5)"/>
<rect x="935.6" y="2797.2" width="34.8" height="52.5" fill="url(#lg77)" filter="url(#mblur5)" rx="17.4"/>
<rect x="935.6" y="3292.4" width="34.8" height="53" fill="url(#lg78)" filter="url(#mblur5)" rx="17.4"/>
<rect x="1020.9" y="2797.2" width="34.4" height="52.5" fill="url(#lg79)" filter="url(#mblur5)" rx="17.2"/>
<rect x="1020.9" y="3292.4" width="34.4" height="53" fill="url(#lg80)" filter="url(#mblur5)" rx="17.2"/>
<rect x="1105.8" y="2797.2" width="34.4" height="52.5" fill="url(#lg81)" filter="url(#mblur5)" rx="17.2"/>
<rect x="1105.8" y="3292.4" width="34.4" height="53" fill="url(#lg82)" filter="url(#mblur5)" rx="17.2"/>
<ellipse cx="995.7" cy="2849.7" rx="18.9" ry="13" fill="#ffaf0a" filter="url(#mblur3)"/>
<ellipse cx="995.7" cy="3292.4" rx="18.9" ry="13" fill="#ffaf0a" filter="url(#mblur3)"/>
<ellipse cx="1080.5" cy="2849.7" rx="18.9" ry="13" fill="#ffaf0a" filter="url(#mblur3)"/>
<ellipse cx="1080.5" cy="3292.4" rx="18.9" ry="13" fill="#ffaf0a" filter="url(#mblur3)"/>
<ellipse cx="953" cy="2849.7" rx="18.3" ry="13" fill="#00c3e8" filter="url(#mblur3)"/>
<ellipse cx="953" cy="3292.4" rx="18.3" ry="13" fill="#00c3e8" filter="url(#mblur3)"/>
<ellipse cx="1038.1" cy="2849.7" rx="18.1" ry="13" fill="#00c3e8" filter="url(#mblur3)"/>
<ellipse cx="1038.1" cy="3292.4" rx="18.1" ry="13" fill="#00c3e8" filter="url(#mblur3)"/>
<ellipse cx="1123" cy="2849.7" rx="18.1" ry="13" fill="#00c3e8" filter="url(#mblur3)"/>
<ellipse cx="1123" cy="3292.4" rx="18.1" ry="13" fill="#00c3e8" filter="url(#mblur3)"/>
<rect x="974.7" y="2849.7" width="41.9" height="442.7" fill="url(#lg83)"/>
<rect x="1059.6" y="2849.7" width="41.9" height="442.7" fill="url(#lg84)"/>
<rect x="931.2" y="2849.7" width="43.5" height="442.7" fill="#00bee6"/>
<rect x="939.9" y="2849.7" width="26.1" height="442.7" fill="#006ecd"/>
<rect x="942.5" y="2849.7" width="20.9" height="442.7" fill="#213478"/>
<ellipse cx="953" cy="2851.7" rx="10.4" ry="6" fill="#213478"/>
<ellipse cx="953" cy="3290.4" rx="10.4" ry="6" fill="#213478"/>
<rect x="1016.6" y="2849.7" width="43" height="442.7" fill="#00bee6"/>
<rect x="1025.2" y="2849.7" width="25.8" height="442.7" fill="#006ecd"/>
<rect x="1027.8" y="2849.7" width="20.6" height="442.7" fill="#213478"/>
<ellipse cx="1038.1" cy="2851.7" rx="10.3" ry="6" fill="#213478"/>
<ellipse cx="1038.1" cy="3290.4" rx="10.3" ry="6" fill="#213478"/>
<rect x="1101.5" y="2849.7" width="43" height="442.7" fill="#00bee6"/>
<rect x="1110.1" y="2849.7" width="25.8" height="442.7" fill="#006ecd"/>
<rect x="1112.7" y="2849.7" width="20.6" height="442.7" fill="#213478"/>
<ellipse cx="1123" cy="2851.7" rx="10.3" ry="6" fill="#213478"/>
<ellipse cx="1123" cy="3290.4" rx="10.3" ry="6" fill="#213478"/>
</g>
<rect x="783" y="2807.2" width="509.8" height="528.2" fill="none" stroke="#70b040" stroke-width="1.5" opacity="0.6"/>
<text x="792.4" y="3327.5" font-family="'Liberation Serif', 'Times New Roman', serif" font-size="50" fill="#111">500nm</text>
<rect x="1322.6" y="2808.8" width="29.4" height="515.1" fill="url(#lg85)"/>
<rect x="1322.6" y="2808.8" width="29.4" height="515.1" fill="none" stroke="#666" stroke-width="1" opacity="0.5"/>
<line x1="1322.6" y1="2811.6" x2="1327.6" y2="2811.6" stroke="#222" stroke-width="2.5" opacity="0.6"/>
<line x1="1347" y1="2811.6" x2="1352" y2="2811.6" stroke="#222" stroke-width="2.5" opacity="0.6"/>
<text x="1363.5" y="2819.6" font-family="'DejaVu Sans', sans-serif" font-size="22" fill="#4a4a4a">1.6</text>
<line x1="1322.6" y1="2881.6" x2="1327.6" y2="2881.6" stroke="#222" stroke-width="2.5" opacity="0.6"/>
<line x1="1347" y1="2881.6" x2="1352" y2="2881.6" stroke="#222" stroke-width="2.5" opacity="0.6"/>
<text x="1363.5" y="2889.6" font-family="'DejaVu Sans', sans-serif" font-size="22" fill="#4a4a4a">1.4</text>
<line x1="1322.6" y1="2951.6" x2="1327.6" y2="2951.6" stroke="#222" stroke-width="2.5" opacity="0.6"/>
<line x1="1347" y1="2951.6" x2="1352" y2="2951.6" stroke="#222" stroke-width="2.5" opacity="0.6"/>
<text x="1363.5" y="2959.6" font-family="'DejaVu Sans', sans-serif" font-size="22" fill="#4a4a4a">1.2</text>
<line x1="1322.6" y1="3021.6" x2="1327.6" y2="3021.6" stroke="#222" stroke-width="2.5" opacity="0.6"/>
<line x1="1347" y1="3021.6" x2="1352" y2="3021.6" stroke="#222" stroke-width="2.5" opacity="0.6"/>
<text x="1363.5" y="3029.6" font-family="'DejaVu Sans', sans-serif" font-size="22" fill="#4a4a4a">1</text>
<line x1="1322.6" y1="3091.5" x2="1327.6" y2="3091.5" stroke="#222" stroke-width="2.5" opacity="0.6"/>
<line x1="1347" y1="3091.5" x2="1352" y2="3091.5" stroke="#222" stroke-width="2.5" opacity="0.6"/>
<text x="1363.5" y="3099.5" font-family="'DejaVu Sans', sans-serif" font-size="22" fill="#4a4a4a">0.8</text>
<line x1="1322.6" y1="3161.5" x2="1327.6" y2="3161.5" stroke="#222" stroke-width="2.5" opacity="0.6"/>
<line x1="1347" y1="3161.5" x2="1352" y2="3161.5" stroke="#222" stroke-width="2.5" opacity="0.6"/>
<text x="1363.5" y="3169.5" font-family="'DejaVu Sans', sans-serif" font-size="22" fill="#4a4a4a">0.6</text>
<line x1="1322.6" y1="3231.5" x2="1327.6" y2="3231.5" stroke="#222" stroke-width="2.5" opacity="0.6"/>
<line x1="1347" y1="3231.5" x2="1352" y2="3231.5" stroke="#222" stroke-width="2.5" opacity="0.6"/>
<text x="1363.5" y="3239.5" font-family="'DejaVu Sans', sans-serif" font-size="22" fill="#4a4a4a">0.4</text>
<line x1="1322.6" y1="3301.5" x2="1327.6" y2="3301.5" stroke="#222" stroke-width="2.5" opacity="0.6"/>
<line x1="1347" y1="3301.5" x2="1352" y2="3301.5" stroke="#222" stroke-width="2.5" opacity="0.6"/>
<text x="1363.5" y="3309.5" font-family="'DejaVu Sans', sans-serif" font-size="22" fill="#4a4a4a">0.2</text>
<g clip-path="url(#mc86)">
<rect x="1457.2" y="2813" width="525.1" height="525" fill="url(#lg87)"/>
<ellipse cx="1465" cy="3330" rx="90" ry="110" fill="url(#rg88)"/>
<ellipse cx="1975" cy="3330" rx="90" ry="110" fill="url(#rg89)"/>
<ellipse cx="1465" cy="2818" rx="60" ry="60" fill="url(#rg90)"/>
<ellipse cx="1975" cy="2818" rx="60" ry="60" fill="url(#rg91)"/>
<ellipse cx="1605" cy="3075" rx="25" ry="230" fill="url(#rg92)"/>
<ellipse cx="1835" cy="3075" rx="25" ry="230" fill="url(#rg93)"/>
<path d="M1611.3 2854.4 L1829.2 2854.4 L1864.2 2803 L1576.3 2803 Z" fill="url(#lg94)" filter="url(#mblur5)"/>
<path d="M1611.3 3295.5 L1829.2 3295.5 L1864.2 3348 L1576.3 3348 Z" fill="url(#lg95)" filter="url(#mblur5)"/>
<rect x="1615.5" y="2803" width="34" height="51.4" fill="url(#lg96)" filter="url(#mblur5)" rx="17"/>
<rect x="1615.5" y="3295.5" width="34" height="52.5" fill="url(#lg97)" filter="url(#mblur5)" rx="17"/>
<rect x="1701.8" y="2803" width="35.3" height="51.4" fill="url(#lg98)" filter="url(#mblur5)" rx="17.6"/>
<rect x="1701.8" y="3295.5" width="35.3" height="52.5" fill="url(#lg99)" filter="url(#mblur5)" rx="17.6"/>
<rect x="1790" y="2803" width="34.9" height="51.4" fill="url(#lg100)" filter="url(#mblur5)" rx="17.4"/>
<rect x="1790" y="3295.5" width="34.9" height="52.5" fill="url(#lg101)" filter="url(#mblur5)" rx="17.4"/>
<ellipse cx="1675.6" cy="2854.4" rx="19.6" ry="13" fill="#ffaf0a" filter="url(#mblur3)"/>
<ellipse cx="1675.6" cy="3295.5" rx="19.6" ry="13" fill="#ffaf0a" filter="url(#mblur3)"/>
<ellipse cx="1763.5" cy="2854.4" rx="19.8" ry="13" fill="#ffaf0a" filter="url(#mblur3)"/>
<ellipse cx="1763.5" cy="3295.5" rx="19.8" ry="13" fill="#ffaf0a" filter="url(#mblur3)"/>
<ellipse cx="1632.5" cy="2854.4" rx="17.8" ry="13" fill="#00c3e8" filter="url(#mblur3)"/>
<ellipse cx="1632.5" cy="3295.5" rx="17.8" ry="13" fill="#00c3e8" filter="url(#mblur3)"/>
<ellipse cx="1719.5" cy="2854.4" rx="18.5" ry="13" fill="#00c3e8" filter="url(#mblur3)"/>
<ellipse cx="1719.5" cy="3295.5" rx="18.5" ry="13" fill="#00c3e8" filter="url(#mblur3)"/>
<ellipse cx="1807.4" cy="2854.4" rx="18.3" ry="13" fill="#00c3e8" filter="url(#mblur3)"/>
<ellipse cx="1807.4" cy="3295.5" rx="18.3" ry="13" fill="#00c3e8" filter="url(#mblur3)"/>
<rect x="1653.8" y="2854.4" width="43.6" height="441.1" fill="url(#lg102)"/>
<rect x="1741.5" y="2854.4" width="44.1" height="441.1" fill="url(#lg103)"/>
<rect x="1611.3" y="2854.4" width="42.5" height="441.1" fill="#00bee6"/>
<rect x="1619.8" y="2854.4" width="25.5" height="441.1" fill="#006ecd"/>
<rect x="1622.3" y="2854.4" width="20.4" height="441.1" fill="#213478"/>
<ellipse cx="1632.5" cy="2856.4" rx="10.2" ry="6" fill="#213478"/>
<ellipse cx="1632.5" cy="3293.5" rx="10.2" ry="6" fill="#213478"/>
<rect x="1697.4" y="2854.4" width="44.1" height="441.1" fill="#00bee6"/>
<rect x="1706.2" y="2854.4" width="26.5" height="441.1" fill="#006ecd"/>
<rect x="1708.9" y="2854.4" width="21.2" height="441.1" fill="#213478"/>
<ellipse cx="1719.5" cy="2856.4" rx="10.6" ry="6" fill="#213478"/>
<ellipse cx="1719.5" cy="3293.5" rx="10.6" ry="6" fill="#213478"/>
<rect x="1785.6" y="2854.4" width="43.6" height="441.1" fill="#00bee6"/>
<rect x="1794.3" y="2854.4" width="26.2" height="441.1" fill="#006ecd"/>
<rect x="1796.9" y="2854.4" width="20.9" height="441.1" fill="#213478"/>
<ellipse cx="1807.4" cy="2856.4" rx="10.5" ry="6" fill="#213478"/>
<ellipse cx="1807.4" cy="3293.5" rx="10.5" ry="6" fill="#213478"/>
</g>
<rect x="1457.2" y="2813" width="525.1" height="525" fill="none" stroke="#90b030" stroke-width="1.5" opacity="0.6"/>
<text x="1465.2" y="3324.7" font-family="'Liberation Serif', 'Times New Roman', serif" font-size="50" fill="#111">700nm</text>
<rect x="2016.3" y="2810.8" width="29.7" height="528.2" fill="url(#lg104)"/>
<rect x="2016.3" y="2810.8" width="29.7" height="528.2" fill="none" stroke="#666" stroke-width="1" opacity="0.5"/>
<line x1="2016.3" y1="2860.7" x2="2021.3" y2="2860.7" stroke="#222" stroke-width="2.5" opacity="0.6"/>
<line x1="2041" y1="2860.7" x2="2046" y2="2860.7" stroke="#222" stroke-width="2.5" opacity="0.6"/>
<text x="2057.7" y="2868.7" font-family="'DejaVu Sans', sans-serif" font-size="22" fill="#4a4a4a">1.4</text>
<line x1="2016.3" y1="2937.4" x2="2021.3" y2="2937.4" stroke="#222" stroke-width="2.5" opacity="0.6"/>
<line x1="2041" y1="2937.4" x2="2046" y2="2937.4" stroke="#222" stroke-width="2.5" opacity="0.6"/>
<text x="2057.7" y="2945.4" font-family="'DejaVu Sans', sans-serif" font-size="22" fill="#4a4a4a">1.2</text>
<line x1="2016.3" y1="3014.1" x2="2021.3" y2="3014.1" stroke="#222" stroke-width="2.5" opacity="0.6"/>
<line x1="2041" y1="3014.1" x2="2046" y2="3014.1" stroke="#222" stroke-width="2.5" opacity="0.6"/>
<text x="2057.7" y="3022.1" font-family="'DejaVu Sans', sans-serif" font-size="22" fill="#4a4a4a">1</text>
<line x1="2016.3" y1="3090.8" x2="2021.3" y2="3090.8" stroke="#222" stroke-width="2.5" opacity="0.6"/>
<line x1="2041" y1="3090.8" x2="2046" y2="3090.8" stroke="#222" stroke-width="2.5" opacity="0.6"/>
<text x="2057.7" y="3098.8" font-family="'DejaVu Sans', sans-serif" font-size="22" fill="#4a4a4a">0.8</text>
<line x1="2016.3" y1="3167.5" x2="2021.3" y2="3167.5" stroke="#222" stroke-width="2.5" opacity="0.6"/>
<line x1="2041" y1="3167.5" x2="2046" y2="3167.5" stroke="#222" stroke-width="2.5" opacity="0.6"/>
<text x="2057.7" y="3175.5" font-family="'DejaVu Sans', sans-serif" font-size="22" fill="#4a4a4a">0.6</text>
<line x1="2016.3" y1="3244.3" x2="2021.3" y2="3244.3" stroke="#222" stroke-width="2.5" opacity="0.6"/>
<line x1="2041" y1="3244.3" x2="2046" y2="3244.3" stroke="#222" stroke-width="2.5" opacity="0.6"/>
<text x="2057.7" y="3252.3" font-family="'DejaVu Sans', sans-serif" font-size="22" fill="#4a4a4a">0.4</text>
<line x1="2016.3" y1="3321" x2="2021.3" y2="3321" stroke="#222" stroke-width="2.5" opacity="0.6"/>
<line x1="2041" y1="3321" x2="2046" y2="3321" stroke="#222" stroke-width="2.5" opacity="0.6"/>
<text x="2057.7" y="3329" font-family="'DejaVu Sans', sans-serif" font-size="22" fill="#4a4a4a">0.2</text>
<text x="34" y="3432" font-family="'DejaVu Sans', sans-serif" font-size="63.5" font-weight="200" fill="#2d2626">h</text>
<line x1="170" y1="3396.8" x2="170" y2="3984" stroke="#333" stroke-width="2.6"/>
<line x1="168" y1="3982.2" x2="891" y2="3982.2" stroke="#1e1e1e" stroke-width="4.6"/>
<line x1="169.8" y1="3982" x2="169.8" y2="3993" stroke="#1e1e1e" stroke-width="3"/>
<text x="169.8" y="4022.5" font-family="'Liberation Sans', Arial, sans-serif" font-size="24.5" font-weight="bold" text-anchor="middle" fill="#2a2a2a">0</text>
<line x1="225.2" y1="3982" x2="225.2" y2="3989" stroke="#1e1e1e" stroke-width="3"/>
<line x1="280.7" y1="3982" x2="280.7" y2="3993" stroke="#1e1e1e" stroke-width="3"/>
<text x="280.7" y="4022.5" font-family="'Liberation Sans', Arial, sans-serif" font-size="24.5" font-weight="bold" text-anchor="middle" fill="#2a2a2a">20</text>
<line x1="336.1" y1="3982" x2="336.1" y2="3989" stroke="#1e1e1e" stroke-width="3"/>
<line x1="391.6" y1="3982" x2="391.6" y2="3993" stroke="#1e1e1e" stroke-width="3"/>
<text x="391.6" y="4022.5" font-family="'Liberation Sans', Arial, sans-serif" font-size="24.5" font-weight="bold" text-anchor="middle" fill="#2a2a2a">40</text>
<line x1="447" y1="3982" x2="447" y2="3989" stroke="#1e1e1e" stroke-width="3"/>
<line x1="502.5" y1="3982" x2="502.5" y2="3993" stroke="#1e1e1e" stroke-width="3"/>
<text x="502.5" y="4022.5" font-family="'Liberation Sans', Arial, sans-serif" font-size="24.5" font-weight="bold" text-anchor="middle" fill="#2a2a2a">60</text>
<line x1="557.9" y1="3982" x2="557.9" y2="3989" stroke="#1e1e1e" stroke-width="3"/>
<line x1="613.4" y1="3982" x2="613.4" y2="3993" stroke="#1e1e1e" stroke-width="3"/>
<text x="613.4" y="4022.5" font-family="'Liberation Sans', Arial, sans-serif" font-size="24.5" font-weight="bold" text-anchor="middle" fill="#2a2a2a">80</text>
<line x1="668.8" y1="3982" x2="668.8" y2="3989" stroke="#1e1e1e" stroke-width="3"/>
<line x1="724.2" y1="3982" x2="724.2" y2="3993" stroke="#1e1e1e" stroke-width="3"/>
<text x="724.2" y="4022.5" font-family="'Liberation Sans', Arial, sans-serif" font-size="24.5" font-weight="bold" text-anchor="middle" fill="#2a2a2a">100</text>
<line x1="779.7" y1="3982" x2="779.7" y2="3989" stroke="#1e1e1e" stroke-width="3"/>
<line x1="835.1" y1="3982" x2="835.1" y2="3993" stroke="#1e1e1e" stroke-width="3"/>
<text x="835.1" y="4022.5" font-family="'Liberation Sans', Arial, sans-serif" font-size="24.5" font-weight="bold" text-anchor="middle" fill="#2a2a2a">120</text>
<line x1="890.6" y1="3982" x2="890.6" y2="3989" stroke="#1e1e1e" stroke-width="3"/>
<text x="529" y="4065" font-family="'Liberation Sans', Arial, sans-serif" font-size="31.5" font-weight="bold" text-anchor="middle" fill="#2a2a2a">Time (s)</text>
<text x="136" y="3691.6" font-family="'Liberation Sans', Arial, sans-serif" font-size="31" font-weight="bold" text-anchor="middle" fill="#2a2a2a" transform="rotate(-90 136 3691.6)">Photocurrent</text>
<path d="M169.8 3637.7 L171.5 3638.4 L173.1 3638.7 L174.8 3639.5 L176.5 3638.3 L178.1 3639.4 L179.8 3634.4 L181.4 3636.8 L183.1 3639.5 L184.8 3637.8 L186.4 3639.2 L188.1 3634.8 L189.8 3636.8 L191.4 3635.6 L193.1 3637.2 L194.8 3637.4 L196.4 3634.3 L198.1 3635.4 L199.7 3635.8 L201.4 3639.3 L203.1 3638.5 L204.7 3635.1 L206.4 3638.7 L208.1 3635 L209.7 3637.7 L211.4 3634.9 L213 3634.2 L214.7 3639.1 L216.4 3635.4 L218 3635.4 L219.7 3639.7 L221.4 3639.1 L223 3635.8 L224.7 3639.6 L226.4 3637.2 L228 3638 L229.7 3635.3 L231.3 3639.5 L233 3638.1 L234.7 3639.6 L236.3 3639.2 L238 3635.9 L239.7 3636.2 L241.3 3635.1 L243 3635 L244.7 3634.6 L246.3 3635.9 L248 3637.6 L249.6 3634.2 L251.3 3638 L253 3636.1 L254.6 3635.9 L256.3 3638.8 L258 3636.9 L259.6 3636 L261.3 3636.9 L262.9 3638.1 L264.6 3634.5 L266.3 3639.7 L267.9 3634.3 L269.6 3638.4 L271.3 3638.9 L272.9 3634.3 L274.6 3638.6 L276.3 3636.3 L277.9 3637.4 L279.6 3634.3 L281 3426.8 L281.8 3433.1 L283.5 3446.4 L285.1 3458.7 L286.8 3463.1 L288.5 3470.4 L290.1 3475.1 L291.8 3478.2 L293.4 3478.3 L295.1 3480.1 L296.8 3482.1 L298.4 3484.1 L300.1 3482.6 L301.8 3485.6 L303.4 3486.3 L305.1 3487 L306.7 3484.5 L308.4 3488.2 L310.1 3485.4 L311.7 3486.6 L313.4 3487.9 L315.1 3489.3 L316.7 3487.5 L318.4 3489.9 L320.1 3488.8 L321.7 3488.2 L323.4 3488.4 L325 3488.2 L326.7 3488.1 L328.4 3488.6 L330 3490.8 L331.7 3492.1 L333.4 3489.3 L335 3489.2 L336.7 3492.8 L338.4 3491.4 L340 3491.2 L341.7 3490.8 L343.3 3492.3 L345 3493.4 L346.7 3492.3 L348.3 3492.4 L350 3491.4 L351.7 3494.7 L353.3 3491.8 L355 3493.7 L356.6 3495.1 L358.3 3492.8 L360 3495.2 L361.6 3496.3 L363.3 3495.3 L365 3496.2 L366.6 3493.9 L368.3 3495.4 L370 3494.6 L371.6 3497.3 L373.3 3495.6 L374.9 3496.4 L376.6 3498.6 L378.3 3498.3 L379.9 3499 L381.6 3497.4 L383.3 3497.7 L384.9 3498.8 L386.6 3498.2 L388.3 3497.7 L389.9 3498.4 L392.1 3639.5 L393.2 3638.5 L394.9 3639.6 L396.6 3642.3 L398.2 3642.2 L399.9 3640.8 L401.6 3640.3 L403.2 3639.6 L404.9 3638.6 L406.6 3639.5 L408.2 3641.8 L409.9 3642.2 L411.5 3640 L413.2 3641.9 L414.9 3641.9 L416.5 3641.6 L418.2 3641.5 L419.9 3642 L421.5 3640.3 L423.2 3641.9 L424.8 3640.1 L426.5 3641 L428.2 3642.3 L429.8 3642 L431.5 3640.3 L433.2 3643.2 L434.8 3642 L436.5 3641.7 L438.2 3639.3 L439.8 3641.7 L441.5 3640.4 L443.1 3642.3 L444.8 3641.5 L446.5 3643.1 L448.1 3642.4 L449.8 3643.1 L451.5 3641.2 L453.1 3642.5 L454.8 3643 L456.5 3643.4 L458.1 3641.4 L459.8 3643.6 L461.4 3643.8 L463.1 3643 L464.8 3644.3 L466.4 3644.3 L468.1 3642.4 L469.8 3642.5 L471.4 3641 L473.1 3644 L474.7 3644.5 L476.4 3642.5 L478.1 3643.5 L479.7 3643.7 L481.4 3643.8 L483.1 3641.4 L484.7 3644.1 L486.4 3643.3 L488.1 3643.7 L489.7 3642.7 L491.4 3643.6 L493 3644.3 L494.7 3643.8 L496.4 3644.2 L498 3641.2 L499.7 3641.8 L501.4 3643.1 L502.7 3480.3 L503.6 3484.4 L505.2 3488.2 L506.9 3493.7 L508.6 3496.2 L510.2 3496.1 L511.9 3499 L513.6 3499.2 L515.2 3499.5 L516.9 3500.4 L518.5 3501.6 L520.2 3501.6 L521.9 3502.1 L523.5 3501.9 L525.2 3503.8 L526.9 3503.8 L528.5 3505 L530.2 3505.2 L531.9 3504.3 L533.5 3507 L535.2 3504 L536.8 3505.8 L538.5 3505.6 L540.2 3506.4 L541.8 3505.7 L543.5 3508.5 L545.2 3507.2 L546.8 3506.3 L548.5 3508.7 L550.2 3507.1 L551.8 3509 L553.5 3508.6 L555.1 3509.7 L556.8 3511.4 L558.5 3511.2 L560.1 3510.1 L561.8 3511.8 L563.5 3511.5 L565.1 3510.8 L566.8 3510.3 L568.4 3512.2 L570.1 3512.4 L571.8 3514.1 L573.4 3514.4 L575.1 3513.4 L576.8 3512.8 L578.4 3515.1 L580.1 3512.2 L581.8 3512.8 L583.4 3514.8 L585.1 3515.3 L586.7 3513.9 L588.4 3515.9 L590.1 3517.2 L591.7 3515.6 L593.4 3516.1 L595.1 3515.7 L596.7 3516.2 L598.4 3519 L600.1 3517.1 L601.7 3519.5 L603.4 3519.6 L605 3518.8 L606.7 3517.9 L608.4 3520.8 L610 3519.3 L611.7 3519.3 L613.9 3646 L615 3646.2 L616.7 3649.2 L618.4 3647.1 L620 3646.2 L621.7 3647 L623.3 3645.5 L625 3647.7 L626.7 3647 L628.3 3646.4 L630 3648.5 L631.7 3648.8 L633.3 3645.2 L635 3647.5 L636.6 3646.4 L638.3 3649.4 L640 3648.7 L641.6 3646.4 L643.3 3646.5 L645 3646.1 L646.6 3649.8 L648.3 3646.7 L650 3648.1 L651.6 3647.6 L653.3 3648.4 L654.9 3648.2 L656.6 3648.9 L658.3 3646.1 L659.9 3649 L661.6 3647 L663.3 3648 L664.9 3647.2 L666.6 3647.1 L668.3 3648.1 L669.9 3647.9 L671.6 3647.4 L673.2 3649.2 L674.9 3648.5 L676.6 3646.1 L678.2 3647.1 L679.9 3648 L681.6 3650.1 L683.2 3650 L684.9 3648.5 L686.5 3646.2 L688.2 3649.6 L689.9 3648.1 L691.5 3648.7 L693.2 3649.4 L694.9 3649.1 L696.5 3648.4 L698.2 3650.3 L699.9 3648.1 L701.5 3648.1 L703.2 3650.2 L704.8 3647.3 L706.5 3647.8 L708.2 3650.2 L709.8 3646.8 L711.5 3650.2 L713.2 3649.7 L714.8 3648.5 L716.5 3647.9 L718.2 3650.1 L719.8 3650.7 L721.5 3647.4 L723.1 3648.9 L724.5 3496 L725.4 3499.9 L727 3505.3 L728.7 3508.7 L730.3 3510.8 L732 3514.4 L733.7 3516.6 L735.3 3515 L737 3516.3 L738.7 3519.1 L740.3 3519.4 L742 3519.4 L743.7 3517.4 L745.3 3520.2 L747 3521.4 L748.6 3521.7 L750.3 3520.9 L752 3518.8 L753.6 3521.9 L755.3 3519.9 L757 3521.6 L758.6 3522.9 L760.3 3522.3 L762 3520.4 L763.6 3521.2 L765.3 3523.6 L766.9 3521.1 L768.6 3523 L770.3 3522.5 L771.9 3521.8 L773.6 3523.6 L775.3 3521.8 L776.9 3522.2 L778.6 3523.4 L780.2 3522.5 L781.9 3522.7 L783.6 3524.7 L785.2 3525.5 L786.9 3526.2 L788.6 3523.8 L790.2 3525 L791.9 3524.8 L793.6 3526.1 L795.2 3525.9 L796.9 3527.7 L798.5 3525.9 L800.2 3525 L801.9 3527.5 L803.5 3525.7 L805.2 3527.7 L806.9 3527.4 L808.5 3529.1 L810.2 3528 L811.9 3528.5 L813.5 3527.4 L815.2 3528.6 L816.8 3527.8 L818.5 3529.8 L820.2 3529.1 L821.8 3528 L823.5 3528.5 L825.2 3529.2 L826.8 3530.8 L828.5 3529 L830.1 3531.1 L831.8 3531.1 L833.5 3529.3 L835.7 3650 L836.8 3651.7 L838.5 3649.2 L840.1 3649.3 L841.8 3651.4 L843.5 3649.8 L845.1 3652.7 L846.8 3650.9 L848.4 3650.2 L850.1 3652.3 L851.8 3648.9 L853.4 3652 L855.1 3649 L856.8 3649.5 L858.4 3653 L860.1 3651.8 L861.8 3649.8 L863.4 3649.3 L865.1 3653.1 L866.7 3651.7 L868.4 3652.4 L870.1 3649.4 L871.7 3651.5 L873.4 3650.4 L875.1 3649.8 L876.7 3650.3 L878.4 3651.5 L880.1 3650.3 L881.7 3650.5 L883.4 3649.4 L885 3652.5 L886.7 3651.7 L888.4 3652.3 L890 3650.7" fill="none" stroke="#1a1a1a" stroke-width="5.4" stroke-linejoin="round"/>
<path d="M169.8 3965.8 L171.5 3964.1 L173.1 3964.5 L174.8 3964.4 L176.5 3965.2 L178.1 3963.5 L179.8 3962 L181.4 3961.7 L183.1 3962.5 L184.8 3961.7 L186.4 3965.9 L188.1 3963.9 L189.8 3965.3 L191.4 3961.5 L193.1 3963.9 L194.8 3965.9 L196.4 3964.6 L198.1 3963.6 L199.7 3963.8 L201.4 3962 L203.1 3962.3 L204.7 3962.3 L206.4 3963.4 L208.1 3963.4 L209.7 3965.9 L211.4 3962.3 L213 3962.8 L214.7 3962.9 L216.4 3962.3 L218 3962.9 L219.7 3962.7 L221.4 3963.9 L223 3961.7 L224.7 3966.1 L226.4 3963.3 L228 3966.2 L229.7 3964.9 L231.3 3964.9 L233 3963.9 L234.7 3966.2 L236.3 3962.1 L238 3964.8 L239.7 3963 L241.3 3964.9 L243 3965.1 L244.7 3962.3 L246.3 3962.5 L248 3961.6 L249.6 3962.7 L251.3 3961.9 L253 3963.5 L254.6 3966.4 L256.3 3963.3 L258 3963.1 L259.6 3963.8 L261.3 3962.9 L262.9 3965.2 L264.6 3965.1 L266.3 3962.3 L267.9 3962.7 L269.6 3964.9 L271.3 3966.2 L272.9 3964.7 L274.6 3963.7 L276.3 3966.4 L277.9 3961.5 L279.6 3961.8 L281.8 3699 L282.4 3710.3 L284 3735.8 L285.7 3756.4 L287.3 3776.6 L289 3793.3 L290.7 3803.6 L292.3 3813.1 L294 3820.4 L295.7 3827.1 L297.3 3836.1 L299 3839.2 L300.7 3844.9 L302.3 3844.6 L304 3848.1 L305.6 3849.6 L307.3 3852.9 L309 3853.2 L310.6 3855.3 L312.3 3857.1 L314 3857.7 L315.6 3857.6 L317.3 3858.3 L318.9 3862.8 L320.6 3860.2 L322.3 3862.1 L323.9 3862.2 L325.6 3863.2 L327.3 3861.9 L328.9 3863.2 L330.6 3862.8 L332.3 3864.9 L333.9 3866.8 L335.6 3865.8 L337.2 3867.2 L338.9 3865 L340.6 3864.5 L342.2 3866.9 L343.9 3867.1 L345.6 3867.7 L347.2 3867.2 L348.9 3868.6 L350.6 3869.3 L352.2 3870.3 L353.9 3868.2 L355.5 3869.1 L357.2 3870.9 L358.9 3868.8 L360.5 3868.7 L362.2 3869.7 L363.9 3869.1 L365.5 3872.2 L367.2 3872.7 L368.8 3870.9 L370.5 3870.5 L372.2 3870.6 L373.8 3871.6 L375.5 3871.2 L377.2 3872.9 L378.8 3873.8 L380.5 3872.8 L382.2 3872.3 L383.8 3875.2 L385.5 3872.9 L387.1 3873.8 L388.8 3874.4 L390.5 3875.1 L391.6 3953 L393.2 3955 L394.9 3956.7 L396.6 3956.2 L398.2 3958.4 L399.9 3957.5 L401.6 3959.3 L403.2 3958.1 L404.9 3958.7 L406.6 3957.8 L408.2 3957.2 L409.9 3959.1 L411.5 3958.3 L413.2 3959.9 L414.9 3958.8 L416.5 3958.7 L418.2 3956.6 L419.9 3959.3 L421.5 3957.2 L423.2 3956 L424.8 3955.7 L426.5 3956.3 L428.2 3956.8 L429.8 3958.9 L431.5 3957 L433.2 3955.9 L434.8 3959.5 L436.5 3958.5 L438.2 3955.9 L439.8 3956.1 L441.5 3956.5 L443.1 3957.7 L444.8 3960.2 L446.5 3960.7 L448.1 3959.1 L449.8 3957.2 L451.5 3958.3 L453.1 3958 L454.8 3957.9 L456.5 3956.3 L458.1 3959.2 L459.8 3960.5 L461.4 3960 L463.1 3956.9 L464.8 3959.1 L466.4 3957.4 L468.1 3960.1 L469.8 3958.8 L471.4 3961.4 L473.1 3960.7 L474.7 3957.3 L476.4 3958.4 L478.1 3961.4 L479.7 3959.2 L481.4 3959.1 L483.1 3959.2 L484.7 3960.9 L486.4 3961.7 L488.1 3959.8 L489.7 3962 L491.4 3960.2 L493 3957.8 L494.7 3961.4 L496.4 3959.4 L498 3957.6 L499.7 3962.3 L501.4 3957.6 L501.9 3837 L503 3848.3 L504.7 3858.1 L506.4 3865.4 L508 3866.7 L509.7 3867.8 L511.3 3869.2 L513 3869.6 L514.7 3871.5 L516.3 3871.1 L518 3872.9 L519.7 3871.2 L521.3 3871.8 L523 3871.6 L524.6 3874.8 L526.3 3874.4 L528 3874.7 L529.6 3874 L531.3 3873.3 L533 3872.5 L534.6 3875.5 L536.3 3874.3 L538 3872.7 L539.6 3873.4 L541.3 3873.4 L542.9 3876.1 L544.6 3877 L546.3 3874.4 L547.9 3877 L549.6 3875.3 L551.3 3877 L552.9 3877.9 L554.6 3877.1 L556.3 3878.1 L557.9 3876.6 L559.6 3875.3 L561.2 3877.5 L562.9 3878 L564.6 3876.6 L566.2 3877.7 L567.9 3877.6 L569.6 3876.6 L571.2 3878 L572.9 3878.5 L574.5 3879.1 L576.2 3880.2 L577.9 3879.2 L579.5 3881.7 L581.2 3881.3 L582.9 3881.9 L584.5 3881.2 L586.2 3881.3 L587.9 3881 L589.5 3882.3 L591.2 3880.7 L592.8 3881.9 L594.5 3882.4 L596.2 3882 L597.8 3881.2 L599.5 3880.6 L601.2 3880.9 L602.8 3882.2 L604.5 3883.3 L606.2 3884.2 L607.8 3884.2 L609.5 3882.8 L611.1 3885.5 L613.9 3955 L615 3959.9 L616.7 3962.1 L618.4 3958.9 L620 3962.3 L621.7 3961.8 L623.3 3963.3 L625 3963 L626.7 3961.9 L628.3 3962.7 L630 3962.2 L631.7 3961.6 L633.3 3959.5 L635 3961.1 L636.6 3963 L638.3 3959.7 L640 3963.4 L641.6 3961.2 L643.3 3960.5 L645 3958.5 L646.6 3960.5 L648.3 3959.4 L650 3961.8 L651.6 3963 L653.3 3963.1 L654.9 3961.6 L656.6 3960.4 L658.3 3959 L659.9 3961.9 L661.6 3961.3 L663.3 3962.1 L664.9 3960.4 L666.6 3962.9 L668.3 3959.6 L669.9 3960 L671.6 3959.8 L673.2 3961.6 L674.9 3963 L676.6 3959.3 L678.2 3961.7 L679.9 3962.3 L681.6 3959.6 L683.2 3958.8 L684.9 3961.3 L686.5 3962.7 L688.2 3962.9 L689.9 3962.1 L691.5 3960.6 L693.2 3960.6 L694.9 3961.1 L696.5 3963 L698.2 3960 L699.9 3959.9 L701.5 3961.5 L703.2 3963.3 L704.8 3959.4 L706.5 3958.7 L708.2 3959.1 L709.8 3961.3 L711.5 3961.5 L713.2 3959.4 L714.8 3959.5 L716.5 3961.5 L718.2 3961.7 L719.8 3962 L721.5 3962.1 L723.1 3958.8 L724.8 3841 L725.9 3851 L727.6 3862.5 L729.2 3869.2 L730.9 3870.4 L732.6 3875 L734.2 3875.7 L735.9 3877.9 L737.6 3875.8 L739.2 3878.1 L740.9 3879.1 L742.5 3878 L744.2 3876.8 L745.9 3877.4 L747.5 3877.5 L749.2 3877.4 L750.9 3877.9 L752.5 3880 L754.2 3878.1 L755.9 3880.9 L757.5 3881.1 L759.2 3881.6 L760.8 3881.8 L762.5 3881.6 L764.2 3882.7 L765.8 3883 L767.5 3881.9 L769.2 3883.5 L770.8 3880.2 L772.5 3880.4 L774.2 3880.5 L775.8 3881.3 L777.5 3882.1 L779.1 3882.7 L780.8 3883.8 L782.5 3884.3 L784.1 3881.8 L785.8 3883.3 L787.5 3884.1 L789.1 3883.6 L790.8 3882.8 L792.4 3884.9 L794.1 3884.2 L795.8 3885.7 L797.4 3885.2 L799.1 3887.2 L800.8 3887.4 L802.4 3884.1 L804.1 3887 L805.8 3887.1 L807.4 3885.6 L809.1 3885.1 L810.7 3886.8 L812.4 3886.5 L814.1 3888.2 L815.7 3889.2 L817.4 3887.2 L819.1 3887.1 L820.7 3888.1 L822.4 3889.1 L824.1 3889.7 L825.7 3889 L827.4 3888.1 L829 3888.5 L830.7 3890.8 L832.4 3889.7 L834 3888 L835.1 3956 L836.8 3959.6 L838.5 3958.7 L840.1 3960.8 L841.8 3957.9 L843.5 3958.9 L845.1 3958 L846.8 3959.9 L848.4 3962.4 L850.1 3960.2 L851.8 3959.4 L853.4 3962.2 L855.1 3958 L856.8 3959.3 L858.4 3961.6 L860.1 3957.5 L861.8 3961.3 L863.4 3959.3 L865.1 3957.6 L866.7 3958.8 L868.4 3959.8 L870.1 3959.4 L871.7 3960.1 L873.4 3957.8 L875.1 3958.6 L876.7 3962.4 L878.4 3959.7 L880.1 3959.9 L881.7 3957.9 L883.4 3958.9 L885 3962.3 L886.7 3960.9 L888.4 3960 L890 3957.8" fill="none" stroke="#1a1a1a" stroke-width="3.8" stroke-linejoin="round" stroke-dasharray="11 6"/>
<circle cx="764.6" cy="3881.9" r="7.5" fill="#1a1a1a"/>
<line x1="407.8" y1="3506" x2="407.8" y2="3626.5" stroke="#444" stroke-width="2"/>
<path d="M407.8 3494 L412.3 3509 L403.3 3509 Z" fill="#333"/>
<path d="M407.8 3638.5 L403.3 3623.5 L412.3 3623.5 Z" fill="#333"/>
<line x1="405.1" y1="3881" x2="405.1" y2="3945" stroke="#444" stroke-width="2"/>
<path d="M405.1 3869 L409.6 3884 L400.6 3884 Z" fill="#333"/>
<path d="M405.1 3957 L400.6 3942 L409.6 3942 Z" fill="#333"/>
<line x1="502.4" y1="3443" x2="502.4" y2="3458" stroke="#444" stroke-width="2"/>
<path d="M502.4 3470 L498.4 3456 L506.4 3456 Z" fill="#333"/>
<line x1="612.1" y1="3488" x2="612.1" y2="3503" stroke="#444" stroke-width="2"/>
<path d="M612.1 3515 L608.1 3501 L616.1 3501 Z" fill="#333"/>
<text x="317.2" y="3473.6" font-family="'Liberation Sans', Arial, sans-serif" font-size="29.5" fill="#333">7.7<tspan dx="3">μA/cm</tspan><tspan font-size="19" dy="-13">2</tspan></text>
<text x="330.3" y="3850.3" font-family="'Liberation Sans', Arial, sans-serif" font-size="29.5" fill="#333">3.8<tspan dx="3">μA/cm</tspan><tspan font-size="19" dy="-13">2</tspan></text>
<text x="483.2" y="3438" font-family="'Liberation Sans', Arial, sans-serif" font-size="31" fill="#333">on</text>
<text x="597.5" y="3480.3" font-family="'Liberation Sans', Arial, sans-serif" font-size="31" fill="#333">off</text>
<line x1="592.3" y1="3730" x2="667" y2="3730" stroke="#1a1a1a" stroke-width="4.2"/>
<line x1="592.3" y1="3778.5" x2="667" y2="3778.5" stroke="#1a1a1a" stroke-width="4.2" stroke-dasharray="11 8"/>
<text x="673.7" y="3741.8" font-family="'Liberation Sans', Arial, sans-serif" font-size="30" fill="#333">MoS<tspan font-size="21" dy="8">2</tspan><tspan dy="-8">-TNB</tspan></text>
<text x="673.7" y="3789" font-family="'Liberation Sans', Arial, sans-serif" font-size="30" fill="#333">TNB</text>
<text x="912" y="3426" font-family="'DejaVu Sans', sans-serif" font-size="63.5" font-weight="200" fill="#2d2626">i</text>
<rect x="922.9" y="3575" width="522.7" height="361.3" fill="#f5f5f5"/>
<g clip-path="url(#temclip)">
<path d="M923 3588.4 L931.1 3594.9 L939.2 3598.5 L947.3 3604.5 L955.4 3609.3 L963.5 3606.3 L971.6 3606.4 L979.6 3611.7 L987.7 3608.7 L995.8 3608.9 L1005.9 3611.5 L1016 3606.3 L1026 3613.6 L1036 3616.5 L1044.2 3621.5 L1052.3 3622.6 L1060.4 3629.6 L1068.6 3635 L1075.7 3634.9 L1082.8 3638.2 L1089.9 3639.8 L1097 3638.2 L1104 3643.4 L1111.1 3643.4 L1118.2 3642.8 L1125.2 3642.2 L1133.3 3649.2 L1141.3 3648.8 L1149.4 3652.3 L1157.5 3655.3 L1167.6 3660.3 L1177.7 3667.5 L1187.8 3668.4 L1198 3674.8 L1205.6 3675.2 L1213.2 3680.7 L1220.7 3682.9 L1228.3 3680.8 L1235.9 3683.6 L1243.4 3686.6 L1251 3693.6 L1258.6 3693 L1266.7 3697.4 L1274.8 3698.7 L1282.8 3703.2 L1290.9 3705.7 L1299 3708.7 L1306.6 3711.6 L1314.2 3713.1 L1321.7 3716.6 L1329.3 3716.7 L1336.9 3719.7 L1344.4 3720.8 L1352 3723.1 L1359.6 3722.7 L1367.7 3722.9 L1375.8 3730.3 L1383.8 3734.1 L1391.9 3737 L1400 3738.2 L1407.6 3740.4 L1415.2 3738.8 L1422.8 3743.9 L1430.4 3743.7 L1438 3743.3 L1445.6 3746 L1445.6 3901 L1440.5 3909.7 L1432.4 3913.6 L1424.2 3911.2 L1416.1 3918.5 L1408 3919.2 L1401 3914.6 L1393.9 3912.4 L1386.8 3912.2 L1379.8 3909.8 L1371.7 3902.4 L1363.6 3903.4 L1355.6 3897.6 L1347.5 3899.2 L1339.4 3894.5 L1331.3 3895.4 L1323.2 3893.5 L1315.2 3888.3 L1307.1 3888.8 L1299 3882.3 L1291.9 3880.9 L1284.8 3884 L1277.8 3880.6 L1270.7 3881.6 L1262.6 3880.8 L1254.6 3880 L1246.5 3875.3 L1238.4 3872.6 L1230.3 3874.2 L1222.2 3867.7 L1214.2 3868.3 L1206.1 3864.6 L1198 3858.3 L1189.9 3858 L1181.8 3857.5 L1173.7 3857.5 L1165.6 3856.4 L1157.5 3855.4 L1149.4 3853.3 L1141.3 3852.8 L1133.2 3847.8 L1125.1 3845 L1117 3844.3 L1108.9 3838.2 L1100.9 3835.3 L1092.8 3836.1 L1084.8 3830.2 L1076.7 3827.1 L1068.6 3821.4 L1060.4 3821.4 L1052.3 3820 L1044.1 3814.2 L1036 3815.3 L1028 3813.8 L1019.9 3808.8 L1011.9 3810.6 L1003.8 3808 L995.8 3807.7 L987.7 3804.9 L979.6 3806.2 L971.6 3805.6 L963.5 3800.5 L955.4 3799.9 L947.3 3800.5 L939.2 3799.2 L931.1 3791.9 L923 3790.4 Z" fill="#b4b4b6" stroke="#707072" stroke-width="2.5" filter="url(#rimblur)"/>
<path d="M923 3612.2 L930.1 3614.4 L937.2 3613.4 L944.4 3615 L951.5 3615.8 L958.6 3617.4 L965.8 3620.4 L972.9 3619.2 L980 3621 L987 3626.6 L994 3623 L1001 3629.7 L1008 3633.4 L1015 3632.4 L1022 3634 L1029 3641.1 L1036 3638.9 L1043.1 3640.1 L1050.2 3643.6 L1057.3 3647.3 L1064.4 3644 L1071.6 3647.4 L1078.7 3649 L1085.8 3654.6 L1092.9 3653 L1100 3657.8 L1107.2 3654.1 L1114.4 3657.2 L1121.6 3661.5 L1128.8 3665.1 L1135.9 3663.4 L1143.1 3663.3 L1150.3 3664.2 L1157.5 3669.2 L1165.3 3669.2 L1173.1 3676.7 L1180.9 3679.6 L1188.8 3677 L1196.6 3680.4 L1204.4 3687.2 L1212.2 3688.5 L1220 3692.5 L1227.1 3691 L1234.1 3691.6 L1241.2 3695.1 L1248.3 3701.4 L1255.4 3699.5 L1262.4 3702.4 L1269.5 3705.2 L1276.6 3707.5 L1283.6 3709.7 L1290.7 3716 L1297.8 3712.2 L1304.9 3713.2 L1311.9 3723 L1319 3724.7 L1326.6 3727.3 L1334.2 3724.5 L1341.9 3730.3 L1349.5 3731.8 L1357.1 3727.8 L1364.8 3733.6 L1372.4 3736 L1380 3736.3 L1387.3 3737.3 L1394.6 3737.5 L1401.9 3740.1 L1409.2 3741.3 L1416.4 3742.1 L1423.7 3748.4 L1431 3748.1 L1438.3 3754.4 L1445.6 3754 L1445.6 3895.9 L1438.5 3901.1 L1431.3 3897.8 L1424.2 3898 L1417.1 3896.2 L1409.9 3894.6 L1402.8 3890.4 L1395.7 3884.2 L1388.5 3888.5 L1381.4 3882.2 L1374.3 3881.6 L1367.1 3882.9 L1360 3880.2 L1352.6 3878.1 L1345.2 3881.1 L1337.9 3877.4 L1330.5 3874 L1323.1 3872.1 L1315.7 3875.8 L1308.3 3871.5 L1300.9 3872.8 L1293.6 3868.2 L1286.2 3865.8 L1278.8 3867.3 L1271.5 3868.4 L1264.1 3862.1 L1256.8 3866 L1249.4 3865.9 L1242 3863.8 L1234.7 3862.8 L1227.3 3855.2 L1220 3859 L1212.2 3859 L1204.4 3850.6 L1196.6 3850.5 L1188.8 3848.6 L1180.9 3848.8 L1173.1 3846.1 L1165.3 3844.7 L1157.5 3845.2 L1150.3 3836.8 L1143.1 3834.9 L1135.9 3833.3 L1128.8 3831 L1121.6 3828.3 L1114.4 3833.3 L1107.2 3830.1 L1100 3821.7 L1092.9 3822.5 L1085.8 3818.5 L1078.7 3816 L1071.6 3813.8 L1064.4 3813.7 L1057.3 3810.7 L1050.2 3806.4 L1043.1 3802.5 L1036 3801.1 L1029 3798.2 L1022 3800.3 L1015 3800.3 L1008 3796.3 L1001 3792.6 L994 3792.1 L987 3792.3 L980 3792.8 L972.9 3792.5 L965.8 3787.5 L958.6 3789.2 L951.5 3786 L944.4 3782.7 L937.2 3780.5 L930.1 3779.7 L923 3778 Z" fill="#242426"/>
<g clip-path="url(#wireclip)">
<rect x="922.9" y="3575" width="522.7" height="361.3" fill="#fff" filter="url(#temtex)" opacity="0.45"/>
<rect x="922.9" y="3575" width="522.7" height="361.3" fill="#000" filter="url(#temtex2)" opacity="0.5"/>
</g>
<path d="M923 3612.2 L930.1 3614.4 L937.2 3613.4 L944.4 3615 L951.5 3615.8 L958.6 3617.4 L965.8 3620.4 L972.9 3619.2 L980 3621 L987 3626.6 L994 3623 L1001 3629.7 L1008 3633.4 L1015 3632.4 L1022 3634 L1029 3641.1 L1036 3638.9 L1043.1 3640.1 L1050.2 3643.6 L1057.3 3647.3 L1064.4 3644 L1071.6 3647.4 L1078.7 3649 L1085.8 3654.6 L1092.9 3653 L1100 3657.8 L1107.2 3654.1 L1114.4 3657.2 L1121.6 3661.5 L1128.8 3665.1 L1135.9 3663.4 L1143.1 3663.3 L1150.3 3664.2 L1157.5 3669.2 L1165.3 3669.2 L1173.1 3676.7 L1180.9 3679.6 L1188.8 3677 L1196.6 3680.4 L1204.4 3687.2 L1212.2 3688.5 L1220 3692.5 L1227.1 3691 L1234.1 3691.6 L1241.2 3695.1 L1248.3 3701.4 L1255.4 3699.5 L1262.4 3702.4 L1269.5 3705.2 L1276.6 3707.5 L1283.6 3709.7 L1290.7 3716 L1297.8 3712.2 L1304.9 3713.2 L1311.9 3723 L1319 3724.7 L1326.6 3727.3 L1334.2 3724.5 L1341.9 3730.3 L1349.5 3731.8 L1357.1 3727.8 L1364.8 3733.6 L1372.4 3736 L1380 3736.3 L1387.3 3737.3 L1394.6 3737.5 L1401.9 3740.1 L1409.2 3741.3 L1416.4 3742.1 L1423.7 3748.4 L1431 3748.1 L1438.3 3754.4 L1445.6 3754 L1445.6 3895.9 L1438.5 3901.1 L1431.3 3897.8 L1424.2 3898 L1417.1 3896.2 L1409.9 3894.6 L1402.8 3890.4 L1395.7 3884.2 L1388.5 3888.5 L1381.4 3882.2 L1374.3 3881.6 L1367.1 3882.9 L1360 3880.2 L1352.6 3878.1 L1345.2 3881.1 L1337.9 3877.4 L1330.5 3874 L1323.1 3872.1 L1315.7 3875.8 L1308.3 3871.5 L1300.9 3872.8 L1293.6 3868.2 L1286.2 3865.8 L1278.8 3867.3 L1271.5 3868.4 L1264.1 3862.1 L1256.8 3866 L1249.4 3865.9 L1242 3863.8 L1234.7 3862.8 L1227.3 3855.2 L1220 3859 L1212.2 3859 L1204.4 3850.6 L1196.6 3850.5 L1188.8 3848.6 L1180.9 3848.8 L1173.1 3846.1 L1165.3 3844.7 L1157.5 3845.2 L1150.3 3836.8 L1143.1 3834.9 L1135.9 3833.3 L1128.8 3831 L1121.6 3828.3 L1114.4 3833.3 L1107.2 3830.1 L1100 3821.7 L1092.9 3822.5 L1085.8 3818.5 L1078.7 3816 L1071.6 3813.8 L1064.4 3813.7 L1057.3 3810.7 L1050.2 3806.4 L1043.1 3802.5 L1036 3801.1 L1029 3798.2 L1022 3800.3 L1015 3800.3 L1008 3796.3 L1001 3792.6 L994 3792.1 L987 3792.3 L980 3792.8 L972.9 3792.5 L965.8 3787.5 L958.6 3789.2 L951.5 3786 L944.4 3782.7 L937.2 3780.5 L930.1 3779.7 L923 3778 Z" fill="none" stroke="#555" stroke-width="6" opacity="0.5" filter="url(#rimblur)"/>
</g>
<path d="M993.8 3542.3 L1019.6 3547.5 L993.3 3547.5 Z" fill="#e6ec3a"/>
<path d="M992.5 3550 L1007.3 3560.9 L990 3554.6 Z" fill="#e6ec3a"/>
<path d="M988.4 3556.6 L1002.9 3578.5 L984.3 3559.9 Z" fill="#e6ec3a"/>
<path d="M982 3561.1 L984.8 3579.3 L977 3562.6 Z" fill="#e6ec3a"/>
<path d="M974.4 3562.9 L969.2 3588.7 L969.2 3562.4 Z" fill="#e6ec3a"/>
<path d="M966.7 3561.6 L955.8 3576.4 L962.1 3559.1 Z" fill="#e6ec3a"/>
<path d="M960.1 3557.5 L938.2 3572 L956.8 3553.4 Z" fill="#e6ec3a"/>
<path d="M955.6 3551.1 L937.4 3553.9 L954.1 3546.1 Z" fill="#e6ec3a"/>
<path d="M953.8 3543.5 L928 3538.3 L954.3 3538.3 Z" fill="#e6ec3a"/>
<path d="M955.1 3535.8 L940.3 3524.9 L957.6 3531.2 Z" fill="#e6ec3a"/>
<path d="M959.2 3529.2 L944.7 3507.3 L963.3 3525.9 Z" fill="#e6ec3a"/>
<path d="M965.6 3524.7 L962.8 3506.5 L970.6 3523.2 Z" fill="#e6ec3a"/>
<path d="M973.2 3522.9 L978.4 3497.1 L978.4 3523.4 Z" fill="#e6ec3a"/>
<path d="M980.9 3524.2 L991.8 3509.4 L985.5 3526.7 Z" fill="#e6ec3a"/>
<path d="M987.5 3528.3 L1009.4 3513.8 L990.8 3532.4 Z" fill="#e6ec3a"/>
<path d="M992 3534.7 L1010.2 3531.9 L993.5 3539.7 Z" fill="#e6ec3a"/>
<circle cx="973.8" cy="3542.9" r="24" fill="url(#sung)"/>
<rect x="1054.2" y="3555.6" width="91.6" height="38.2" fill="#7b6fc6"/>
<rect x="1054.2" y="3876.3" width="91.6" height="38.1" fill="#7b6fc6"/>
<text x="1100" y="3587.8" font-family="'Liberation Sans', Arial, sans-serif" font-size="37.5" font-weight="bold" text-anchor="middle" fill="#222">CB</text>
<text x="1100" y="3908.5" font-family="'Liberation Sans', Arial, sans-serif" font-size="37.5" font-weight="bold" text-anchor="middle" fill="#222">VB</text>
<line x1="1097.5" y1="3876.3" x2="1097.5" y2="3625" stroke="#3cc8d4" stroke-width="6"/>
<path d="M1097.5 3594 L1118 3641 L1097.5 3630 L1077 3641 Z" fill="#3cc8d4"/>
<circle cx="1085.8" cy="3541.9" r="13" fill="url(#egrad)"/>
<rect x="1078.6" y="3539.3" width="14.3" height="5.2" fill="#111"/>
<circle cx="1116.3" cy="3541.9" r="13" fill="url(#egrad)"/>
<rect x="1109.1" y="3539.3" width="14.3" height="5.2" fill="#111"/>
<circle cx="1228.3" cy="3563.2" r="13" fill="url(#egrad)"/>
<rect x="1221.1" y="3560.6" width="14.3" height="5.2" fill="#111"/>
<rect x="1191.1" y="3642.1" width="65.2" height="49.4" fill="#f7931e"/>
<circle cx="1209.5" cy="3657.4" r="13" fill="url(#egrad)"/>
<rect x="1202.3" y="3654.8" width="14.3" height="5.2" fill="#111"/>
<circle cx="1238.5" cy="3662.5" r="13" fill="url(#egrad)"/>
<rect x="1231.3" y="3659.9" width="14.3" height="5.2" fill="#111"/>
<text x="1194.2" y="3717" font-family="'Liberation Sans', Arial, sans-serif" font-size="26.5" font-weight="bold" fill="#f08a28">MoS<tspan font-size="19" dy="7">2</tspan></text>
<path d="M1146 3570 C1165 3540, 1215 3540, 1222 3580 L1224 3612" fill="none" stroke="#ef3b55" stroke-width="9" stroke-linecap="round"/>
<path d="M1209 3612 L1238 3612 L1220 3643 Z" fill="#ef3b55"/>
<path d="M1290 3597 C1255 3612, 1250 3660, 1268 3686 C1276 3697, 1283 3701, 1288 3703" fill="none" stroke="#ef3b55" stroke-width="14"/>
<path d="M1280 3690 L1306 3710 L1278 3720 Z" fill="#ef3b55"/>
<text x="1299.6" y="3614.1" font-family="'Liberation Sans', Arial, sans-serif" font-size="38" font-weight="bold" fill="#1e1e1e">CO<tspan font-size="26" dy="9">2</tspan><tspan dy="-9">+ H</tspan><tspan font-size="26" dy="9">2</tspan><tspan dy="-9">O</tspan></text>
<text x="1309.7" y="3717" font-family="'Liberation Sans', Arial, sans-serif" font-size="38" font-weight="bold" fill="#1e1e1e">CH<tspan font-size="26" dy="9">4</tspan><tspan dy="-9">+ CH</tspan><tspan font-size="26" dy="9">3</tspan><tspan dy="-9">OH</tspan></text>
<text x="1009.4" y="3755.6" font-family="'Liberation Sans', Arial, sans-serif" font-size="38" font-weight="bold" fill="#f4f4f4">TiO<tspan font-size="27" dy="9">2</tspan></text>
<line x1="1279.2" y1="3957.7" x2="1272.5" y2="3908" stroke="#f29a3a" stroke-width="4"/>
<path d="M1270.5 3889 L1283.5 3911.5 L1263.7 3914.1 Z" fill="#f29a3a"/>
<text x="1236" y="3990.8" font-family="'Liberation Sans', Arial, sans-serif" font-size="39" font-weight="bold" fill="#f08a28">MoS<tspan font-size="27" dy="9">2</tspan></text>
<line x1="1576.5" y1="3441" x2="1576.5" y2="4017" stroke="#222" stroke-width="5" stroke-dasharray="7 6"/>
<text x="1598.5" y="3432" font-family="'DejaVu Sans', sans-serif" font-size="63.5" font-weight="200" fill="#2d2626">j</text>
<line x1="1762.7" y1="3474.7" x2="1762.7" y2="4003.7" stroke="#111" stroke-width="8.5"/>
<line x1="1750" y1="3511.6" x2="1762.7" y2="3511.6" stroke="#111" stroke-width="6.5"/>
<line x1="1745" y1="3556.2" x2="1762.7" y2="3556.2" stroke="#111" stroke-width="8"/>
<text x="1725" y="3579.2" font-family="'Liberation Sans', Arial, sans-serif" font-size="46" font-weight="bold" text-anchor="end" fill="#1e1e1e">-1</text>
<line x1="1750" y1="3600.8" x2="1762.7" y2="3600.8" stroke="#111" stroke-width="6.5"/>
<line x1="1745" y1="3645.5" x2="1762.7" y2="3645.5" stroke="#111" stroke-width="8"/>
<text x="1725" y="3668.5" font-family="'Liberation Sans', Arial, sans-serif" font-size="46" font-weight="bold" text-anchor="end" fill="#1e1e1e">0</text>
<line x1="1750" y1="3690.2" x2="1762.7" y2="3690.2" stroke="#111" stroke-width="6.5"/>
<line x1="1745" y1="3734.8" x2="1762.7" y2="3734.8" stroke="#111" stroke-width="8"/>
<text x="1725" y="3757.8" font-family="'Liberation Sans', Arial, sans-serif" font-size="46" font-weight="bold" text-anchor="end" fill="#1e1e1e">1</text>
<line x1="1750" y1="3779.4" x2="1762.7" y2="3779.4" stroke="#111" stroke-width="6.5"/>
<line x1="1745" y1="3824.1" x2="1762.7" y2="3824.1" stroke="#111" stroke-width="8"/>
<text x="1725" y="3847.1" font-family="'Liberation Sans', Arial, sans-serif" font-size="46" font-weight="bold" text-anchor="end" fill="#1e1e1e">2</text>
<line x1="1750" y1="3868.8" x2="1762.7" y2="3868.8" stroke="#111" stroke-width="6.5"/>
<line x1="1745" y1="3913.4" x2="1762.7" y2="3913.4" stroke="#111" stroke-width="8"/>
<text x="1725" y="3936.4" font-family="'Liberation Sans', Arial, sans-serif" font-size="46" font-weight="bold" text-anchor="end" fill="#1e1e1e">3</text>
<line x1="1750" y1="3958.1" x2="1762.7" y2="3958.1" stroke="#111" stroke-width="6.5"/>
<text x="1662.4" y="3735" font-family="'Liberation Sans', Arial, sans-serif" font-size="45.5" font-weight="bold" text-anchor="middle" fill="#1e1e1e" transform="rotate(-90 1662.4 3735)">V vs NHE pH=0 (eV)</text>
<text x="1920.5" y="3510" font-family="'Liberation Sans', Arial, sans-serif" font-size="35" font-weight="bold" fill="#1e1e1e">TiO<tspan font-size="25" dy="12">2</tspan></text>
<line x1="1769" y1="3597.6" x2="2087" y2="3597.6" stroke="#1a1a1a" stroke-width="3.5" stroke-dasharray="9 6"/>
<line x1="1769" y1="3618.9" x2="1921.8" y2="3618.9" stroke="#1a1a1a" stroke-width="3.5" stroke-dasharray="9 6"/>
<line x1="1769" y1="3874" x2="2087" y2="3874" stroke="#1a1a1a" stroke-width="3.5" stroke-dasharray="9 6"/>
<line x1="1769" y1="3901.4" x2="1921.8" y2="3901.4" stroke="#1a1a1a" stroke-width="3.5" stroke-dasharray="9 6"/>
<rect x="1829.6" y="3578.4" width="92.2" height="39.7" fill="#c552b7" opacity="0.9"/>
<rect x="1829.6" y="3903.9" width="92.2" height="39.3" fill="#c552b7"/>
<rect x="1995.2" y="3555" width="91.7" height="40.5" fill="#6a60c0"/>
<rect x="1995.2" y="3874.9" width="91.7" height="39.3" fill="#6a60c0"/>
<text x="1875.7" y="3611" font-family="'Liberation Sans', Arial, sans-serif" font-size="37" font-weight="bold" text-anchor="middle" fill="#222">CB</text>
<text x="1875.7" y="3936" font-family="'Liberation Sans', Arial, sans-serif" font-size="37" font-weight="bold" text-anchor="middle" fill="#222">VB</text>
<text x="2041" y="3588.5" font-family="'Liberation Sans', Arial, sans-serif" font-size="37" font-weight="bold" text-anchor="middle" fill="#222">CB</text>
<text x="2041" y="3907.5" font-family="'Liberation Sans', Arial, sans-serif" font-size="37" font-weight="bold" text-anchor="middle" fill="#222">VB</text>
<line x1="1875.7" y1="3904" x2="1875.7" y2="3650" stroke="#3cc8d4" stroke-width="5.5"/>
<path d="M1875.7 3621 L1894 3663 L1875.7 3652 L1857.4 3663 Z" fill="#3cc8d4"/>
<line x1="2038.7" y1="3875" x2="2038.7" y2="3625" stroke="#3cc8d4" stroke-width="5.5"/>
<path d="M2038.7 3596 L2057 3638 L2038.7 3627 L2020.4 3638 Z" fill="#3cc8d4"/>
<line x1="1909.8" y1="3621" x2="1990" y2="3833" stroke="#ee3035" stroke-width="7" stroke-dasharray="15 8"/>
<path d="M2003.7 3870.6 L1972 3837 L1992 3838 L2004 3822 Z" fill="#ee3035"/>
<circle cx="1875.7" cy="3564.3" r="13" fill="url(#egrad)"/>
<rect x="1868.5" y="3561.7" width="14.3" height="5.2" fill="#111"/>
<circle cx="1968.7" cy="3733.3" r="13" fill="url(#egrad)"/>
<rect x="1961.5" y="3730.7" width="14.3" height="5.2" fill="#111"/>
<circle cx="2025.9" cy="3542.1" r="13" fill="url(#egrad)"/>
<rect x="2018.8" y="3539.5" width="14.3" height="5.2" fill="#111"/>
<circle cx="2057" cy="3542.1" r="13" fill="url(#egrad)"/>
<rect x="2049.8" y="3539.5" width="14.3" height="5.2" fill="#111"/>
<text x="1876.7" y="3973.9" font-family="'Liberation Sans', Arial, sans-serif" font-size="31" font-weight="bold" text-anchor="middle" fill="#c04ab0">A</text>
<text x="2040.6" y="3947.4" font-family="'Liberation Sans', Arial, sans-serif" font-size="31" font-weight="bold" text-anchor="middle" fill="#4b4fb0">R</text>
<text x="1841.6" y="4009.3" font-family="'Liberation Sans', Arial, sans-serif" font-size="30" font-style="italic" font-weight="bold" fill="#e8333a" textLength="196" lengthAdjust="spacingAndGlyphs">homojunction</text>
</svg></body></html>
